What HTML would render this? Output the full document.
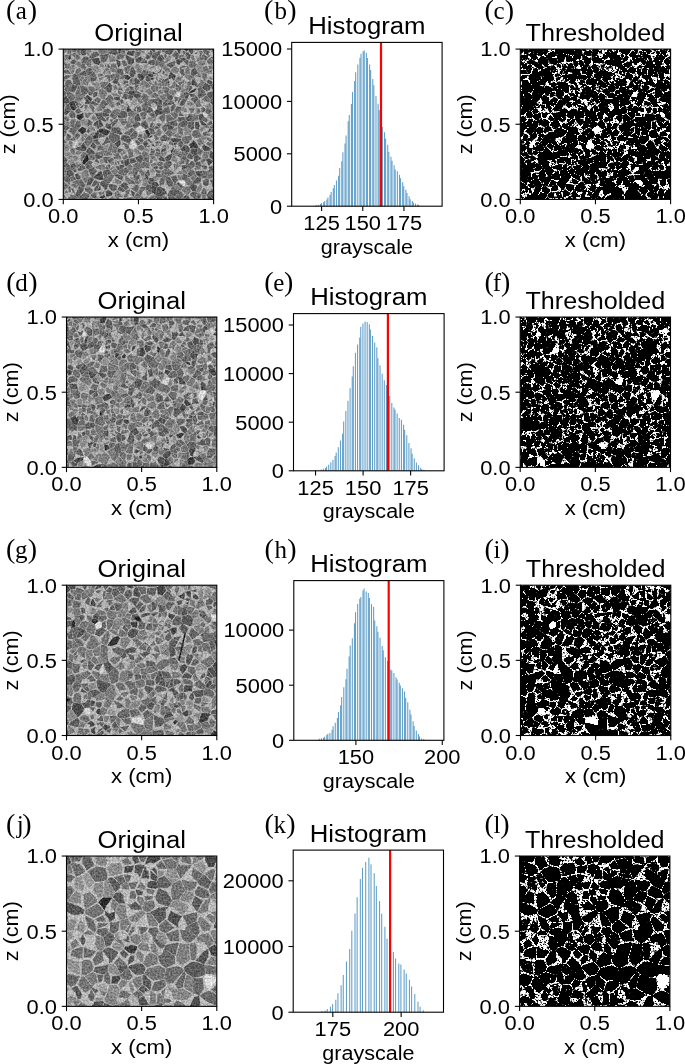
<!DOCTYPE html>
<html><head><meta charset="utf-8"><style>
html,body{margin:0;padding:0;background:#fff;}
svg{display:block;opacity:0.999;}
text{font-family:"Liberation Sans",sans-serif;fill:#000;}
text.pl{font-family:"Liberation Serif",serif;}
</style></head><body>
<svg width="685" height="1064" viewBox="0 0 685 1064">
<defs>
<filter id="nz1" x="0" y="0" width="1" height="1" color-interpolation-filters="sRGB">
<feTurbulence type="fractalNoise" baseFrequency="0.55" numOctaves="2" seed="7" result="n"/>
<feColorMatrix in="n" type="matrix" values="1 0 0 0 0  1 0 0 0 0  1 0 0 0 0  0 0 0 0 1" result="g"/>
<feComposite in="SourceGraphic" in2="g" operator="arithmetic" k1="0" k2="1" k3="0.45" k4="-0.2449"/>
<feGaussianBlur stdDeviation="0.3"/>
</filter>
<filter id="th1" x="0" y="0" width="1" height="1" color-interpolation-filters="sRGB">
<feGaussianBlur stdDeviation="0.5"/>
<feColorMatrix type="matrix" values="4.667 4.667 4.667 0 -8.3972  4.667 4.667 4.667 0 -8.3972  4.667 4.667 4.667 0 -8.3972  0 0 0 1 0"/>
<feGaussianBlur stdDeviation="0.3"/>
</filter>
<filter id="nz2" x="0" y="0" width="1" height="1" color-interpolation-filters="sRGB">
<feTurbulence type="fractalNoise" baseFrequency="0.55" numOctaves="2" seed="14" result="n"/>
<feColorMatrix in="n" type="matrix" values="1 0 0 0 0  1 0 0 0 0  1 0 0 0 0  0 0 0 0 1" result="g"/>
<feComposite in="SourceGraphic" in2="g" operator="arithmetic" k1="0" k2="1" k3="0.45" k4="-0.2373"/>
<feGaussianBlur stdDeviation="0.3"/>
</filter>
<filter id="th2" x="0" y="0" width="1" height="1" color-interpolation-filters="sRGB">
<feGaussianBlur stdDeviation="0.5"/>
<feColorMatrix type="matrix" values="4.667 4.667 4.667 0 -8.6240  4.667 4.667 4.667 0 -8.6240  4.667 4.667 4.667 0 -8.6240  0 0 0 1 0"/>
<feGaussianBlur stdDeviation="0.3"/>
</filter>
<filter id="nz3" x="0" y="0" width="1" height="1" color-interpolation-filters="sRGB">
<feTurbulence type="fractalNoise" baseFrequency="0.55" numOctaves="2" seed="21" result="n"/>
<feColorMatrix in="n" type="matrix" values="1 0 0 0 0  1 0 0 0 0  1 0 0 0 0  0 0 0 0 1" result="g"/>
<feComposite in="SourceGraphic" in2="g" operator="arithmetic" k1="0" k2="1" k3="0.45" k4="-0.2345"/>
<feGaussianBlur stdDeviation="0.3"/>
</filter>
<filter id="th3" x="0" y="0" width="1" height="1" color-interpolation-filters="sRGB">
<feGaussianBlur stdDeviation="0.5"/>
<feColorMatrix type="matrix" values="4.667 4.667 4.667 0 -8.6408  4.667 4.667 4.667 0 -8.6408  4.667 4.667 4.667 0 -8.6408  0 0 0 1 0"/>
<feGaussianBlur stdDeviation="0.3"/>
</filter>
<filter id="nz4" x="0" y="0" width="1" height="1" color-interpolation-filters="sRGB">
<feTurbulence type="fractalNoise" baseFrequency="0.55" numOctaves="2" seed="28" result="n"/>
<feColorMatrix in="n" type="matrix" values="1 0 0 0 0  1 0 0 0 0  1 0 0 0 0  0 0 0 0 1" result="g"/>
<feComposite in="SourceGraphic" in2="g" operator="arithmetic" k1="0" k2="1" k3="0.45" k4="-0.2162"/>
<feGaussianBlur stdDeviation="0.3"/>
</filter>
<filter id="th4" x="0" y="0" width="1" height="1" color-interpolation-filters="sRGB">
<feGaussianBlur stdDeviation="0.5"/>
<feColorMatrix type="matrix" values="4.667 4.667 4.667 0 -9.0748  4.667 4.667 4.667 0 -9.0748  4.667 4.667 4.667 0 -9.0748  0 0 0 1 0"/>
<feGaussianBlur stdDeviation="0.3"/>
</filter>
</defs>
<rect width="685" height="1064" fill="#fff"/>
<clipPath id="cp1"><rect x="63.30" y="49.10" width="150.30" height="150.30"/></clipPath>
<g id="og1" clip-path="url(#cp1)"><g filter="url(#nz1)">
<rect x="61.30" y="47.10" width="154.30" height="154.30" fill="rgb(178,178,178)"/>
<path fill="rgb(48,48,48)" d="M147.5 129.4l3.1 5.2l-2.4 2.7l-2.8 -5.2l0.2 -1.8zM87.4 154.1l-0.5 -0.4l-4.5 8.3l0.0 1.3l2.1 1.3l4.4 -4.5z"/>
<path fill="rgb(54,54,54)" d="M81.6 133.6l-3.0 -2.5l-0.8 -0.9l4.3 -3.3l3.5 1.3l0.1 3.8l-3.7 2.6zM76.7 117.8l1.0 0.6l2.5 2.0l3.3 -3.1l-0.3 -4.2l-0.7 0.5l-5.8 1.3z"/>
<path fill="rgb(60,60,60)" d="M219.7 184.0l-3.4 0.1l0.4 -4.0l1.8 -0.2l1.8 1.2zM99.5 197.5l0.7 -0.8l3.9 -1.8l1.4 2.1l-2.8 1.4l-0.9 0.1zM197.0 88.4l-2.4 3.2l-5.0 2.2l-0.7 -1.3l5.0 -3.4zM187.5 50.9l1.9 -5.6l-3.3 -1.5l-4.5 1.7l-0.8 1.2l3.0 1.8l2.6 3.0z"/>
<path fill="rgb(66,66,66)" d="M197.2 148.2l-6.4 0.2l-1.4 -3.6l4.1 -4.4l1.3 1.0l3.5 5.0zM99.6 132.6l-1.5 -2.7l1.5 -1.2l4.4 -0.2l5.5 2.5l0.6 0.6l-2.9 3.7l-0.9 0.3z"/>
<path fill="rgb(72,72,72)" d="M121.1 48.1l-0.6 5.1l-1.9 0.6l-0.6 -4.8zM120.6 141.9l-0.3 3.0l-2.8 2.7l-2.7 -4.2l5.1 -3.8zM95.5 132.4l1.4 0.0l0.8 -2.4l1.6 2.6l-1.4 5.6l-4.6 1.0l-0.8 -1.8zM129.0 105.4l-1.6 1.4l-1.0 3.6l1.1 2.2l4.3 -2.2l-2.2 -2.0zM90.7 101.7l1.4 -1.9l-0.6 -1.3l-0.8 -0.8l-3.2 -2.8l-2.1 1.5zM153.0 74.7l0.2 1.9l-2.4 0.8l-2.9 -2.0l0.7 -1.6l3.8 0.1zM69.1 58.8l-2.3 1.1l3.2 -4.8l0.9 0.4l0.2 2.6l-2.0 2.4zM73.7 100.8l-3.6 1.0l-1.1 1.8l2.5 6.2l2.8 0.6l2.4 -2.6zM125.0 78.9l3.4 1.2l2.5 -2.5l-3.3 -2.5l-2.1 -0.1l-1.5 -0.5zM61.0 48.5l-3.5 -6.6l-7.9 11.3l7.3 -1.1l1.9 2.4zM208.9 130.4l0.6 -2.2l1.3 0.6l-0.4 3.1l-2.5 0.3l0.5 -1.8z"/>
<path fill="rgb(78,78,78)" d="M133.5 196.9l1.4 -3.9l-3.9 -2.8l0.7 4.1zM183.1 61.0l-4.5 -2.1l-0.0 -0.0l-2.7 1.7l1.2 3.4l2.0 0.8l1.6 -2.1zM207.4 200.6l5.1 0.9l0.0 2.5l-2.8 1.2l-3.2 -1.4l-0.7 -2.6zM209.3 150.7l1.1 -1.3l0.5 -0.7l-0.7 -0.9l-4.8 -2.1l-1.3 -1.7l-2.1 3.0l2.3 3.9zM133.7 198.4l2.0 1.7l-0.4 3.2l-5.1 1.0l0.1 -2.3zM212.5 82.8l-1.7 2.2l-4.2 -2.9l1.9 -2.6l3.4 2.0zM112.3 195.3l-4.4 0.9l-1.7 0.5l-0.3 -2.7l-0.2 -2.5l2.6 -1.6l4.1 2.9zM144.0 79.0l-3.4 2.1l-2.9 -4.7l0.0 -2.3l2.9 -0.6l4.3 3.1zM206.9 195.3l1.0 3.7l4.7 2.2l0.5 -1.9l-3.2 -3.6zM83.5 151.2l1.9 -0.1l1.4 -3.7l-3.2 -4.6l-0.8 0.1l-2.1 3.4zM100.6 62.5l-2.1 -4.6l-7.2 1.1l3.0 4.4l3.3 1.0l0.9 0.6zM77.9 198.7l-9.0 2.9l-0.3 1.5l2.2 2.2l3.1 0.0l4.5 -5.6zM156.6 187.6l-1.1 7.1l-2.7 -2.1l-0.9 0.7l-0.5 -8.7l-0.0 -0.0zM168.9 150.7l1.8 -0.1l0.9 3.2l2.7 -5.5l-1.4 -0.1l-1.6 1.8l-1.4 0.5zM176.2 144.3l1.5 -1.8l-3.9 0.6l0.5 2.0zM153.6 74.3l3.8 -1.2l-2.4 -0.1l-1.4 -1.2l-0.8 1.8zM208.8 158.4l4.7 2.6l-1.5 1.8l-3.5 2.9l-0.9 -2.7l-1.6 -3.7zM153.9 181.6l-2.4 2.7l5.3 2.7l2.4 -1.2l-2.1 -3.2zM156.8 116.5l0.6 -1.5l6.3 -1.6l-1.2 -2.5l-5.6 -1.5l-2.2 1.6l-0.4 0.6z"/>
<path fill="rgb(84,84,84)" d="M122.2 46.6l0.9 -4.1l-4.0 -0.4l-2.7 1.8l-0.0 2.4l1.6 0.8l3.1 0.5zM151.0 77.9l0.1 2.4l2.2 -0.9l0.2 -0.5l1.6 -0.5l-1.2 0.1l-0.6 -1.3zM175.6 75.6l-4.9 -3.9l-1.6 2.9l-0.7 2.9l0.5 1.7l2.7 -1.2l2.8 3.0zM199.6 121.2l2.2 3.8l2.6 1.0l2.1 -1.6l-0.9 -0.6l-3.7 -3.6l-2.4 0.6zM183.3 60.8l-4.3 -2.3l5.1 -1.0l2.4 1.8zM134.7 97.2l-1.4 -1.6l1.4 -2.1l6.2 1.3l-0.8 2.6l-3.4 0.8zM94.9 148.9l-4.6 -2.3l2.4 -4.2l3.8 3.5zM151.0 135.6l1.8 -0.3l-1.8 2.2l-2.3 0.4l-0.3 -0.6zM194.9 122.5l0.4 6.1l3.3 0.8l1.1 -3.3l-1.3 -4.4zM76.6 54.3l-0.7 2.1l2.9 -1.0zM120.6 65.4l-2.4 1.9l-1.4 -4.6l-0.4 -3.3l3.8 1.9zM67.3 114.5l-1.9 0.4l-2.3 -3.1l7.8 -1.5zM97.7 191.2l2.0 -5.9l1.5 4.0zM196.1 174.0l1.6 2.1l2.6 1.3l2.5 -6.9l-2.2 0.7l-5.3 0.2zM148.6 177.0l-3.3 -4.0l-0.4 1.6l0.4 2.2l1.9 2.7l0.6 0.4zM179.4 54.0l0.9 -1.4l0.6 -2.6l-0.3 -3.2l-4.8 2.4l1.0 0.5zM100.0 119.5l-1.5 0.4l1.0 8.0l3.6 -1.9l-0.4 -2.6zM196.3 54.0l-2.2 0.0l1.7 -1.2l2.6 -1.4l-2.0 2.5zM133.2 55.9l-6.9 -1.6l1.4 -2.0l0.7 -1.8l2.3 0.6l2.5 -0.3l1.6 0.8zM173.6 142.5l-3.1 -2.5l0.1 -1.6l3.0 -0.4l7.1 0.9l0.5 1.2l-3.4 2.2zM162.2 55.1l-2.1 0.1l3.7 4.5l1.0 -0.9l-2.2 -2.8zM177.8 103.5l0.1 -1.5l1.9 -4.4l0.2 -0.1l1.6 1.5l-3.4 4.1zM103.1 177.3l-0.3 2.7l-3.3 0.1l-4.2 -1.4l-2.2 -1.5l5.7 -5.0l2.5 -1.3l0.4 0.5zM134.8 90.4l-5.3 -0.0l-1.5 3.4l0.7 0.4l4.4 1.4l1.4 -2.1zM74.6 167.0l0.3 -4.3l-4.5 2.8l-0.0 3.6l0.4 -0.2zM135.4 177.8l0.6 -1.5l1.4 -1.2l2.1 2.8l-1.6 2.2zM157.1 79.1l0.5 -0.0l-0.2 2.2l-0.8 -2.0l-1.2 -0.9zM181.4 165.7l3.1 -0.5l2.2 0.0l1.1 2.0l-5.4 2.9l-0.2 -2.5zM196.0 191.7l0.8 -6.3l-4.3 -1.5l-2.8 2.6l2.2 4.2zM169.0 155.0l2.6 -1.0l0.8 1.7l-2.1 4.4l-2.4 1.2l-1.6 -0.6l-1.2 -3.3zM109.1 114.1l-6.2 -1.3l-0.0 3.8l2.8 -0.1l3.1 -0.6zM111.4 41.8l-4.2 6.7l-2.3 -2.4l1.4 -1.8l1.0 -1.3l3.3 -2.7zM197.5 85.3l-4.6 -7.1l-1.5 3.3l0.2 3.6l3.1 0.1l2.5 2.3l0.7 0.1z"/>
<path fill="rgb(90,90,90)" d="M176.5 146.0l-2.2 -0.5l1.1 1.3l-0.4 0.8l1.4 -0.4zM106.2 124.2l-1.1 2.4l5.0 3.7l1.8 -2.9l-1.4 -3.7l-2.1 0.2l-1.3 -1.7zM205.3 82.4l0.4 1.0l5.0 1.8l-0.5 4.3l-3.5 1.8l-4.8 -3.6zM73.8 41.6l0.0 5.0l-2.5 1.8l-1.1 -0.1l0.6 -3.7zM215.8 43.1l-1.6 2.8l-1.9 1.0l-0.9 -1.1l2.7 -3.1zM58.9 98.0l7.6 -2.0l3.5 5.6l-1.3 1.7l-2.7 0.5l-1.9 -0.8zM181.4 150.0l-1.0 -0.3l3.9 -5.0l3.4 1.2l2.0 3.2l-0.3 2.7l-0.6 0.4l-6.8 -0.6zM120.6 98.3l-1.1 -0.9l0.6 -1.2l-6.1 1.1l0.6 3.0l1.6 -0.2l3.3 0.4zM95.8 153.1l-0.6 1.1l0.5 4.5l3.3 0.0l3.5 -1.1l-1.2 -1.2l1.4 -0.2zM216.3 97.0l0.9 -2.8l3.1 1.6l0.7 1.2l0.2 2.8l-3.3 1.6zM80.4 53.1l0.0 -5.2l2.7 -1.5l2.5 2.3l0.3 6.4l-3.4 -0.1l-0.5 -0.4zM140.7 119.9l-1.8 -5.8l-1.4 -0.6l-3.4 4.0l1.3 3.1l4.7 0.5zM182.5 87.2l0.4 0.4l0.6 -2.2l0.5 -2.4l-2.2 2.6zM198.0 73.1l-2.9 -5.3l-3.5 2.3l-1.0 3.9l2.6 2.8l0.7 -0.8zM213.9 121.9l-0.4 1.6l1.1 1.1l2.2 -0.9l-1.8 -1.6zM86.6 184.5l0.0 0.7l3.9 -0.1l3.3 -5.5l-1.1 -2.1l-2.9 0.1l-0.8 -0.6zM94.1 151.7l-0.3 -0.7l-4.3 -3.3l-1.4 0.5l-1.9 3.5l0.9 1.7l0.5 0.3l6.7 -0.0l1.2 -0.8zM209.2 157.3l4.5 3.3l1.6 -3.5l-0.8 -2.8l-3.1 -3.5l-1.4 0.9zM147.4 206.7l1.0 1.0l-7.3 -2.9l1.4 -3.2l3.2 0.3zM189.5 203.0l-3.6 -1.7l0.7 -5.9l2.2 0.5l0.7 3.4zM197.4 154.7l-0.2 -6.3l-6.3 1.1l-0.8 2.5l3.7 4.2zM57.9 129.1l2.3 -0.5l0.9 -2.5l-4.1 -3.8l-1.9 1.4l1.8 6.8zM134.2 77.6l2.1 0.4l3.8 3.5l-0.6 2.1l-0.1 0.5l-4.2 -0.1zM213.2 83.7l5.2 2.7l-3.5 3.7l-2.8 -0.9l-1.2 -4.1zM216.0 157.9l4.9 1.2l1.8 4.6l-4.9 1.6l-1.0 -3.1l-2.7 -1.3zM167.1 150.8l-6.1 1.6l-0.5 -0.1l0.9 -2.4l4.9 -2.5l-0.2 3.3zM192.6 53.1l-1.2 1.1l-2.9 -2.9l1.4 -5.7l1.8 -0.4l2.0 5.9zM94.4 199.5l3.4 -1.3l-2.1 4.0l-0.6 1.9zM108.6 164.4l1.3 -0.3l0.0 2.0l-0.3 3.5l-0.9 -0.5l-0.6 -4.0zM90.6 101.8l-5.7 -5.1l-0.9 -0.1l2.0 5.2l-1.0 0.7l-0.2 0.9l3.3 0.9l1.8 -0.7zM149.9 145.0l-0.3 1.2l-0.3 1.0l-3.4 -0.2l3.5 -1.7zM132.7 58.4l-6.6 -3.7l-0.5 0.3l0.7 3.7l2.0 5.8l3.1 0.2l1.2 -0.8l1.2 -1.4l0.6 -4.0zM117.8 81.1l1.1 1.1l-2.3 1.9l-2.7 -0.6l-1.6 -1.4l2.9 -3.7l3.9 0.9zM135.1 58.5l1.0 3.9l3.0 0.3l4.7 -4.5l-2.7 -0.7l0.3 -1.3zM83.9 104.5l-1.9 3.4l-2.9 -0.0l1.0 -0.6l2.6 -2.3zM124.3 164.9l-0.1 -4.7l4.5 -1.7l0.3 0.5l1.0 4.6l-3.9 3.0l-0.5 -0.9zM158.0 101.3l0.3 3.3l3.6 0.4l0.7 -3.7l-3.5 -2.5zM162.6 69.9l2.6 3.0l-2.9 1.1l0.5 -1.2zM77.9 86.0l-4.8 -1.2l-0.7 0.0l-2.7 6.7l4.4 0.8zM159.7 186.4l4.3 2.2l1.0 1.7l2.4 3.7l-1.7 -0.3l-2.8 2.0l-5.7 0.7l-1.6 -1.6l1.5 -7.2zM148.5 138.7l2.5 2.8l2.6 0.6l-0.9 0.2l-2.0 0.6l-0.3 -0.3l-3.3 -2.6zM198.4 114.9l0.8 4.9l2.6 0.1l2.6 -2.7l-2.2 -3.6l-0.8 0.6zM154.2 149.7l-3.5 1.1l0.4 -1.9l0.3 -1.2l0.8 1.3zM213.7 119.4l-1.8 0.1l1.9 -6.5l1.0 3.2l1.4 -0.8l1.5 2.4l-2.6 1.1zM172.0 130.3l-3.9 -0.8l-1.5 -6.2l7.5 3.9zM168.4 168.2l-0.4 -6.7l2.5 -0.5l1.2 2.7l-1.0 2.1zM88.5 133.0l-1.4 -1.4l0.5 -2.8l-0.3 -1.8l3.2 4.0zM63.4 199.0l-1.4 0.1l-0.1 2.5l2.6 0.5l2.1 0.4l1.2 -1.1l-1.2 -2.5zM69.6 177.0l-3.7 -1.8l1.3 -4.5l3.1 -1.4l0.3 0.3l3.3 3.7l-0.4 1.6zM202.0 49.5l0.6 -0.6l0.4 -3.8l-6.3 -4.3l-1.7 2.0l4.8 7.1zM123.5 182.3l-3.6 3.2l5.9 4.6l3.1 -2.5l-1.9 -1.8l1.4 -1.7l-4.1 -1.4zM98.0 119.9l-3.7 3.2l-1.1 2.3l4.0 1.7l0.6 2.4l1.1 -1.5l-0.6 -8.1zM162.2 80.5l1.2 -1.7l1.3 1.0l2.5 -1.8l1.4 1.4l-1.8 2.1l-2.1 0.3l-2.9 -0.6zM163.3 60.2l0.5 2.2l-6.9 -2.2l1.7 -4.5l1.4 -0.4zM161.0 155.9l-2.4 3.0l0.5 1.4l4.5 1.1l2.2 -0.5l-1.9 -3.0zM78.5 74.2l4.5 -2.9l2.1 -0.8l1.8 4.9l-1.8 0.7zM107.5 64.2l0.7 -0.1l0.7 0.8l1.5 2.0l-1.3 1.0l-1.7 -0.2z"/>
<path fill="rgb(96,96,96)" d="M120.3 74.7l-3.9 -3.3l0.6 -2.0l1.5 -1.0l2.8 1.2l1.0 -1.2l1.2 4.6l0.4 1.5zM65.0 47.4l1.4 -4.3l1.0 2.1l1.2 -0.5l1.6 3.7l-3.1 1.0zM123.3 80.7l0.5 3.5l4.0 -1.5l0.3 -1.7l-3.1 -0.5zM107.2 159.9l4.5 -2.8l-1.7 0.2l-5.7 -0.4l-1.5 0.8l1.4 2.0zM189.5 93.9l5.2 -0.1l2.0 2.6l-6.0 0.4zM157.5 101.5l-3.4 1.3l2.0 1.1l0.5 2.1l1.5 -1.4zM78.9 108.1l1.0 2.6l2.1 1.1l-5.5 2.3l-1.2 -3.0l2.6 -2.1zM153.1 146.0l-1.3 0.3l-0.4 -1.6l2.1 -0.6l1.6 2.7zM139.2 134.1l2.2 0.3l1.3 3.9l-4.6 -1.2zM203.3 201.2l2.0 0.1l0.7 2.6l-1.6 0.5l-1.9 0.2l-0.1 -0.7zM158.9 166.5l-2.0 -2.2l0.9 -1.7l0.0 -0.3l3.9 3.4zM210.3 99.1l-3.7 -4.3l1.2 -2.0l3.6 -1.3l3.1 0.3l2.2 2.0l-1.4 2.7zM120.2 130.9l2.5 2.9l-2.2 1.2l-9.7 -3.3l0.4 -0.7l1.0 -3.4l6.0 -0.4l2.7 1.7zM117.7 116.4l3.6 -5.8l4.1 0.8l1.7 1.7l0.2 3.2l-1.5 1.1l-7.3 1.2l0.2 -1.1zM201.1 157.8l-1.7 2.3l-4.0 2.5l-1.5 -3.2l0.0 -3.0l3.6 -1.6l2.1 2.0zM179.3 104.1l2.3 2.4l2.7 -2.1l2.2 -3.7l-1.9 -1.6l-2.5 0.1zM131.3 99.9l-3.4 -1.2l0.7 -3.9l4.5 0.8l0.1 2.0l-1.8 2.2zM157.3 101.0l-3.3 1.7l-4.5 -2.7l2.1 -0.8l7.2 -0.7l0.2 0.3zM153.9 176.5l-0.3 5.0l-2.3 2.8l-0.0 -0.0l-2.5 -0.3l-0.7 -3.8l1.7 -2.4l1.8 0.5l1.5 -0.8zM131.6 139.6l-2.6 4.2l-6.8 -3.3l-1.8 -1.4l1.2 -2.9l1.7 -1.7l5.4 1.8zM161.3 203.5l1.5 -7.3l-5.6 0.4l-0.7 4.5l2.3 -0.8zM97.5 191.1l1.6 -6.0l0.2 -3.1l-4.6 6.3l-0.4 2.8l2.3 -0.4zM110.6 83.0l-0.1 0.9l1.7 1.3l-0.6 5.3l-0.9 2.3l-2.0 -0.0l-4.8 -4.4l5.3 -5.5zM202.7 165.3l2.4 0.3l2.5 0.9l-1.2 2.4l-3.3 1.2l0.5 -2.2l-2.3 -1.8zM191.9 120.6l-3.7 0.8l-2.8 -2.0l0.1 -2.9l2.4 0.7l0.6 -2.9l3.3 -0.0zM79.0 185.8l-1.6 4.5l-2.0 3.9l2.7 3.8l5.1 -6.7l0.6 -3.3zM217.2 54.5l2.1 3.3l-2.2 3.8l-2.1 -1.5l-4.5 -2.7l3.5 -1.0l0.9 -2.8zM122.3 192.1l3.2 -1.7l-6.0 -4.4l-0.5 1.0l-1.5 2.7zM186.5 195.3l-1.0 5.9l-1.8 0.5l-2.8 -1.8l3.8 -4.1zM160.2 149.7l-2.5 -0.4l0.2 -1.3l-2.2 -0.8l1.7 2.1l-2.6 0.4l1.5 1.3l3.9 1.3zM70.4 61.8l2.5 -2.4l1.1 -0.1l2.3 1.6l-1.5 3.4l-3.7 -0.4zM119.5 152.7l-2.2 -0.2l0.4 -4.5l3.1 1.2l3.3 0.5zM147.2 128.4l1.4 -1.2l-1.2 -3.4l-1.8 -3.5l-3.0 1.4l-1.1 0.6l-0.7 2.6l4.3 4.0zM159.6 167.3l2.1 -1.5l0.6 0.2l1.4 2.3l-2.6 1.8l-2.0 -1.6zM218.9 49.9l-1.4 1.5l-2.5 1.8l2.4 0.8l1.5 -2.5zM120.8 165.1l3.3 0.0l0.1 1.6l-1.6 2.1l-2.5 0.3l-1.2 -3.7zM123.3 101.1l-1.8 -2.3l-1.4 2.1l0.9 3.2l2.6 -1.1zM76.6 179.1l2.5 0.6l1.3 -1.8l0.5 -0.3l-2.0 -3.1l-1.1 -1.0l-2.1 0.6l-1.2 1.2zM125.8 100.0l-0.8 -1.3l-3.1 -0.6l0.9 -1.4l1.2 -3.4l3.4 0.9l0.3 0.6l-0.5 3.8zM115.3 47.4l-6.6 5.4l0.5 -0.1l0.1 0.9l5.4 1.4l3.7 -1.1l-2.0 -5.0zM150.4 124.2l1.8 -2.3l1.4 1.8l-2.6 4.0l-1.6 -0.6zM136.4 105.9l1.5 1.1l2.2 -0.7l1.8 4.9l-3.0 1.1l-1.4 0.5l-0.3 -1.4l-0.9 -5.1zM61.4 155.1l1.5 -1.1l1.6 -1.7l-2.6 -7.6l-0.9 0.7l-14.2 4.9l7.3 1.9zM102.5 116.6l-2.7 2.6l-1.5 0.3l-0.3 -0.1l-2.8 -5.5l-1.6 -0.7l2.4 -0.0l5.6 -0.7l0.9 0.3zM188.0 93.0l0.3 -0.1l1.0 1.0l-0.9 2.7l-0.4 0.9l-1.0 2.4l-2.0 -1.5l-1.3 -5.2l2.4 -1.3zM66.8 135.3l2.9 3.9l1.7 -3.2l-2.9 -1.7l-1.7 0.1zM144.4 51.4l-0.4 1.0l2.0 0.6l-2.2 -0.5l-0.5 0.6l-2.1 -1.5l0.4 -1.2zM133.0 171.8l5.2 0.3l-1.3 1.2l0.4 1.5l-1.4 1.2l-2.5 -2.1zM133.8 76.7l0.6 -2.1l1.7 -1.2l-2.7 -6.6l-1.6 -0.4l-2.8 7.7l2.1 3.5zM107.6 163.2l-0.4 -3.1l-3.0 -0.2l0.3 2.9l1.6 -0.0l0.6 0.4zM166.2 64.3l6.7 -2.6l2.3 -1.0l-0.1 3.8l-4.1 3.8zM147.7 63.2l1.3 -2.4l2.3 -1.0l4.1 0.9l-0.7 4.6l-4.7 -0.9zM165.0 86.3l1.6 -0.4l0.4 -4.4l-1.9 1.4l0.1 2.9zM216.9 121.2l1.3 -2.9l5.5 2.5l-1.2 4.6l-0.0 0.2l-3.2 -2.2zM172.7 101.2l-2.5 -0.7l-2.3 2.7l0.7 2.0l1.4 -0.2l4.9 -1.8zM109.0 116.6l-2.8 1.5l0.8 3.4l1.2 -1.5l0.5 -1.5zM122.1 180.5l-6.5 -3.5l-1.1 -1.6l3.2 -1.5l5.8 2.7l-1.2 3.2zM186.8 59.3l-0.4 -3.1l-1.4 -1.7l1.6 -2.0l1.3 -0.3l3.1 2.7l-1.3 4.3l-0.7 0.2zM214.4 192.8l0.6 1.5l-0.7 2.8l-1.1 2.1l-3.2 -3.7zM173.5 96.5l-5.1 -3.3l-1.5 0.9l-0.1 3.4l3.2 2.7l2.5 -0.9zM91.3 81.9l5.0 -1.8l0.7 -2.1l-0.4 -1.3l-6.5 1.9zM159.4 71.6l0.0 -0.2l2.4 -3.6l-0.2 1.8l-1.0 3.2l-1.6 -0.1l-1.2 0.8l-0.3 -0.6zM104.7 118.5l2.0 3.1l-2.5 -0.1l-4.2 -2.1l2.7 -2.6zM175.5 175.5l0.8 0.4l1.8 4.5l-1.1 0.2l-0.9 1.9l-1.8 1.1l-3.6 -6.8zM190.6 158.9l1.6 0.1l1.2 -2.6l-3.8 -4.0l-0.6 0.3l-1.9 3.5l0.4 1.9zM65.3 62.3l-5.9 -0.8l0.8 3.8l3.9 0.9zM150.1 174.5l-1.5 -5.2l-1.8 2.4l-1.3 1.1l3.7 3.5zM183.8 186.7l-2.3 2.3l-5.1 -5.8l1.7 -1.0zM158.4 104.8l-1.5 1.6l-0.0 2.9l5.6 1.5l-0.4 -3.1l-0.2 -1.9zM146.4 140.3l-2.0 0.9l-1.9 2.4l0.8 0.2l1.4 3.1l1.1 0.0l2.4 -3.1zM134.2 157.7l-4.5 1.2l0.5 4.7l2.1 0.0l4.6 -1.8zM143.3 157.6l-1.0 3.5l-1.8 2.0l-3.1 -1.6l-2.3 -4.2l1.4 -0.1l4.3 -2.7zM210.4 99.5l5.1 -2.1l2.0 4.1l-1.6 2.5l-3.7 0.8l-1.7 -2.3zM199.7 161.4l1.9 3.2l-0.6 1.5l-5.5 -0.9l-0.1 -2.5zM61.9 126.2l-1.2 2.5l6.6 1.4l2.6 -2.2l-5.3 -2.8l-2.2 0.3zM109.6 169.8l0.6 1.2l1.3 2.7l-7.5 3.3l-1.5 -6.1l2.7 -1.0l3.3 -0.2zM147.6 75.6l-1.9 1.4l-0.0 2.4l1.4 2.5l0.7 -0.1l3.1 -1.6l-0.6 -2.4zM103.7 187.4l-3.4 -2.7l-0.7 -2.7l0.8 0.4l2.5 -2.1l5.3 3.9l-0.9 4.0l-2.4 2.2zM146.9 53.9l4.2 2.6l-0.9 1.6l-2.2 1.2l-3.3 -1.3l1.6 -1.5zM213.8 42.4l-1.3 -1.1l-4.6 0.9l-0.1 0.7l1.6 3.1l0.4 -1.6zM182.3 179.6l2.6 1.1l2.7 -3.6l-1.0 -2.3l-3.0 -1.0l-1.0 1.1zM197.7 183.6l2.7 -1.2l0.7 -2.4l-0.8 -2.4l-2.6 -0.8l-4.9 4.7l-0.1 2.2zM183.4 61.0l3.3 -1.3l1.8 1.0l-0.5 5.1l-3.0 -3.3zM75.8 51.9l1.1 -3.1l-1.9 0.1l-3.3 0.5l1.1 2.7l2.8 -0.0zM189.5 86.0l1.6 -0.5l1.5 2.3l-4.0 4.4l-0.1 -0.4zM93.8 97.4l3.5 -1.6l0.1 -4.1l-3.8 0.7l-0.4 3.7zM82.6 151.5l-5.8 -1.7l-1.8 -1.7l3.3 -0.9l2.1 -0.9l2.6 5.0zM167.9 54.6l2.3 0.3l-2.4 -4.5l-2.0 0.2l-1.0 2.6zM154.8 50.3l-0.0 -1.2l-0.2 -2.8l-2.1 1.5l-1.9 0.9l0.5 0.8l2.1 2.6l2.1 -0.1zM168.0 50.3l2.4 4.6l0.8 -0.4l3.0 -5.0l1.1 -0.4l-3.7 -3.3l-1.1 0.8z"/>
<path fill="rgb(102,102,102)" d="M139.1 186.1l-1.8 6.4l-1.5 -0.8l-4.2 -2.8l-0.6 -0.7l2.4 -0.8l2.8 -2.3l2.6 -0.4l-1.4 2.0zM64.0 115.3l-0.1 1.5l-5.3 0.4l-1.1 -1.5l0.6 -4.2l2.1 1.6l1.4 0.2l1.2 -1.3zM63.8 119.2l-2.3 1.6l-2.8 -0.4l-0.1 -3.1l5.3 -0.3zM107.0 165.4l-0.8 0.2l-1.2 3.7l3.4 -0.2zM117.2 119.1l1.2 -0.2l-1.7 4.1l-4.5 4.2l-1.1 -3.9l3.3 -3.4zM185.2 119.6l-6.1 3.5l-1.0 2.7l4.9 1.7l3.5 -1.1l1.4 -4.4zM186.8 164.9l2.8 -4.3l-2.6 -1.8l-2.6 1.8l1.3 2.5zM91.3 95.5l2.2 -3.2l-4.9 -1.1l-0.8 2.9zM58.3 82.7l1.5 -4.0l3.0 -0.3l2.1 1.7l-1.7 2.6zM104.4 62.5l-3.2 -0.2l-0.8 -5.2l-0.5 -1.6l8.3 -2.1l1.0 0.4l-2.7 7.1l-0.9 0.4zM191.9 120.9l-3.5 1.3l-1.4 4.4l5.1 3.7l1.9 -1.6l-0.0 -6.2zM204.2 132.3l-1.2 0.9l-0.8 1.9l3.1 0.8l2.2 -3.3l-1.1 -1.3zM135.3 84.3l4.1 0.1l-1.1 1.3l-2.8 4.2l-0.2 -0.4l-0.8 -3.4zM160.3 53.0l0.5 -2.2l-0.5 -0.8l-2.8 1.8l-1.8 0.4l2.9 3.2l1.3 -0.4zM97.7 56.3l-6.4 2.5l-1.8 -0.8l-0.1 -1.4l4.2 -4.5l3.3 -0.5l2.7 3.7zM203.2 50.6l0.4 -0.8l2.9 0.4l3.7 1.9l-1.7 1.3l1.3 3.4l-1.2 0.0l-4.5 -3.8zM176.2 105.3l-3.2 5.7l-2.0 0.7l-0.3 -5.5l4.4 -2.8l-0.3 2.0zM204.9 127.8l-0.2 -1.7l1.9 -1.7l1.8 2.1l0.9 1.1l-2.3 -0.2zM160.4 139.6l0.0 -1.9l3.3 -2.7l0.6 -0.7l5.6 4.0l-0.6 1.6l-4.0 1.2l-1.3 -0.2l-2.2 0.4zM78.7 185.5l-6.4 -1.6l-2.0 1.4l2.6 0.3l2.0 2.1l4.0 -2.0zM137.7 145.5l-2.7 -5.0l1.7 -0.8l5.3 3.8l-0.8 -0.1zM59.1 61.5l-0.5 0.4l-4.0 4.1l0.6 2.2l3.4 -1.0l1.3 -1.9zM139.8 122.5l-4.4 -1.7l-3.0 4.6l0.8 1.4l1.8 2.0l5.4 -3.6zM168.8 79.4l0.7 3.5l-0.7 4.4l-1.3 -1.5l-0.4 -4.3zM212.7 187.7l3.4 -3.6l-0.5 -3.9l-2.4 -1.0l-3.3 0.7l2.2 4.8zM85.4 63.6l3.9 -5.5l-1.5 -0.8l-1.7 -1.2l-2.8 1.4l-2.1 2.6l0.7 3.1zM148.3 113.5l5.0 -2.0l0.1 -0.6l-2.0 -3.0l-2.9 -1.5l-2.4 5.8zM100.7 205.7l2.2 -0.2l0.6 0.8l0.4 -2.4l-1.0 -3.1l-1.2 0.1zM158.4 55.5l-2.4 4.2l-0.5 0.7l-3.1 -2.5l-1.0 -1.5l1.9 -3.5l2.1 -0.6zM202.0 111.9l0.4 0.7l1.9 -1.2l1.5 -2.2l-2.5 -2.3l-2.5 1.6zM208.2 170.8l5.3 1.3l3.4 -2.1l0.5 -4.1l-3.9 0.1l-4.4 0.8l0.1 2.8zM213.8 132.8l-1.5 -1.4l-0.8 0.5l-0.4 -3.1l2.6 0.0l0.4 0.9zM215.2 192.4l1.0 1.2l3.8 1.9l0.9 -0.4l-1.7 -4.6l-3.7 0.8zM179.7 85.2l-1.7 -2.3l5.9 -2.5l-0.3 2.2l-2.7 2.0zM156.8 124.9l-0.6 -1.4l2.4 0.1l2.8 0.5l-1.6 2.8l0.2 1.0zM77.3 74.7l-3.3 -0.4l-1.7 0.8l0.3 3.9l0.8 4.7l4.5 2.1l1.3 -0.3l0.9 -0.6l0.4 -2.7zM215.4 197.5l0.5 -3.1l4.0 1.1l-1.0 3.0zM69.8 139.3l-0.0 0.6l3.5 0.8l2.1 -0.9l-1.5 -3.5l-1.1 1.5zM167.7 194.1l6.9 2.6l2.4 3.7l-1.2 5.1l-1.9 1.2l-5.3 -1.9l-0.4 -9.1zM174.5 126.5l-7.9 -3.3l-0.0 -0.4l8.9 -2.6l0.6 0.4l0.7 2.5l0.9 2.8l-0.7 -0.4zM206.6 194.8l3.2 -4.4l0.8 0.4l1.9 -2.4l1.3 2.5l0.3 1.3l-4.2 3.2l-3.0 -0.3zM160.2 49.8l-0.7 -2.2l-2.4 1.4l0.0 1.0zM135.6 56.2l-0.3 -4.4l5.4 -0.1l-0.2 2.9l-5.5 3.6zM205.4 111.7l0.6 -2.5l4.9 0.1l1.1 2.5l-3.9 2.5zM160.0 75.1l0.8 1.0l1.8 1.8l-1.2 -1.8l0.6 -1.4l-0.6 1.0zM108.9 162.9l-1.5 -2.8l4.8 -2.4l1.4 1.7l-3.5 3.8zM180.4 73.5l-0.5 -5.4l3.9 1.5l1.1 5.1l-1.3 1.2zM69.1 115.3l2.2 2.8l3.7 -0.7l0.4 -2.8l-1.5 -2.6l-2.6 -1.8l-0.1 0.4zM159.9 78.1l2.4 0.3l-0.7 1.9l-2.3 -1.6l0.2 -0.2zM145.6 189.2l6.1 4.1l-0.5 -8.7l-2.4 -0.4l-3.5 2.8zM66.5 135.7l-0.1 3.0l0.4 3.6l0.4 -1.4l2.1 -1.0l0.3 -0.6zM198.6 98.9l-1.8 -2.1l-5.9 1.4l-0.3 1.2l4.4 3.5zM115.0 198.8l-4.4 5.0l-1.7 -0.9l-0.0 -4.4l4.0 -1.5zM175.9 101.4l-0.5 1.2l-0.3 -2.9l-0.6 -2.7l-0.1 -0.2l5.2 0.7zM178.6 145.0l-0.5 -2.5l3.2 -2.3l2.4 4.0l-3.4 5.3l-0.6 -3.4zM187.3 174.3l3.0 -4.9l2.3 1.2l1.6 0.7l0.9 2.7l-5.4 2.9l-1.9 0.1zM207.5 186.2l-3.4 -0.6l-1.3 -2.5l0.5 -2.6l3.3 -2.0l2.6 1.4l-0.9 5.4zM192.7 197.5l-2.9 -2.6l2.0 -3.0l4.1 0.1l1.0 0.8l-1.9 6.9zM93.5 113.0l-2.4 -4.1l-2.1 -3.4l0.9 -1.7l4.6 3.7l-0.8 3.2zM65.2 83.5l0.4 -3.3l4.5 -0.3l2.3 4.1l-0.2 0.6l-6.9 1.4zM102.3 144.4l2.6 -3.4l1.6 -4.3l1.0 -0.0l2.9 5.5l-2.0 0.4l-5.7 3.0zM184.6 54.1l1.4 -2.0l-2.9 -1.0l-0.9 2.1zM123.2 66.2l4.5 -1.3l-3.0 -5.1l-3.0 1.5l1.7 3.6zM69.6 192.0l1.8 0.2l-1.7 -6.2l-1.0 0.6l-0.4 3.0zM170.4 190.3l-2.6 3.6l6.9 2.4l5.5 -5.1l-8.3 -4.5zM85.4 70.3l2.1 4.9l0.8 0.3l5.1 -3.8l-1.0 -0.6l-1.4 -3.6l-3.5 1.3zM178.3 58.3l0.8 -3.8l-3.5 -3.9l-3.7 4.8l3.1 1.9l0.6 2.6zM59.3 130.9l1.3 -1.9l6.3 2.1l-0.9 1.0l0.4 2.0l-3.8 -1.2zM95.6 158.9l2.9 1.0l0.3 3.4l-2.6 -1.4l-1.7 -0.5zM113.3 191.4l-4.1 -3.0l-0.9 -4.3l4.5 -0.2l4.2 2.3l-0.5 3.2zM78.6 106.6l-0.5 -4.1l-3.2 -2.4l-0.9 0.6l3.4 6.5l1.4 0.4zM163.4 101.6l0.3 -0.4l3.7 2.0l0.5 2.1l-4.3 1.6l-0.8 -1.7zM178.2 90.9l1.4 -5.4l0.9 1.1l1.3 1.3l-2.0 2.8zM99.2 181.9l-0.9 0.1l-3.6 -1.9l-3.1 5.5l2.1 1.1zM59.4 91.4l-0.1 5.0l-0.6 1.2l7.3 -2.2l0.5 -2.5l-2.9 -2.8zM109.3 113.1l-6.4 -0.5l0.4 -1.0l0.1 -2.2l4.4 -0.9l2.3 1.5l1.6 1.9zM137.6 133.9l-0.9 3.2l-1.1 0.8l-1.5 0.4l-2.3 1.2l-2.1 -3.5l5.2 -6.1zM133.5 178.2l1.7 -0.5l0.6 -1.6l-2.5 -2.0l0.1 2.0zM81.2 179.3l-1.9 0.9l-0.2 5.2l-0.0 0.2l4.7 1.9l1.3 -1.9l0.1 -0.6zM90.8 101.9l2.1 -1.0l5.1 3.1l0.3 0.6l-3.0 0.9l-5.3 -1.7zM119.6 101.1l-3.3 1.6l0.7 3.2l1.6 -0.2l1.7 -1.3zM98.4 138.4l1.2 -5.7l6.5 3.5l-4.6 0.9zM58.0 99.6l-1.1 -1.3l-2.1 3.9l0.7 1.2l4.1 1.0l3.1 -1.0l-4.4 -5.0zM211.5 147.2l0.3 1.1l6.9 -3.3l-0.0 -0.7l-4.6 -4.5l-1.1 0.4l-1.6 2.1zM206.7 124.3l0.9 -0.7l2.0 -2.0l1.8 -1.4l0.4 1.4l0.6 2.1l-3.2 2.0zM181.2 158.3l3.1 2.2l2.3 -2.2l-0.3 -1.9l-3.8 -0.3zM116.0 166.4l2.2 -0.3l0.6 -0.6l1.2 3.7l-1.7 1.3l-2.4 -3.0zM167.2 176.4l-2.2 1.5l2.0 6.6l1.2 1.7l3.5 0.4l2.2 -2.8l-4.2 -6.5zM201.7 87.7l3.6 4.9l0.6 2.2l-5.2 3.3l-1.6 0.5l-1.6 -2.4l0.8 -3.4l-0.4 -4.2l0.2 -0.7zM70.9 110.0l0.4 -0.1l-2.5 -6.2l-2.6 0.9l-1.6 5.9l-1.5 1.1zM219.2 48.7l-1.1 -2.5l-1.8 0.1l-0.3 -3.2l3.3 -1.0l2.9 3.0zM158.2 169.9l-3.1 0.2l1.0 2.2l4.5 1.1l-0.2 -2.5zM63.1 78.1l2.2 -2.5l5.8 -0.9l0.0 0.2l-1.8 2.6l-3.8 2.1zM184.3 116.7l-5.3 0.4l-1.9 2.8l1.6 2.0l6.5 -2.3zM183.4 65.7l-2.3 1.0l-1.2 1.2l4.0 -0.4l4.1 -0.9l-0.2 -0.5zM148.0 129.1l1.4 -1.2l1.7 0.1l1.7 0.7l1.5 1.9l0.6 3.2l-1.8 0.5l-1.8 -0.2zM62.6 109.7l3.1 -5.2l-2.4 -0.1l-2.0 2.0l-1.1 3.0zM213.6 50.5l1.1 -2.8l-2.3 1.6l-1.4 2.5l1.9 -0.3l1.9 1.5zM135.5 90.1l2.2 1.1l3.7 2.2l-0.6 0.8l-6.2 -1.0l0.6 -2.9l0.3 0.1zM92.3 122.3l-0.6 2.4l-4.2 1.9l0.3 -7.4l1.9 0.7zM90.5 175.1l2.3 2.0l4.1 -6.1l-3.4 -4.0l-5.3 2.6z"/>
<path fill="rgb(108,108,108)" d="M94.6 99.3l3.3 -2.0l3.4 2.7l-2.8 3.4l-5.2 -3.2zM119.6 75.4l-3.2 -3.9l-1.1 1.7l0.1 4.9l4.0 0.7zM92.8 197.9l-1.6 -1.8l-0.7 -1.7l3.7 -2.3l1.9 1.1l0.6 2.8l0.8 1.1l0.3 0.6l-3.5 0.3zM152.9 128.6l3.1 -3.0l3.7 2.5l-4.2 1.5zM71.5 188.0l-1.3 -2.0l2.3 5.9l2.5 2.2l-1.3 -4.6zM172.4 44.8l0.7 -9.9l8.0 10.3l-0.7 1.3l-4.9 2.3zM214.7 79.8l-0.1 -1.7l2.7 -2.9l1.5 1.8l-1.6 3.1zM162.7 52.4l-1.1 -1.7l2.5 -1.6l1.2 1.4l-0.9 2.6l-1.2 -1.4zM64.9 196.2l1.7 2.1l-3.1 -0.7l-0.6 -3.1l1.4 -0.3zM89.2 160.3l-4.3 4.7l1.4 3.2l1.7 1.2l5.2 -2.8l-2.5 -1.6l2.1 -3.1zM84.4 202.5l-1.0 0.4l-4.6 -3.4l-0.6 -0.9l0.1 -0.3l5.8 -5.8l6.0 2.0l-0.7 2.0zM147.5 63.2l-4.3 -0.1l-3.5 0.2l4.5 -4.6l3.1 2.0zM59.8 78.5l-1.7 -3.6l0.0 -0.1l3.0 -1.4l0.9 1.7l0.7 2.8zM200.6 154.4l3.2 -3.2l-3.7 -2.6l-0.9 -1.3l-1.8 1.1l0.2 6.3zM119.7 139.2l0.4 -3.1l-9.5 -4.1l-2.2 4.3l2.2 5.8l2.8 1.0l0.9 -0.2zM117.1 116.4l-5.3 -4.3l-1.1 2.2l-0.9 1.7l1.3 1.0l2.9 1.9l2.8 -1.3zM159.7 47.1l2.5 -3.2l-0.3 -0.7l-5.4 0.3l2.2 1.1zM162.7 177.2l2.2 0.6l-0.9 6.5l-4.2 1.3l-0.3 -4.3l0.5 -2.5zM142.9 179.4l0.3 -0.5l1.6 -1.6l2.2 2.5zM164.3 54.9l0.3 -1.3l2.6 1.9l-2.2 3.2zM181.8 114.6l-1.1 -3.2l-2.2 2.0l0.6 2.5l5.1 0.0zM69.2 130.9l0.6 0.9l3.0 2.8l1.1 1.5l2.8 -5.0l0.5 -1.0l-3.8 -2.2l-2.9 0.0l-0.3 0.1zM167.2 169.4l0.1 6.7l2.8 -0.3l3.8 -2.7l-1.5 -1.4l2.4 -1.1l-3.5 0.5l-2.9 -2.6zM177.6 105.9l-4.3 5.3l5.0 1.9l2.0 -2.5l0.9 -3.6l-3.4 -0.5zM101.2 144.5l-2.8 -3.2l-0.3 -2.6l-4.5 1.0l-0.8 1.5l0.0 1.0l4.3 2.8zM96.9 50.3l1.1 -2.6l-1.9 -4.1l-2.3 1.9l-1.8 2.1l2.0 1.3zM163.8 92.6l0.6 0.2l2.5 1.1l1.5 -0.8l0.4 -3.3l-0.0 -2.1l-1.7 0.0l-2.0 -1.1zM138.1 137.9l4.5 0.9l0.8 1.5l-1.2 3.1l-4.9 -4.3zM77.0 120.4l3.1 0.5l1.2 4.9l-3.8 4.0l-3.9 -2.1zM149.9 115.2l3.0 3.0l3.4 -1.4l-2.9 -4.8l-4.8 2.5zM164.3 168.1l2.7 1.2l1.2 -1.0l-0.4 -6.7l-1.7 -0.3l-1.3 2.0l-1.8 2.5zM104.5 46.2l-6.0 1.3l-1.9 -4.1l2.5 -3.0l3.4 4.4zM187.4 85.3l1.8 0.3l1.6 -0.6l-0.2 -3.6l-4.1 1.2l-2.3 -2.2l0.7 2.2l2.2 0.7zM64.0 165.0l3.1 -2.1l2.7 2.6l0.3 3.7l-3.1 1.4l-3.3 -4.4zM163.9 113.4l-1.2 -2.5l1.3 -2.4l4.1 -2.7l0.7 1.3l1.4 4.9l-0.8 0.8l-3.5 1.3zM76.7 171.5l-0.2 -2.0l-1.7 -2.4l-3.9 2.2l4.0 3.0zM62.9 137.1l1.5 -1.2l1.7 -0.5l0.4 -1.1l-3.6 0.5zM160.6 173.8l-4.6 -0.5l-0.3 2.6l-1.2 0.3l4.6 1.4l3.5 -0.6zM161.7 165.6l-3.5 -3.7l0.7 -0.5l4.4 1.0l-0.9 3.0zM82.0 164.0l-4.2 5.1l0.7 2.3l1.7 -0.2l5.6 -2.7l-1.7 -3.1zM57.9 111.2l-2.7 -2.3l0.3 -4.7l3.9 2.1l-1.9 2.6zM85.8 48.4l4.8 -1.3l0.6 -3.1l-7.9 -8.1l0.4 9.6zM94.8 72.6l-1.2 -0.8l-4.9 4.1l1.3 2.5l6.3 -2.5l-0.9 -1.6zM196.9 200.6l3.0 -2.4l1.7 -3.8l-1.8 -0.5l-2.4 -0.8l-2.1 6.8zM67.9 70.0l3.1 4.1l-6.5 -0.8l-1.5 -1.4l0.3 -0.7l2.1 -1.8zM62.4 160.1l1.5 4.6l3.1 -2.4l0.5 -2.8l-3.9 -4.5l-1.9 0.2zM122.3 79.8l-0.7 -1.3l-1.9 0.6l0.9 -3.0l3.3 -1.4l-0.4 4.6zM125.2 148.8l0.0 -2.1l-3.2 -4.8l6.8 3.1l0.3 3.1l-2.2 1.5zM166.4 123.3l1.0 6.2l-2.9 3.1l-0.6 -0.8l-2.2 -4.0l2.2 -2.6l1.5 -1.3l0.7 -0.8zM84.7 95.3l2.0 -1.6l1.8 -2.6l-1.2 -4.2l-6.5 -1.3l-0.9 0.6l2.2 9.2l2.0 0.5zM129.7 85.3l-0.3 1.2l0.2 3.5l5.2 -0.0l-0.2 -0.2l-2.1 -2.8zM142.3 111.0l0.1 -5.4l1.6 -3.2l3.0 -0.1l1.4 3.9l-2.4 5.8zM162.7 86.1l-1.4 -3.8l0.6 -1.0l2.5 1.5l0.2 3.1zM204.6 117.4l2.2 0.7l0.9 1.8l-1.2 3.0l-4.5 -2.9zM203.6 48.9l-0.2 -3.7l3.2 -1.5l2.6 2.6l-2.9 2.5zM180.3 191.3l-5.2 5.2l2.3 3.8l3.1 -0.6l3.4 -4.7l-2.7 -3.6zM154.3 150.0l-3.6 1.0l-0.4 2.2l-0.8 2.4l4.4 -0.7l1.3 -3.1zM77.9 137.9l2.5 -2.5l-2.8 -3.3l-3.5 4.3l2.4 3.1l1.3 -0.8zM88.9 135.3l-3.4 3.4l-0.2 1.2l7.1 1.4l0.4 -1.7l-0.5 -1.9zM96.6 205.3l1.4 -2.1l-0.0 -5.0l0.3 0.5l2.3 1.9l-1.7 4.6l-0.9 2.1zM177.8 90.8l-0.5 0.4l-1.7 -2.8l0.3 -5.6l0.6 1.6l2.9 1.1zM123.8 175.7l0.9 -0.4l-2.1 -6.2l-2.5 0.3l-1.5 1.5l-0.7 2.4zM122.8 169.0l2.4 6.1l1.6 -1.0l2.3 -3.0l-3.1 -4.1l-0.7 0.7zM203.6 53.7l4.4 3.9l-1.7 2.6l-2.5 -0.4l-2.4 -3.7zM158.4 167.3l-1.7 -2.8l-3.7 3.5l2.2 2.0l2.3 -1.5zM147.5 53.1l3.7 3.2l1.5 -3.8l-2.3 -2.5l-0.8 2.7zM178.8 58.3l-0.0 0.0l0.9 -3.6l1.4 0.6l3.5 -0.8l-1.2 1.7zM97.4 150.4l0.1 -0.8l0.1 -3.4l3.8 -0.7l1.2 0.2l1.2 4.2zM160.4 119.7l-1.6 -2.1l4.9 -4.0l1.6 1.5l-0.7 6.2l-1.8 0.5zM206.5 143.7l4.1 3.5l0.3 -4.8l-3.9 -0.4zM97.7 191.4l3.6 1.1l3.1 -1.2l-0.6 2.4l-4.2 1.0l-1.6 -2.5zM123.0 200.4l4.3 6.8l2.4 -2.9l-0.8 -2.3l-2.9 -3.8l-2.3 -0.6zM119.2 82.5l-1.9 2.4l1.4 1.4l2.8 -0.1l-1.5 -0.9zM85.4 64.1l0.3 3.5l-0.6 2.5l-2.1 -1.4l-2.8 -1.4l1.7 -3.7zM163.5 206.5l0.8 0.5l3.7 -2.1l-1.3 -8.9l-3.6 0.3l0.6 7.4zM58.2 83.0l4.6 1.6l2.2 1.5l-1.6 3.3l-4.3 -0.1l-4.7 -3.4zM70.7 182.2l-0.3 0.1l-0.9 2.4l-6.3 -4.8l-1.2 -1.5l3.7 -2.8l3.8 1.7zM188.1 167.2l2.2 2.0l2.4 -1.3l2.5 -2.6l-0.1 -2.5l-2.5 -2.1l-1.5 0.9l-4.1 3.6zM216.6 136.0l-1.7 2.9l4.8 4.2l0.0 -3.2l0.9 -3.3l-2.1 1.0zM155.6 138.2l-2.0 -2.8l1.5 -1.1l3.4 3.2l-0.0 1.8l-3.9 2.3zM137.2 148.1l4.1 3.0l2.3 -1.5l0.7 -2.4l-2.4 -2.4l-3.8 1.4zM75.7 52.5l-2.9 1.0l-1.0 1.5l1.7 1.3l0.8 1.0l1.4 -0.8l-0.2 -2.4zM123.5 57.8l1.5 -2.8l-4.3 -0.8l-2.0 0.0l-2.2 2.1l-0.0 3.0l4.3 -0.0zM61.3 202.0l-7.0 0.1l1.6 4.8l4.4 0.6l1.5 -1.2l-0.1 -1.5zM132.8 179.6l3.0 4.9l-4.5 -0.6l-2.6 0.0l2.3 -4.0zM122.6 90.7l-4.2 -1.1l0.4 -2.3l3.1 0.5l-0.1 0.9zM120.8 163.3l-0.1 -2.5l1.1 -0.8l1.6 0.3l0.6 4.6zM212.4 65.3l2.9 -2.5l1.9 -0.6l2.0 4.6l-2.9 -0.3l-2.9 2.0zM147.5 75.2l-2.1 1.0l-4.6 -3.0l3.2 -3.8l2.9 1.5l1.0 -0.7l0.3 3.4zM125.8 193.6l0.1 -2.9l3.4 -1.4l0.4 0.8l-1.1 4.3l-2.7 3.6l-2.2 -1.3zM71.8 181.8l4.5 -2.5l-2.5 -3.5l-4.1 1.5zM104.5 100.1l3.3 4.0l-1.5 1.6l-3.1 3.7l-4.0 -4.7l0.5 -0.5l2.6 -3.4z"/>
<path fill="rgb(114,114,114)" d="M108.8 82.6l-5.1 5.7l-2.4 -0.7l-1.3 -4.7l4.2 -1.2zM120.5 156.8l0.5 1.9l-1.8 0.7l-3.0 -0.4l-1.0 -0.4l-1.5 0.4l-0.3 -2.2l1.7 0.0l-1.8 -2.4l3.6 -1.5l2.1 0.5zM77.7 198.2l-2.8 -3.7l-2.7 0.6l-1.7 -0.5l-0.1 1.7l-3.2 2.1l1.6 2.5l9.1 -2.4zM124.0 67.9l1.4 4.7l2.5 0.9l3.1 -7.3l-2.9 -0.7zM133.0 171.6l5.2 0.1l2.8 -3.4l-0.1 -0.1l-7.5 -0.8l-1.0 3.2zM144.2 173.9l1.0 -1.0l-2.0 -1.3l-2.0 -3.1l-2.4 3.6l1.2 0.7l1.8 3.2zM132.3 127.0l-6.8 2.1l-0.9 -1.6l2.7 -4.6l4.7 2.5zM92.5 141.4l0.0 1.0l-3.6 3.2l-1.2 1.2l-3.6 -4.4l1.2 -2.4zM157.2 83.0l-0.8 1.8l-1.4 0.4l-0.9 -0.3l0.6 -2.4l0.5 -1.5l2.0 0.7zM110.3 119.0l0.0 1.9l0.5 2.2l2.9 -3.5zM80.3 47.6l2.4 -2.2l0.3 -9.5l-1.5 -5.2l-7.6 10.8l2.5 4.4l1.3 1.7zM198.9 202.4l1.4 0.5l2.7 -1.9l-2.7 -0.6l-3.1 0.8zM137.3 162.2l-3.9 2.6l0.1 2.4l7.6 0.9l-0.6 -4.6zM133.5 116.9l-5.1 -0.8l-0.7 -3.2l4.4 -2.1l3.6 1.8l1.3 0.5zM65.3 86.2l6.9 -1.3l-2.7 6.8l-2.7 1.0l-2.5 -3.0zM123.8 84.5l4.0 -0.5l1.3 1.0l-0.8 1.1l-3.4 0.8l-1.1 -0.5l1.8 -0.7zM66.5 192.8l-2.0 1.1l0.4 -3.0l1.9 -0.1l1.3 2.3zM178.3 126.9l-0.4 -0.8l4.5 2.5l0.6 5.8l-1.2 2.0l-3.5 -4.6zM201.8 99.4l4.4 -4.1l3.8 4.1l-0.0 3.0l-4.6 -1.0zM80.5 56.5l0.4 0.3l-1.8 2.2l-2.2 1.4l-1.5 -2.3l0.5 -1.6l2.9 -1.0zM175.2 119.6l-5.5 -5.5l-3.6 1.1l0.5 6.0l-0.2 1.1zM65.7 121.4l-1.2 3.0l-2.2 0.7l-0.5 -3.8l2.0 -2.0zM103.9 75.4l-0.5 0.3l-4.6 1.0l-1.0 -0.9l0.3 -1.5l2.8 -1.4zM66.3 55.0l3.5 -0.1l-3.3 4.8l-2.3 -4.5zM71.6 119.8l3.6 -0.9l0.5 1.0l-2.2 7.7l-3.0 -0.3l-0.1 -5.9zM173.7 145.2l-0.7 -2.1l-3.0 -2.6l-1.0 3.5l-2.0 0.6l4.1 -0.1l1.7 1.5zM135.5 105.1l-3.5 -2.9l-0.2 0.1l0.0 1.8l-2.7 1.0l3.2 -0.9l2.9 1.1zM133.4 197.1l-2.9 0.2l-4.4 0.8l3.7 3.3l3.7 -3.3zM141.1 196.0l-3.7 -3.2l-1.1 1.0l-2.6 3.3l0.3 1.0l2.7 0.7l4.3 -1.5zM122.2 156.9l0.4 1.7l1.4 0.8l4.6 -1.1l-2.2 -3.8zM182.5 155.7l3.8 0.1l2.3 -3.3l-6.8 -0.6zM65.5 62.3l-0.5 3.9l0.7 2.1l2.6 0.8l1.7 -4.5l-1.8 -1.3l-1.0 1.5zM153.6 71.3l1.7 -1.4l0.2 -2.9l0.1 2.8l-0.0 0.2zM72.4 182.5l0.3 0.2l6.1 2.6l0.1 -5.2l-2.5 -0.7zM149.0 99.8l-2.0 2.2l-3.0 0.1l-2.9 -4.6l0.7 -2.7l0.6 -0.8l2.4 -0.6l4.0 2.8l-1.2 1.8zM152.9 128.5l-1.8 -0.7l3.4 -3.2l0.4 -0.8l0.3 1.3zM197.6 58.9l-2.1 2.6l1.9 0.0l2.1 -0.5l-0.2 -4.5l-1.6 2.4zM115.0 78.2l-3.8 2.5l-0.3 0.9l-0.2 -6.9l1.8 -0.3l2.0 -1.1zM160.2 152.6l-3.9 -0.5l-1.6 3.0l2.3 2.0l0.9 0.9l2.9 -2.3l-0.7 -2.6zM140.9 197.4l-3.8 2.8l0.7 3.1l1.1 2.5l1.8 -1.2l1.4 -3.1zM142.4 119.4l-2.4 -5.9l2.4 -2.0l3.6 0.7l1.0 2.2l-1.1 0.7l-0.2 3.8zM67.1 49.7l3.1 -1.1l0.7 1.1l0.6 2.7l-0.5 1.9l-0.9 0.5l-2.7 -1.7zM123.8 93.1l-3.1 1.5l-0.4 1.4l-2.3 -3.9l0.3 -2.0l3.9 2.3zM191.9 139.0l-0.8 -3.6l-6.7 1.1l-1.6 0.9l-1.0 1.4l-0.1 1.2l2.7 3.7l3.5 0.1zM152.3 73.5l-3.8 0.1l-0.0 -3.4l2.6 1.5l1.8 -0.1zM78.1 73.9l3.1 -3.5l-1.1 -3.0l-3.0 1.5l-2.7 4.6l3.0 1.0zM198.3 114.6l-2.2 -2.4l0.4 -3.7l3.0 0.1l0.9 3.7zM206.3 136.9l1.2 3.2l3.5 1.8l0.8 -2.6l-2.3 -1.2zM145.7 46.9l-4.3 1.4l0.4 1.7l2.3 -1.4l2.1 -1.0zM64.5 189.7l-2.3 -1.2l-1.3 -2.1l7.7 0.2l-2.5 2.5zM139.8 176.0l-0.2 1.8l-2.1 -2.7l1.5 -0.7l2.2 2.0zM151.4 68.1l-2.9 1.8l1.0 -1.1l1.0 -1.5l4.2 -1.6l0.6 1.2zM191.0 208.2l3.0 -4.3l1.4 -0.4l0.8 -2.1l-1.1 -1.3l-2.3 2.1l-3.2 0.9l1.6 2.0zM66.7 185.0l2.4 0.3l-0.6 1.1l-7.7 -0.4l1.8 -0.6l-0.2 -3.9l6.8 3.7zM149.1 167.1l0.7 -2.5l-0.7 -1.3l-6.4 -1.8l-1.8 2.0l0.3 4.6l0.0 0.1l4.1 -0.6l3.0 0.9zM148.9 206.1l-2.7 -4.4l1.8 -2.3l2.3 3.6zM174.7 155.5l5.5 -4.2l1.3 0.6l0.5 3.8l-1.0 2.4l-1.7 -1.4zM178.0 162.7l2.4 -1.9l0.7 -2.3l3.1 2.2l-0.2 2.8l-3.1 1.3zM74.4 99.5l1.1 -1.5l-2.1 -3.4l-3.8 -2.7l-2.7 1.2l-0.0 2.6l3.1 5.9l3.5 -1.5zM212.2 149.8l-0.1 -0.9l7.0 -2.7l1.9 2.6l-0.5 4.0l-4.5 -0.1zM69.7 140.3l-1.0 2.9l3.3 4.1l0.0 -0.8l0.8 -3.6zM211.7 64.9l1.9 -3.4l-3.6 -3.7l-1.0 0.7l-2.3 2.0l0.9 2.8l0.6 0.7zM158.8 65.3l3.0 2.4l2.9 -3.4l-1.1 -1.8l-7.1 -1.7l-0.9 -0.1l-0.6 4.6l0.7 1.1zM118.3 200.4l-0.6 6.5l-1.8 2.3l-3.2 -4.0l-1.9 -1.2l4.8 -4.8zM175.5 119.2l-5.0 -5.6l0.6 -0.9l1.9 -1.0l5.0 1.8l-0.5 2.7l-1.4 3.2zM145.3 189.3l-2.9 2.4l-1.0 4.0l-3.9 -3.1l3.5 -5.7l3.8 0.2zM111.7 174.3l2.5 1.1l-0.8 1.9l-1.9 3.3l-3.2 3.3l-5.3 -3.9l1.2 -2.5zM182.0 98.3l2.5 0.3l-1.1 -5.2l-2.1 0.0l-1.1 3.7zM152.6 200.9l2.6 -0.1l1.9 -4.3l-1.6 -1.6l-2.9 0.9l-3.2 1.5l-1.3 1.9zM106.1 74.9l4.3 -0.1l-0.2 7.0l-1.2 0.5l-2.0 -4.5l-1.8 -1.2l-0.3 -0.7zM149.0 156.2l-5.4 1.4l-0.8 3.5l6.4 1.6l-0.3 -3.8zM173.4 155.0l-1.6 -1.1l3.1 -5.3l2.0 2.5l3.3 -1.2l-0.9 0.8l-4.6 4.8zM188.3 66.0l-0.0 0.6l3.0 1.4l3.7 -0.7l1.9 -2.7l-1.5 -0.9l-0.1 -1.9l-4.8 -1.2l-0.6 0.5zM172.0 130.5l-4.1 -0.4l-2.6 3.4l5.0 4.4l0.9 -2.6l1.0 0.4zM202.8 78.1l-0.9 -4.7l1.4 -0.8l3.2 1.1l0.4 2.3l0.1 2.1l-1.8 2.7l-0.1 1.1zM134.8 129.9l-0.5 -0.4l-1.8 -2.0l-6.0 3.9l-2.9 2.6l5.7 1.6zM149.3 100.2l-2.1 2.0l1.4 3.8l2.9 0.9l-0.5 -3.0l2.8 -1.0zM119.2 200.5l-0.6 6.6l8.0 1.2l-0.4 -0.4l-4.9 -5.9zM198.8 76.5l-4.0 0.2l3.6 -3.2l3.3 -0.1l-1.2 4.4zM194.2 137.8l-2.5 -2.6l1.3 -3.6l2.1 -1.4l3.4 -0.1l1.8 3.6l1.7 1.6l-2.1 2.1l-4.1 0.4zM104.9 99.7l3.2 4.2l5.2 -3.5l-0.3 -3.0l-2.3 -2.4l-1.8 0.1zM128.6 153.6l0.3 4.6l0.5 -0.1l4.5 -1.6l-0.7 -1.3l-0.6 -5.2l-3.0 -1.3l-2.4 1.5zM106.4 71.6l2.4 -1.9l-0.2 -1.0l-1.4 -0.6l-1.5 0.7l-1.2 0.1zM86.6 186.6l3.5 0.6l1.0 1.6l2.4 2.5l-3.3 2.9l-4.9 -3.3l-0.8 -3.0zM215.5 135.6l-1.8 2.5l-1.0 0.3l-1.9 -1.6l1.3 -2.4l1.7 -0.6zM76.3 51.9l1.6 -2.9l2.4 -1.2l-0.2 5.2zM152.4 159.5l0.3 2.2l-2.4 2.4l-0.6 -1.3l0.9 -3.0zM211.1 128.4l-1.0 -0.9l-0.3 -1.1l3.0 -2.0l0.7 1.8l0.1 1.7zM119.3 163.5l0.3 -2.5l-2.7 0.1l1.7 3.3l0.2 0.8zM206.4 194.8l-4.6 -0.6l-0.6 -1.6l2.3 -5.2l3.0 2.4zM64.0 193.9l-1.2 0.6l-2.9 -0.9l0.8 -0.8l0.5 -3.0l2.8 1.1zM81.6 161.5l-1.0 -2.1l0.3 -3.6l2.0 -3.5l0.4 -0.2l1.9 0.1l1.5 1.4zM175.0 170.2l0.7 -6.2l-2.1 0.6l-0.0 2.1zM208.0 171.0l-1.5 7.3l-3.7 0.1l-2.4 -1.1l2.5 -6.9l3.7 0.9zM145.7 201.2l-3.2 -0.1l-1.5 -3.8l0.5 -1.2l2.7 1.9l2.5 -0.6l1.2 1.8zM81.7 163.6l-4.4 4.8l-2.4 -1.5l0.8 -4.4l0.1 -0.3l2.3 1.6l2.1 -0.6zM62.8 194.6l-0.4 3.1l-0.8 0.8l-2.8 -1.8l0.8 -1.8z"/>
<path fill="rgb(120,120,120)" d="M156.2 130.9l-1.0 3.0l4.1 2.3l2.7 -3.3l-2.2 -3.5l0.1 -1.0zM153.9 43.7l2.4 -0.2l-2.2 -5.0l-3.5 4.9l2.0 1.8l2.0 0.7zM157.8 73.8l-1.7 3.3l-0.7 1.1l2.3 -1.1l-0.2 -0.7l0.4 -0.8zM209.4 69.3l-0.7 -3.3l3.2 -0.4l1.0 3.0l-0.4 0.6zM108.3 202.9l-2.3 -0.7l-1.7 -2.3l1.6 -2.3l1.0 1.4zM174.4 88.1l-4.2 0.4l-1.3 -1.2l3.8 -2.7l1.8 -3.4l1.4 1.5zM75.4 150.3l-0.7 3.9l-1.4 1.3l-3.5 -4.6l2.2 -3.4l0.5 0.7l1.9 0.3zM100.9 165.1l-1.8 -0.2l-2.0 1.5l-3.4 0.4l4.5 2.2l2.9 1.2zM91.8 113.8l-2.7 2.7l-1.4 1.8l-1.8 -1.4l-1.2 -4.0l4.2 -0.2l4.6 0.6zM125.2 54.4l-4.1 -1.0l0.4 -5.3l1.0 -1.1l3.2 5.1l-0.0 2.0zM135.6 90.0l2.8 -0.5l0.1 -1.1l0.6 -2.0zM63.9 47.2l2.3 -4.3l-8.3 -1.1l-0.2 -0.0l3.5 6.4zM88.1 105.6l-1.6 3.8l-2.3 2.2l0.2 -0.8l0.6 -1.7l-0.5 -4.5zM62.2 139.7l1.8 -0.7l2.5 3.5l-4.5 1.9l-0.1 -1.2l-1.3 -2.3l0.9 -2.4zM216.3 157.2l4.7 -0.0l1.4 -1.2l-1.8 -2.9l-3.8 1.4zM67.3 117.0l2.8 1.9l-1.0 1.9l-3.3 0.4l-1.9 -2.0l0.2 -2.2l1.1 -0.6zM110.7 66.9l0.5 -2.5l3.9 -1.1l2.3 4.2l-0.7 1.6zM213.8 83.0l4.7 3.3l0.9 -0.7l-2.2 -5.2l-2.4 1.6l-0.2 0.1zM200.3 53.5l-0.9 2.8l1.8 -0.3l1.6 -2.9l-0.8 -2.2l-2.2 0.2l-1.2 0.3zM202.0 158.3l3.8 1.0l-1.3 3.2l-2.1 1.6l-1.7 -3.3zM81.3 104.0l-2.5 -1.7l0.9 4.2l2.3 -2.7zM114.8 165.1l0.0 -3.9l1.1 0.3l1.9 3.3l-2.5 0.0zM167.3 77.1l0.2 -2.8l-1.6 -0.5l-3.3 0.6l2.9 1.1zM91.4 202.8l-6.4 0.4l-0.9 0.7l0.5 5.5l10.4 -3.5l-2.6 -0.7l2.0 -0.6zM133.6 179.3l2.7 4.9l2.6 0.0l-1.0 -4.0l-2.5 -2.3l-1.6 0.9zM196.7 106.6l-0.6 -1.2l-0.9 -2.4l3.7 -3.7l1.4 1.0l-0.1 3.9l1.8 0.8l-2.3 2.0zM61.3 138.4l-1.0 2.4l-8.7 -4.8l3.8 -3.2zM142.0 93.0l1.4 -1.4l0.9 -0.5l-3.0 -1.2l-2.0 0.7zM173.0 136.1l1.1 0.4l6.6 2.0l0.6 -1.6l-3.9 -3.9zM80.5 146.2l1.4 -3.7l-2.4 0.5l-0.4 -0.6l-0.6 2.2zM144.4 133.0l-0.5 1.6l-0.6 3.7l1.1 1.3l2.0 -0.2l1.0 -1.5l0.7 -0.6zM161.6 171.3l-0.4 2.3l1.6 3.3l2.1 0.7l2.2 -1.5l-0.1 -6.6l-2.8 -0.6zM155.0 85.4l-0.9 -0.4l-2.9 1.5l-0.6 1.2l2.5 4.8l1.9 -0.7zM147.0 82.4l-2.3 4.1l1.4 1.7l3.3 -1.1l0.7 -1.2l-2.3 -3.2zM104.8 64.2l0.2 3.0l2.1 0.4l-1.2 -3.1zM91.1 86.3l7.3 3.6l-1.3 0.7l-3.5 1.5l-4.9 -1.1l-0.5 -4.4zM169.9 100.3l-2.4 2.6l-3.8 -1.8l3.0 -3.4zM206.6 72.9l-3.2 -0.8l-0.4 -4.6l3.3 -1.4l0.8 0.4l2.1 2.9zM117.4 87.3l0.1 2.1l-1.6 0.2l-2.2 1.0l-0.1 -5.4l2.8 0.1zM83.6 96.5l-1.8 -0.8l-6.0 2.4l-0.7 1.7l3.5 1.9l2.8 -0.6zM198.1 114.9l0.3 5.0l-0.6 -0.1l-3.1 1.7l-2.6 -0.8l0.1 -6.4l2.8 0.2zM81.8 95.4l-2.4 -9.1l-1.4 -0.1l-2.7 7.0l0.5 4.7zM117.3 116.2l3.4 -5.9l-3.0 -1.2l-1.6 -0.2l-2.8 1.2l-1.5 2.0zM189.9 73.8l-0.1 -4.1l-1.7 -2.9l-3.0 2.4l0.6 5.3zM160.4 49.8l-0.4 -2.3l-0.2 -0.2l2.7 -3.0l0.9 2.2l0.4 2.1l-2.6 1.3zM133.6 77.7l1.4 6.3l-2.4 0.5l-2.9 0.2l0.1 -1.9l-0.4 -1.7l1.6 -3.3zM213.9 112.4l0.9 -2.9l1.6 -0.1l2.6 -1.8l-2.9 -3.0l-3.8 0.5l-0.6 4.0l1.2 2.4zM111.1 151.9l2.1 -8.3l-2.7 -1.3l-0.8 1.8l-2.1 6.8zM208.2 171.0l5.3 1.3l-0.8 5.6l-3.0 1.0l-2.9 -0.7zM188.1 205.0l-3.7 -0.2l-0.5 -2.7l1.9 -0.3l3.7 1.3zM199.4 56.6l0.2 4.5l4.0 -1.1l-2.3 -3.7zM135.6 106.3l0.6 5.2l-3.9 -1.0l2.0 -1.6zM64.8 68.7l-2.8 0.9l-2.0 -1.7l0.2 -2.6l3.8 1.4zM213.1 201.4l0.2 -2.0l1.7 -0.8l3.9 0.1l2.6 8.7l-7.0 -4.0zM158.2 86.6l-1.7 -1.5l-1.4 0.3l0.3 6.4l1.4 0.2l2.1 -2.4zM58.9 68.8l-3.6 -0.0l0.6 3.6l0.9 1.7l0.7 -0.2l2.5 -2.0l0.4 -0.7zM199.1 145.9l0.9 -1.2l3.8 -1.0l-3.7 -6.2l-3.1 3.2zM92.6 198.8l-0.7 3.6l2.9 1.8l-1.0 -4.6zM166.1 146.7l0.3 -1.9l-1.7 0.6l-0.7 -0.5l-1.3 2.0l-1.5 2.3zM153.8 155.5l-4.3 0.4l-0.4 0.3l1.9 1.8l1.4 1.2l3.1 -1.3zM162.8 86.6l-0.1 -0.1l1.6 0.4l0.4 -0.4l-1.2 6.0l-1.3 -4.0zM181.7 205.8l-5.7 -0.3l1.4 -5.0l3.1 -0.1l2.9 1.6l-0.7 2.7zM104.8 151.0l2.8 0.1l3.3 1.2l1.8 2.1l-2.2 1.1l-6.1 0.2l-1.3 0.5zM200.0 82.6l-2.2 2.6l0.3 2.4l3.6 -0.1l3.3 -5.3l-3.7 -2.1zM216.2 134.8l-1.6 -1.7l0.8 -3.1l1.9 -0.0l-0.8 2.8zM187.0 184.6l2.5 1.7l2.8 -2.6l0.0 -2.2l-3.1 -3.0l-1.6 -1.2l-2.7 3.7zM156.3 93.3l2.4 1.9l0.1 3.0l-7.5 -0.8l-1.1 -1.5l3.0 -3.0l1.9 -0.2zM125.0 179.8l3.6 4.0l2.4 -4.1l-3.8 -2.5l-0.2 -1.5l-1.6 0.4l-0.3 0.9zM118.7 199.3l-2.7 -1.1l-1.2 -2.4l-0.5 -2.6l2.7 -2.9l4.0 4.7l1.7 2.0l-4.0 0.0zM164.5 48.7l1.3 1.2l2.0 0.3l1.5 -3.9l-3.8 0.6zM115.3 44.1l-3.5 -2.0l-4.5 6.5l1.4 4.1l6.1 -6.0zM124.1 93.0l3.5 0.4l1.7 -3.3l-0.6 -3.5l-3.2 3.2l-0.5 1.3zM87.6 154.0l1.8 5.8l3.8 0.6l2.3 -1.7l-1.0 -4.4zM155.6 146.6l-0.2 -3.6l-0.5 -0.5l3.9 -1.8l1.9 1.3l-2.9 3.5zM195.1 170.6l4.8 -1.7l1.2 -2.7l-5.5 -0.8l-0.7 3.5zM58.4 132.0l2.1 2.0l0.4 2.8l0.5 1.6l-5.7 -5.8l1.5 -1.6zM160.8 145.8l1.3 -1.6l-0.9 -1.8l-1.9 3.6zM114.7 106.4l-1.0 -3.4l-0.1 -1.4l-5.5 2.5l2.0 1.7l1.7 2.1zM149.0 155.6l-0.0 0.4l-5.4 1.4l-2.3 -3.3l1.1 -1.6l1.7 -2.3l3.8 3.3zM148.2 82.4l2.6 3.0l3.2 -0.6l-2.3 -2.1l-0.6 -2.2zM76.3 52.3l3.7 0.9l0.6 1.9l-1.7 0.2l-1.7 -1.8l-1.1 -1.2zM122.3 81.1l1.3 3.2l-1.9 -1.6l-2.3 -0.4l2.0 -0.1zM161.5 80.7l-2.6 -1.2l-1.1 1.9l0.9 0.9l2.4 -0.3l0.7 -0.9zM185.7 89.4l0.3 2.4l1.9 -0.1l1.3 -5.7l-1.8 0.0zM127.2 122.8l-1.2 -3.8l-7.4 -0.1l2.4 4.5l1.8 2.5zM85.7 63.8l3.7 -5.6l1.7 0.8l0.1 4.7l-0.2 3.5l-3.6 -0.4zM202.3 157.4l3.6 1.7l2.2 -1.8l1.2 -5.7l-5.0 0.0l-1.7 4.2zM131.2 174.4l1.7 -0.5l-0.2 -2.2l-1.2 -0.3l-2.1 -0.2l-1.5 3.3l1.6 -0.3z"/>
<path fill="rgb(126,126,126)" d="M94.7 131.3l0.4 -2.0l-3.0 -2.8l-4.6 0.3l-0.2 0.2l4.5 3.2zM103.7 88.5l3.4 5.3l-2.7 5.7l-2.4 -0.4l-2.8 -3.7l-0.5 -4.1l-0.2 -1.4l2.6 -1.2zM184.4 187.2l-2.2 2.3l-0.3 1.3l3.3 3.0l1.5 1.3l1.9 -0.9l2.3 -3.0l-1.2 -4.7l-3.2 0.2zM120.2 96.1l-6.4 0.5l-1.8 -2.7l2.0 -0.5l1.3 -0.3zM82.5 152.0l-3.5 2.7l-3.6 -0.2l1.1 -3.7zM159.3 98.6l-0.1 -0.4l0.5 -2.8l4.0 -1.5l3.1 0.0l-0.2 3.4l-3.0 3.5l-0.4 -0.2zM122.6 46.7l3.7 4.7l1.8 -1.0l-2.5 -7.3l-1.2 -0.3l-0.8 0.1zM132.6 178.6l-1.3 1.1l-1.6 -3.2l2.0 0.6l1.4 1.3zM59.3 159.9l-2.1 2.2l-1.8 -0.5l-2.0 -6.2l8.0 -0.1zM204.6 128.0l-0.2 -1.7l-2.6 1.5l-2.9 1.9l2.9 2.3l1.1 -1.9zM195.4 79.3l-1.0 -1.8l-1.1 -0.4l-0.3 1.1l4.7 7.1zM219.8 132.9l1.8 1.3l0.9 0.2l2.3 -5.6l-2.0 -2.4l-0.1 -0.2l-4.3 3.2zM89.1 135.0l3.4 2.4l2.1 -5.3l-3.0 0.5l-1.2 1.7zM121.7 181.6l-2.6 3.5l-1.1 -0.4l-3.4 -2.5l0.4 -4.3zM177.4 81.4l6.4 -1.3l-3.1 -0.7l2.5 -2.7l-4.3 -0.5l-1.4 0.0l-2.9 4.9l1.4 1.5zM194.0 57.2l1.3 4.3l-4.6 -2.2l1.0 -4.3l1.4 0.1zM138.9 102.8l1.6 0.7l3.3 -1.3l-3.4 -4.2l-3.6 0.8zM81.2 139.5l0.5 -3.7l0.2 -0.9l2.9 3.8l0.3 1.1l-1.8 1.8l-0.8 -0.0zM93.6 115.0l-2.5 3.2l2.3 3.0l4.4 -1.6zM195.4 174.6l1.9 1.9l-4.7 4.9l-2.3 -3.7zM203.3 200.7l2.1 0.0l0.1 -2.1l1.1 -3.4l-0.2 -0.3l-4.6 -0.7l0.2 4.3zM192.7 78.0l0.3 -1.1l-3.0 -2.5l-3.9 1.2l-1.8 0.9l2.6 1.9l3.8 2.3zM177.2 91.4l-3.1 4.5l-0.1 -0.2l-5.5 -2.7l1.8 -3.0l4.2 -0.1zM102.0 79.0l-2.3 2.9l-0.4 -1.7l-0.3 -2.1l4.7 -1.4zM78.4 74.6l6.5 2.0l-4.0 5.5l-3.5 -7.4zM75.2 64.6l2.0 1.2l2.8 1.4l1.6 -3.7l-2.4 -1.6l-2.3 -0.5zM116.2 71.4l0.6 -2.0l-6.2 -2.3l-0.7 1.8l-0.4 1.0l3.1 2.0l1.8 0.4zM193.6 111.7l-1.7 2.1l-2.0 -2.2l-1.2 -3.4l5.2 -1.1l0.8 1.0zM81.9 178.7l4.0 5.6l3.0 -7.4l-7.0 1.2zM60.3 168.4l-2.6 2.3l0.9 4.7l2.1 0.8l4.7 -1.0l1.5 -4.5l-3.5 -4.4zM146.8 82.2l-2.2 4.2l-4.2 -2.5l0.5 -2.1l3.5 -1.4zM213.7 178.0l2.4 0.9l1.6 -1.2l0.3 -3.3l-1.0 -4.2l-3.4 2.1zM60.9 162.3l2.8 2.6l-0.4 1.1l-3.0 0.6l-2.6 -3.7zM104.6 46.4l-6.0 1.5l-0.3 3.0l1.6 4.3l8.1 -2.7l0.5 0.2l-1.4 -4.0zM132.6 46.4l-1.4 -3.0l-0.3 0.1l0.5 4.9l2.3 0.6zM180.5 91.4l1.0 1.0l2.0 0.7l2.4 -1.1l-0.8 -2.3l-2.1 -1.8l-0.5 0.5zM98.0 152.1l5.8 -2.0l0.7 0.9l-1.7 5.2l-7.0 -3.2zM152.9 92.7l-3.3 -4.5l-3.2 1.8l-1.2 1.2l0.7 0.7l3.3 3.4zM162.0 67.8l2.9 -3.4l0.5 1.0l4.4 3.7l0.8 2.2l-2.6 1.4l-1.9 -0.6l-2.8 -3.2zM111.2 171.0l3.9 -2.7l3.1 2.6l-1.2 2.3l-2.5 2.1l-2.1 -1.7zM131.5 170.1l1.6 -2.8l-1.4 -1.7l-1.4 -1.9l-3.9 3.1l3.1 4.2zM175.1 170.3l1.2 -6.2l1.6 -1.2l2.2 2.9l-2.1 1.6l-1.1 0.9zM145.6 189.4l1.0 4.8l1.6 1.4l2.7 -1.6l0.9 -0.7zM210.2 48.3l0.3 3.3l-3.4 -2.4l2.3 -2.7l0.1 1.7zM168.4 149.0l1.3 -1.6l-2.7 -2.4l0.4 2.1zM158.6 86.2l-1.9 -1.3l2.0 -1.3l2.4 -1.3l1.4 3.9l-0.1 -0.1zM65.3 62.1l-5.9 -1.1l0.3 -0.6l0.3 -3.0l-1.1 -2.8l4.2 1.1l3.1 4.2l-2.5 -0.2zM117.2 147.9l-0.4 4.5l-3.6 1.6l-1.8 -2.1l2.2 -8.3l0.9 0.0zM209.7 118.4l1.8 1.0l2.1 -6.5l-1.2 -0.7l-4.1 2.2l-0.3 2.5zM98.6 68.2l-3.5 3.7l-1.5 -0.3l0.5 -1.1l3.3 -4.0l0.9 -0.6zM152.6 167.6l-1.2 -1.1l-0.9 -2.0l3.2 -1.3l2.9 -0.9l-0.2 2.0z"/>
<path fill="rgb(132,132,132)" d="M181.8 179.7l0.1 -4.8l-4.5 0.6l0.9 4.8zM92.0 198.5l-1.8 -1.5l-5.2 5.7l6.4 -0.5zM210.7 77.0l1.9 1.1l0.0 1.7l-0.1 0.2l-3.5 -1.5l0.7 -1.9zM159.1 89.7l-1.5 2.9l1.8 2.2l3.7 -1.8l0.4 -0.4l-2.2 -2.7zM171.9 186.6l8.3 4.5l0.6 -0.7l0.6 -1.2l-5.2 -5.8l-2.0 0.3zM177.7 72.7l1.9 -4.7l-2.0 0.2l-1.5 -2.1l-4.6 3.2l-0.7 2.1l5.8 2.4zM146.4 47.5l4.0 1.2l-0.4 0.8l-2.1 0.1l-0.7 -0.1zM105.4 73.7l0.7 -1.9l-1.8 -2.8l-0.6 2.9l-1.7 0.2l2.4 2.9zM144.9 186.5l-3.1 -1.8l1.1 -1.0l-0.1 -4.2l4.3 0.7l0.6 0.1l1.0 3.7zM110.5 163.5l3.2 -4.1l0.0 1.7l0.8 4.0l-2.9 -0.1zM199.6 61.3l-0.9 1.9l-1.2 1.3l5.3 2.8l2.1 -3.3l1.3 -3.4l-2.6 -0.4zM64.2 48.5l-2.9 0.1l-2.3 5.9l4.5 -0.3l1.6 -1.3l1.7 -3.2zM178.8 172.2l0.8 -1.0l2.6 -0.8l1.1 3.2l-1.6 0.6l-4.4 -0.2l-0.3 -0.8zM116.2 59.3l-1.6 -2.4l-5.2 -3.1l0.0 7.5l1.3 1.1l4.0 -1.0zM104.2 68.7l-0.6 -1.0l0.2 -3.5l-2.7 -1.3l-1.8 2.6l1.1 1.9l1.5 -0.7zM96.3 111.0l1.3 -3.1l1.3 -2.9l4.2 4.4l-1.4 1.9zM209.8 73.2l1.7 0.3l0.8 -4.1l-3.1 0.1l-2.1 3.8l2.1 0.5zM61.4 199.0l-2.7 -2.1l-4.3 4.9l-0.2 0.1l6.9 -0.3zM70.9 65.2l3.9 -0.3l0.0 3.3l-1.2 5.0l-1.7 0.5l-0.2 -0.0l-2.7 -4.0zM148.5 152.3l-4.2 -2.4l0.5 -2.4l0.9 -0.3l2.1 2.1l2.5 1.6zM147.6 63.3l-3.7 2.5l0.2 3.0l2.8 -0.8l0.2 -1.6zM143.0 176.8l-0.7 -0.2l2.0 -1.9l0.1 2.1l-1.7 1.6zM69.4 122.0l0.8 5.5l-0.2 0.2l-5.1 -3.0l1.0 -3.2zM215.7 128.3l-1.1 -0.3l0.8 -1.7l2.2 -0.7l4.7 0.4l-4.9 2.5zM126.9 103.4l-1.0 -2.9l-0.1 1.4l-0.3 1.7l1.5 2.5l1.7 -1.1zM109.8 169.6l1.2 0.7l3.4 -2.8l-0.2 -1.0l0.2 -0.8l-2.5 1.1zM140.9 154.2l-0.5 -2.0l-3.7 -3.3l-3.0 0.9l2.4 4.6zM157.0 161.1l-0.3 -0.7l0.6 -1.1l-0.9 -0.2l-3.7 0.3l2.4 1.8l1.7 -0.1zM158.8 178.5l-1.7 1.8l-3.2 1.2l0.5 -5.0zM104.8 165.3l-0.3 4.0l-2.5 1.0l-0.5 -0.1l-0.3 -5.1l2.4 -1.5zM158.6 86.6l3.8 -0.1l-1.5 1.9l-1.8 1.1zM98.8 71.1l0.5 -2.3l-3.9 3.3l2.1 0.8l2.5 -1.3zM78.4 156.7l-0.8 3.1l-2.1 1.6l-2.8 -2.5l0.9 -2.7l1.5 -0.8zM175.8 162.8l-1.9 -1.2l-3.0 -1.1l2.3 -4.5l1.3 -0.4l1.9 4.0l1.3 3.1zM145.6 46.7l0.0 -1.4l-2.6 -1.6l-2.1 2.6l0.3 1.9zM140.4 181.8l-1.3 2.4l-0.9 -3.9l1.5 -2.3l0.9 2.3l1.6 -1.0l0.5 0.2zM184.9 112.2l-3.7 -1.4l0.6 -3.8l3.3 0.8l0.8 0.9l1.5 3.0zM93.5 70.0l3.4 -4.2l-3.5 -0.2l-2.2 1.7zM143.3 69.0l-2.9 4.0l-3.2 -0.3l-2.4 -6.8l1.2 -1.4l2.8 -0.2l0.8 2.3zM167.4 151.5l-0.7 1.7l-2.2 3.5l-3.4 -1.0l0.0 -2.8zM193.4 105.4l1.6 -2.4l-5.8 -1.6l-1.9 -0.6l-0.1 4.3l1.2 0.7zM141.1 48.3l-1.2 -1.4l-2.0 -0.1l0.3 1.8l-2.6 1.1l-0.2 1.6l5.4 -0.2l0.4 -1.2zM187.9 167.4l2.2 1.9l-3.4 4.7l-3.2 -0.5l-1.1 -3.2zM196.4 191.7l1.7 -6.0l2.9 -1.5l1.4 2.6l-2.5 5.1l-2.5 0.5zM85.6 77.1l1.7 -1.0l0.8 0.3l1.6 2.2l0.5 3.5l-1.7 0.7l-1.1 2.8l-6.6 -0.6l0.4 -2.7zM81.8 177.5l-0.3 -4.4l4.7 -4.4l1.8 0.9l0.7 5.8l0.2 1.3zM204.8 128.1l1.0 1.9l0.3 0.1l-1.4 0.4zM61.4 125.7l-4.1 -3.6l1.3 -1.5l2.6 0.9l0.9 3.7z"/>
<path fill="rgb(138,138,138)" d="M198.4 51.2l0.8 -1.0l-4.3 -7.3l-2.9 2.1l3.6 5.0zM146.5 119.7l2.1 -2.6l4.3 1.2l-0.8 3.2l-2.8 0.2zM104.0 159.9l-1.3 -2.0l-3.1 2.0l0.8 3.2l0.8 1.6l2.1 -2.1zM215.2 190.0l3.7 -0.9l2.5 -1.3l-2.6 -0.8l-2.6 -2.6l-3.2 3.7zM106.5 73.9l4.0 0.7l0.7 -1.6l-2.1 -2.8l-2.6 1.7zM85.8 48.6l5.0 -0.2l0.9 2.5l-3.0 5.0l-1.8 -1.0zM139.7 84.5l0.5 -0.0l4.3 2.1l0.1 2.1l-0.1 2.2l-2.6 -3.8l-1.4 -1.1zM204.8 105.6l1.2 3.4l5.0 -0.1l1.0 -3.9l-2.0 -2.1l-3.2 2.7zM136.0 104.7l0.2 -1.9l0.3 -3.8l-2.2 -0.7l-1.3 2.9zM210.5 132.9l-2.5 -0.1l-2.5 3.1l0.8 0.5l3.1 -0.3l0.6 -2.4zM165.3 59.1l2.7 -2.5l2.2 -1.3l0.4 0.6l0.5 3.7l-5.6 3.9l-0.6 0.8l-0.9 -1.9l1.1 -2.1zM172.2 130.4l2.5 -2.7l2.6 -0.8l-0.5 4.8l-4.1 4.0zM121.8 156.0l4.0 -3.0l0.9 -2.8l-2.0 0.2l-4.8 2.8zM146.1 46.7l-0.3 -1.3l3.1 -2.0l0.7 0.5l0.3 2.3l0.5 2.4l-4.0 -1.2zM132.1 125.1l3.1 -4.5l-1.9 -2.9l-5.0 -0.8l-0.5 1.7l-0.3 4.1zM153.6 74.6l0.1 1.8l1.5 -0.0l2.5 -2.7l-0.3 -0.6zM91.4 82.5l5.7 0.1l1.5 0.4l1.8 4.7l-2.0 2.0l-6.2 -5.3zM191.6 131.0l-0.6 3.9l-6.5 -0.5l-1.2 -5.9l3.4 -1.4zM130.3 43.5l-4.3 -0.6l2.2 7.4l1.7 -1.9zM205.3 136.2l-3.1 -0.9l-2.0 2.1l3.9 6.1l0.0 -2.1l0.9 -1.5l0.8 -2.9zM66.9 144.4l4.9 2.9l-3.4 2.8l-3.7 2.0l-2.6 -7.6l4.7 -1.6z"/>
<path fill="rgb(144,144,144)" d="M201.7 73.1l1.2 -1.0l-0.2 -4.7l-5.4 -2.6l-1.9 2.7l3.1 5.2zM70.2 165.1l-2.8 -2.5l1.5 -2.5l3.6 -0.9l2.4 2.8l-0.2 0.3zM154.9 170.1l-0.2 2.2l-1.2 2.3l-1.3 -0.9l-3.1 -4.6l2.0 -0.4l1.4 -0.4zM155.5 120.1l0.6 -1.5l0.4 -1.5l-3.5 1.2l-0.5 3.2l2.8 -0.4l0.0 0.9zM103.9 149.9l-1.2 -4.1l6.0 -1.8l-1.3 6.9l-2.8 -0.2zM87.2 126.8l0.2 -0.2l-0.1 -7.4l-2.4 -0.3l-4.4 1.9l2.2 4.8l3.5 -0.2zM88.7 135.1l-3.4 3.2l-3.2 -3.5l4.3 -1.6l0.7 1.8zM64.0 154.5l0.7 -2.1l4.0 -0.5l4.1 3.9l-0.4 3.0l-4.2 -0.1z"/>
<path fill="rgb(150,150,150)" d="M126.8 106.6l-1.4 3.6l-4.0 -0.3l-0.2 -2.5l-0.2 -2.7l2.9 0.4zM185.4 89.1l1.8 -3.3l-1.8 0.8l-2.3 1.0z"/>
<path fill="rgb(204,204,204)" d="M212.6 73.3l4.1 0.6l-1.6 -3.3l-1.7 -1.5l-0.8 0.2z"/>
<path fill="rgb(210,210,210)" d="M135.9 147.6l-2.9 1.1l-3.0 -0.9l0.5 -3.2l1.3 -4.9l1.8 1.4l3.5 4.7zM178.0 91.9l-0.6 -0.3l-2.8 4.6l5.1 1.0l0.2 -0.0l0.6 -4.0l-1.3 -0.6zM204.6 117.1l-1.7 -3.7l2.1 -1.0l3.1 2.1l-1.4 2.1zM154.7 107.5l-2.6 -0.2l2.1 2.9l2.5 -0.9l-0.2 -2.8zM159.4 47.4l-2.8 0.4l-1.7 -1.6l2.2 0.6l2.5 0.5zM144.6 129.7l-4.0 -4.4l-5.2 4.0l-0.4 0.5l4.0 2.3l2.2 -1.0l1.7 0.1z"/>
<path fill="rgb(216,216,216)" d="M128.7 101.5l-2.5 -1.1l1.6 -1.3l2.6 2.0zM76.3 144.8l0.6 -2.6l-0.9 -1.3l-1.3 2.4l-1.9 3.4l1.8 1.0zM211.9 75.2l1.9 1.8l3.5 -1.9l-0.6 -1.0l-4.0 0.1z"/>
<path fill="rgb(222,222,222)" d="M182.1 180.3l2.7 0.6l0.6 3.9l-1.3 1.7l-5.3 -4.9l-0.3 -1.1z"/>
</g></g>
<rect x="63.30" y="49.10" width="150.30" height="150.30" fill="none" stroke="#000" stroke-width="1.09"/>
<g stroke="#000" stroke-width="1.09">
<line x1="63.30" y1="199.40" x2="63.30" y2="204.17"/>
<line x1="58.53" y1="199.40" x2="63.30" y2="199.40"/>
<line x1="138.45" y1="199.40" x2="138.45" y2="204.17"/>
<line x1="58.53" y1="124.25" x2="63.30" y2="124.25"/>
<line x1="213.60" y1="199.40" x2="213.60" y2="204.17"/>
<line x1="58.53" y1="49.10" x2="63.30" y2="49.10"/>
</g>
<text x="48.11" y="223.40" font-size="20.0" textLength="30.38" lengthAdjust="spacingAndGlyphs">0.0</text>
<text x="23.32" y="206.70" font-size="20.0" textLength="30.38" lengthAdjust="spacingAndGlyphs">0.0</text>
<text x="123.26" y="223.40" font-size="20.0" textLength="30.38" lengthAdjust="spacingAndGlyphs">0.5</text>
<text x="23.32" y="131.55" font-size="20.0" textLength="30.38" lengthAdjust="spacingAndGlyphs">0.5</text>
<text x="198.41" y="223.40" font-size="20.0" textLength="30.38" lengthAdjust="spacingAndGlyphs">1.0</text>
<text x="23.32" y="56.40" font-size="20.0" textLength="30.38" lengthAdjust="spacingAndGlyphs">1.0</text>
<text x="107.76" y="246.80" font-size="20.0" textLength="61.39" lengthAdjust="spacingAndGlyphs">x (cm)</text>
<text transform="translate(14.90,124.25) rotate(-90)" x="-30.05" y="0" font-size="20.0" textLength="60.11" lengthAdjust="spacingAndGlyphs">z (cm)</text>
<g fill="#1f77b4" fill-opacity="0.70">
<path d="M315.63 206.20h1.07v-1.16h-1.07z"/>
<path d="M317.76 206.20h1.07v-1.44h-1.07z"/>
<path d="M319.90 206.20h1.07v-2.26h-1.07z"/>
<path d="M320.97 206.20h1.07v-3.09h-1.07z"/>
<path d="M323.10 206.20h1.07v-4.04h-1.07z"/>
<path d="M324.17 206.20h1.07v-5.31h-1.07z"/>
<path d="M326.31 206.20h1.07v-6.65h-1.07z"/>
<path d="M327.38 206.20h1.07v-8.67h-1.07z"/>
<path d="M329.51 206.20h1.07v-11.17h-1.07z"/>
<path d="M330.58 206.20h1.07v-14.15h-1.07z"/>
<path d="M332.72 206.20h1.07v-17.89h-1.07z"/>
<path d="M333.79 206.20h1.07v-21.23h-1.07z"/>
<path d="M335.92 206.20h1.07v-25.77h-1.07z"/>
<path d="M338.06 206.20h1.07v-30.46h-1.07z"/>
<path d="M339.13 206.20h1.07v-38.19h-1.07z"/>
<path d="M341.26 206.20h1.07v-44.92h-1.07z"/>
<path d="M342.33 206.20h1.07v-54.05h-1.07z"/>
<path d="M344.47 206.20h1.07v-62.58h-1.07z"/>
<path d="M345.54 206.20h1.07v-70.82h-1.07z"/>
<path d="M347.67 206.20h1.07v-84.86h-1.07z"/>
<path d="M348.74 206.20h1.07v-91.20h-1.07z"/>
<path d="M350.88 206.20h1.07v-102.23h-1.07z"/>
<path d="M351.95 206.20h1.07v-114.17h-1.07z"/>
<path d="M354.08 206.20h1.07v-125.31h-1.07z"/>
<path d="M355.15 206.20h1.07v-134.06h-1.07z"/>
<path d="M357.29 206.20h1.07v-141.71h-1.07z"/>
<path d="M359.42 206.20h1.07v-148.40h-1.07z"/>
<path d="M360.49 206.20h1.07v-152.33h-1.07z"/>
<path d="M362.63 206.20h1.07v-154.99h-1.07z"/>
<path d="M363.70 206.20h1.07v-155.77h-1.07z"/>
<path d="M365.83 206.20h1.07v-153.34h-1.07z"/>
<path d="M366.90 206.20h1.07v-148.15h-1.07z"/>
<path d="M369.04 206.20h1.07v-141.71h-1.07z"/>
<path d="M370.10 206.20h1.07v-136.25h-1.07z"/>
<path d="M372.24 206.20h1.07v-127.30h-1.07z"/>
<path d="M373.31 206.20h1.07v-120.91h-1.07z"/>
<path d="M375.45 206.20h1.07v-110.26h-1.07z"/>
<path d="M377.58 206.20h1.07v-102.56h-1.07z"/>
<path d="M378.65 206.20h1.07v-96.21h-1.07z"/>
<path d="M380.79 206.20h1.07v-87.32h-1.07z"/>
<path d="M381.85 206.20h1.07v-79.25h-1.07z"/>
<path d="M383.99 206.20h1.07v-73.98h-1.07z"/>
<path d="M385.06 206.20h1.07v-67.37h-1.07z"/>
<path d="M387.20 206.20h1.07v-61.47h-1.07z"/>
<path d="M388.26 206.20h1.07v-54.17h-1.07z"/>
<path d="M390.40 206.20h1.07v-49.56h-1.07z"/>
<path d="M391.47 206.20h1.07v-45.54h-1.07z"/>
<path d="M393.60 206.20h1.07v-40.88h-1.07z"/>
<path d="M394.67 206.20h1.07v-36.67h-1.07z"/>
<path d="M396.81 206.20h1.07v-35.02h-1.07z"/>
<path d="M398.95 206.20h1.07v-31.38h-1.07z"/>
<path d="M400.01 206.20h1.07v-27.97h-1.07z"/>
<path d="M402.15 206.20h1.07v-23.92h-1.07z"/>
<path d="M403.22 206.20h1.07v-19.84h-1.07z"/>
<path d="M405.35 206.20h1.07v-16.55h-1.07z"/>
<path d="M406.42 206.20h1.07v-13.25h-1.07z"/>
<path d="M408.56 206.20h1.07v-9.96h-1.07z"/>
<path d="M409.63 206.20h1.07v-7.03h-1.07z"/>
<path d="M411.76 206.20h1.07v-5.16h-1.07z"/>
<path d="M412.83 206.20h1.07v-3.58h-1.07z"/>
<path d="M414.97 206.20h1.07v-2.62h-1.07z"/>
<path d="M417.10 206.20h1.07v-1.74h-1.07z"/>
<path d="M418.17 206.20h1.07v-1.11h-1.07z"/>
</g>
<line x1="381.00" y1="42.40" x2="381.00" y2="206.20" stroke="#ff0000" stroke-width="2.2"/>
<rect x="291.70" y="42.40" width="150.40" height="163.80" fill="none" stroke="#000" stroke-width="1.09"/>
<g stroke="#000" stroke-width="1.09">
<line x1="321.60" y1="206.20" x2="321.60" y2="210.97"/>
<line x1="362.78" y1="206.20" x2="362.78" y2="210.97"/>
<line x1="403.96" y1="206.20" x2="403.96" y2="210.97"/>
<line x1="286.93" y1="206.20" x2="291.70" y2="206.20"/>
<line x1="286.93" y1="153.80" x2="291.70" y2="153.80"/>
<line x1="286.93" y1="101.40" x2="291.70" y2="101.40"/>
<line x1="286.93" y1="49.00" x2="291.70" y2="49.00"/>
</g>
<text x="303.37" y="230.20" font-size="20.0" textLength="36.46" lengthAdjust="spacingAndGlyphs">125</text>
<text x="344.55" y="230.20" font-size="20.0" textLength="36.46" lengthAdjust="spacingAndGlyphs">150</text>
<text x="385.74" y="230.20" font-size="20.0" textLength="36.46" lengthAdjust="spacingAndGlyphs">175</text>
<text x="269.95" y="213.50" font-size="20.0" textLength="12.15" lengthAdjust="spacingAndGlyphs">0</text>
<text x="233.49" y="161.10" font-size="20.0" textLength="48.61" lengthAdjust="spacingAndGlyphs">5000</text>
<text x="221.34" y="108.70" font-size="20.0" textLength="60.76" lengthAdjust="spacingAndGlyphs">10000</text>
<text x="221.34" y="56.30" font-size="20.0" textLength="60.76" lengthAdjust="spacingAndGlyphs">15000</text>
<text x="320.80" y="253.60" font-size="20.0" textLength="92.20" lengthAdjust="spacingAndGlyphs">grayscale</text>
<use href="#og1" x="457.00" y="0.00" filter="url(#th1)"/>
<rect x="520.30" y="49.10" width="150.30" height="150.30" fill="none" stroke="#000" stroke-width="1.09"/>
<g stroke="#000" stroke-width="1.09">
<line x1="520.30" y1="199.40" x2="520.30" y2="204.17"/>
<line x1="515.53" y1="199.40" x2="520.30" y2="199.40"/>
<line x1="595.45" y1="199.40" x2="595.45" y2="204.17"/>
<line x1="515.53" y1="124.25" x2="520.30" y2="124.25"/>
<line x1="670.60" y1="199.40" x2="670.60" y2="204.17"/>
<line x1="515.53" y1="49.10" x2="520.30" y2="49.10"/>
</g>
<text x="505.11" y="223.40" font-size="20.0" textLength="30.38" lengthAdjust="spacingAndGlyphs">0.0</text>
<text x="480.32" y="206.70" font-size="20.0" textLength="30.38" lengthAdjust="spacingAndGlyphs">0.0</text>
<text x="580.26" y="223.40" font-size="20.0" textLength="30.38" lengthAdjust="spacingAndGlyphs">0.5</text>
<text x="480.32" y="131.55" font-size="20.0" textLength="30.38" lengthAdjust="spacingAndGlyphs">0.5</text>
<text x="655.41" y="223.40" font-size="20.0" textLength="30.38" lengthAdjust="spacingAndGlyphs">1.0</text>
<text x="480.32" y="56.40" font-size="20.0" textLength="30.38" lengthAdjust="spacingAndGlyphs">1.0</text>
<text x="564.76" y="246.80" font-size="20.0" textLength="61.39" lengthAdjust="spacingAndGlyphs">x (cm)</text>
<text transform="translate(471.90,124.25) rotate(-90)" x="-30.05" y="0" font-size="20.0" textLength="60.11" lengthAdjust="spacingAndGlyphs">z (cm)</text>
<text x="94.23" y="40.80" font-size="23.5" textLength="88.44" lengthAdjust="spacingAndGlyphs">Original</text>
<text x="308.28" y="34.10" font-size="23.5" textLength="117.24" lengthAdjust="spacingAndGlyphs">Histogram</text>
<text x="525.64" y="40.80" font-size="23.5" textLength="139.63" lengthAdjust="spacingAndGlyphs">Thresholded</text>
<text class="pl" y="18.70"><tspan x="6.07" font-size="28.0">(</tspan><tspan x="15.75" font-size="25.0">a</tspan><tspan x="27.74" font-size="28.0">)</tspan></text>
<text class="pl" y="18.70"><tspan x="264.07" font-size="28.0">(</tspan><tspan x="274.54" font-size="25.0">b</tspan><tspan x="287.24" font-size="28.0">)</tspan></text>
<text class="pl" y="18.70"><tspan x="484.57" font-size="28.0">(</tspan><tspan x="493.62" font-size="25.0">c</tspan><tspan x="504.64" font-size="28.0">)</tspan></text>
<clipPath id="cp2"><rect x="66.50" y="317.05" width="150.30" height="150.30"/></clipPath>
<g id="og2" clip-path="url(#cp2)"><g filter="url(#nz2)">
<rect x="64.50" y="315.05" width="154.30" height="154.30" fill="rgb(180,180,180)"/>
<path fill="rgb(48,48,48)" d="M102.3 415.5l-2.6 -0.1l-0.0 -2.7l1.2 -2.4zM157.4 346.0l-0.2 4.3l0.4 2.2l1.0 0.3l1.8 -4.1z"/>
<path fill="rgb(54,54,54)" d="M215.2 331.1l3.8 1.1l0.5 -4.6l-2.6 -1.6l-1.3 2.8z"/>
<path fill="rgb(60,60,60)" d="M186.8 460.1l1.5 4.7l4.7 -0.2l2.3 -3.4l-2.4 -4.1l-2.2 -0.1zM106.4 335.0l1.5 1.5l-0.9 0.8l-2.9 -1.2zM124.2 354.0l-2.2 1.9l0.3 2.7l3.2 -0.6l0.5 -2.9z"/>
<path fill="rgb(66,66,66)" d="M178.0 438.5l-1.7 -3.3l0.2 -0.8l3.7 -1.3l4.3 0.1l-3.0 4.4zM122.3 320.9l-1.1 -1.5l1.7 -0.5l-3.9 -1.9l0.6 2.3l-0.7 1.1zM107.9 445.0l2.0 3.4l-3.6 2.1l-1.2 -0.0l-1.2 -5.5zM104.2 323.3l-4.2 0.0l0.0 -2.8l0.7 -2.5l4.3 -1.4l1.6 1.5zM106.6 334.8l0.9 -1.9l0.9 0.6l0.2 2.7l-0.4 0.1zM58.7 446.3l3.8 2.1l0.3 4.8l-7.8 -1.5l3.8 -5.1zM190.7 365.0l-2.5 -0.3l-3.3 -2.2l2.1 -1.1l2.8 1.2z"/>
<path fill="rgb(72,72,72)" d="M124.5 405.5l5.8 -0.9l0.5 2.5l-6.7 0.9l0.5 -0.6zM111.2 398.0l-3.5 1.9l-3.4 1.0l-2.1 -3.7l4.3 -3.0l3.4 -0.3l2.6 3.9zM167.0 375.7l-0.6 -2.1l-1.6 0.0l-0.2 -1.6l1.0 -2.5l4.7 1.8zM118.3 352.2l0.5 2.8l-2.2 2.9l-1.0 -0.2l-1.0 -2.9l-0.1 -0.8zM216.3 319.0l0.1 -0.4l2.4 -6.3l-6.2 -1.0l-2.1 2.3zM142.5 455.1l-0.6 3.5l-0.8 -0.4l-1.5 0.9l-0.6 -2.9zM85.5 408.7l-3.3 -1.9l0.0 1.0l0.1 1.9l3.9 -0.3l0.3 -0.3zM131.8 349.8l0.4 1.2l1.4 -1.1l1.7 -2.1l0.5 -2.6l-3.4 1.6zM170.2 437.8l3.1 -2.1l-4.0 -1.5l-0.3 1.8zM83.2 459.8l0.5 -2.8l-6.1 0.9l-4.2 2.9l4.0 2.5zM70.3 418.5l5.2 -3.7l0.7 2.9l2.4 -1.7l0.1 4.1l-1.4 4.9l-0.3 0.0l-3.7 -1.2zM191.5 404.2l-2.6 -2.1l-2.7 -2.5l-1.6 0.0l-0.4 3.3l2.4 3.5l1.8 -0.5z"/>
<path fill="rgb(78,78,78)" d="M165.1 459.0l2.0 -0.2l3.8 4.9l-0.4 0.3l-3.5 2.3l-3.8 0.3zM206.5 394.3l-3.7 6.1l5.4 -0.1l-1.6 -2.4zM62.8 315.8l-3.0 -1.6l-5.0 1.8l2.3 2.3l2.3 1.0l3.1 -2.3l3.4 -1.4zM76.9 473.0l-0.9 0.5l-4.9 3.5l-2.3 -3.6l4.1 -1.6l0.5 0.5zM127.7 424.6l-3.8 -2.1l-0.5 -3.3l4.6 0.8l1.5 1.8zM143.6 347.4l2.0 6.0l-2.3 3.2l-4.1 -0.7l0.7 -8.3zM116.8 329.9l-3.2 1.3l-0.1 0.0l-2.2 0.8l0.2 -1.2l2.4 -0.3zM95.1 467.7l1.1 0.1l2.3 2.1l3.8 -5.6l-3.9 0.0l-5.0 2.3zM215.8 375.3l-2.6 0.4l-3.6 -2.9l-1.2 -2.9l5.5 -2.1l0.9 0.9l1.2 4.2l0.9 0.3zM182.0 403.9l1.2 -0.0l2.9 3.1l-1.9 4.2l-2.4 1.4l-2.2 -4.2zM188.9 451.6l1.8 4.2l2.0 1.0l0.9 -4.2l1.9 -2.2l-0.2 -2.8l-6.3 2.2z"/>
<path fill="rgb(84,84,84)" d="M179.2 335.9l3.2 0.0l3.4 0.7l-2.8 -2.8l-0.7 -2.1l-2.4 1.5zM177.4 306.1l-1.5 0.1l-2.2 8.3l0.8 2.3l4.5 0.3l1.3 -5.6zM87.0 336.6l-1.6 1.5l-1.4 4.4l2.2 0.7l2.5 -6.6zM133.4 316.5l1.4 9.0l0.9 -0.3l0.1 -0.1l2.6 -1.0l-0.1 -0.2l0.6 -4.3l-1.2 -4.5l-0.6 -0.6l-2.3 0.6zM96.5 374.3l-8.1 -4.9l-0.4 0.7l2.2 7.7l1.9 0.8l2.7 -2.4zM61.8 362.9l4.5 0.5l0.2 -0.9l1.0 -4.6l-1.2 -1.1l-5.0 2.1l-1.1 -0.0zM107.4 339.7l3.3 0.3l0.9 2.2l-2.1 1.2l-0.1 0.5l-2.6 -3.5zM208.3 329.5l-2.8 -4.4l-1.5 1.6l-1.8 2.1l0.9 3.3l1.5 1.1l0.7 -3.5zM145.3 344.7l5.9 1.7l-0.9 4.2l-2.3 1.2l-1.3 0.9l-2.6 -5.6zM196.3 437.0l2.1 1.6l3.0 -0.6l-1.8 -1.7l-1.8 -1.0zM193.2 339.1l1.0 -1.9l5.2 2.0l-0.5 4.8l-4.8 1.3l-2.0 -5.0zM136.6 469.5l0.1 1.5l5.5 2.4l0.2 -1.6l-2.6 -4.3l-0.7 -0.4zM181.0 384.3l4.7 0.3l0.0 -1.5l-4.1 -5.7l-3.8 -0.6l1.6 6.9zM170.4 451.0l0.5 2.0l-0.5 2.6l-3.3 3.0l-2.0 0.2l-2.7 -3.1l2.9 -4.1l4.1 -0.8zM145.5 312.8l0.5 -0.6l2.5 -2.5l0.5 -2.0l2.3 2.5l-0.7 3.0l-3.2 0.6zM215.1 332.5l-2.1 1.9l3.1 1.0l0.2 1.9l1.2 -0.7l3.9 -0.4l-2.4 -3.4zM213.5 401.8l3.0 0.7l-2.9 3.2l-1.0 -0.5l0.4 -2.5zM139.7 432.0l-4.7 3.5l-4.6 -3.7l5.5 -5.2l1.6 3.9zM217.4 376.9l3.5 2.4l5.9 -2.2l0.6 -1.8l-8.9 -1.2l-1.2 2.1zM189.1 413.9l3.7 2.3l-0.7 2.3l-3.3 -1.1zM103.7 354.6l0.1 -0.4l2.2 -3.6l2.0 0.8l0.7 0.8zM66.1 321.3l2.2 0.8l2.6 -1.9l-1.0 -1.3l-0.7 0.2l-2.0 1.2zM179.5 425.9l4.4 0.3l3.3 3.0l-0.8 3.6l-1.8 0.2l-2.8 -2.1zM71.5 374.5l0.9 -3.6l-5.1 -1.6l-2.0 2.2l3.6 4.1zM79.5 340.5l-5.2 -0.7l1.4 -1.0l2.9 -1.0z"/>
<path fill="rgb(90,90,90)" d="M142.9 435.2l1.3 1.2l3.1 -0.7l1.1 -2.3l-1.9 0.4zM196.4 360.6l-0.7 3.0l-0.9 2.8l-0.9 0.5l-2.5 -1.9l0.2 -2.5l1.1 -2.2zM189.2 355.4l3.5 4.0l3.8 0.3l0.6 -3.9l1.1 -1.8l-5.2 -3.3zM214.9 412.5l1.6 -1.6l4.7 -1.8l3.8 5.6l-5.2 2.9l-1.5 0.1l-1.5 -0.4zM66.4 319.3l0.2 -1.2l-0.4 -2.1l2.3 2.1zM96.1 391.0l-6.4 -1.3l-0.8 2.0l0.3 3.0l1.8 -0.0zM139.2 412.1l2.6 -5.1l0.3 -0.6l3.2 0.1l1.3 0.6l-4.6 3.3zM168.3 439.0l-1.0 -1.6l-1.1 -1.5l-0.3 1.8l1.2 3.9l2.7 0.2zM62.8 341.4l2.9 1.7l3.4 4.8l1.1 -0.4l-1.6 -5.8l-2.5 -2.2zM134.7 382.0l2.3 -3.6l2.9 0.9l3.1 1.5l-3.8 9.7l-1.5 -2.6l-2.7 -0.3zM168.9 472.4l2.0 -1.8l-0.5 5.1l-3.2 1.6l-0.2 -1.0zM168.1 444.0l1.6 -1.9l-2.6 -0.1l-1.0 1.1l1.7 1.2l1.4 4.1zM72.3 365.9l1.4 2.0l-1.2 2.8l-4.9 -2.4l0.8 -3.0l1.2 0.0l0.5 -1.3l1.0 2.1zM177.4 335.9l-3.0 4.1l-1.7 -0.8l-0.6 0.3l-0.1 -8.3l1.5 1.4l2.8 -0.3l1.9 0.9zM214.0 426.2l2.7 -0.6l4.7 1.6l2.7 4.4l-1.4 -0.4l-8.3 -0.2zM166.1 337.0l5.7 2.5l-0.6 0.5l-3.2 1.9l-2.9 0.4l-2.5 -1.8zM75.9 389.6l-4.7 -0.8l-1.6 -2.4l-0.1 -2.7l7.1 0.2l1.3 5.4zM95.0 409.0l0.7 -3.8l-2.8 -0.5l-1.9 -1.1l-0.2 -0.2l1.1 6.1l1.3 1.9zM68.6 309.9l-2.1 -1.4l-3.0 -1.0l-3.5 5.9l5.2 -1.9zM168.5 449.0l-2.1 -0.4l-3.3 -0.8l2.2 3.5l3.8 -1.4zM85.6 434.9l-3.1 1.4l-0.8 -3.4l3.6 -2.2zM204.1 413.1l-3.1 -1.9l-3.8 2.1l-1.0 1.3l1.5 -0.0l4.8 1.1l2.1 -2.3zM142.2 465.3l-2.1 2.0l4.3 3.6l3.2 2.1l1.5 -3.6zM140.3 450.4l-4.9 -1.3l-1.1 4.0l3.0 0.1zM88.1 348.3l-1.7 1.0l-3.2 1.9l-2.8 -3.2l-0.1 -3.7l1.5 -0.5l2.1 -0.9l2.2 0.6l0.6 0.7zM204.3 439.2l1.8 5.8l-4.8 0.2l-3.7 -0.8l-0.6 -2.0l2.7 -0.5l2.3 -2.3zM69.7 399.0l-0.9 -1.9l-3.7 -1.2l-3.1 3.4l3.1 2.0l4.1 -0.9zM68.1 326.1l-4.4 0.4l-0.6 0.7l1.5 1.8l-1.1 1.9l1.9 2.0l4.1 -2.9l-1.1 -2.1zM198.0 456.8l1.6 -2.5l4.1 7.0l-0.9 1.6l-5.6 -2.5l-4.4 -3.3zM157.8 375.8l1.6 -4.9l2.7 1.3l2.0 1.6zM161.7 456.4l3.2 2.6l-1.9 7.7l-2.0 0.1l-3.8 -7.1l2.1 -3.1zM166.6 420.0l-2.5 4.1l-3.8 -0.8l-2.3 -3.3l2.2 -2.7zM155.5 420.8l-2.2 2.5l3.1 3.5l3.6 -3.4l-2.6 -3.1zM121.3 441.4l0.2 -7.1l4.1 2.0l-0.8 3.7zM213.9 347.4l2.5 1.3l5.1 4.6l1.6 -5.3l-3.0 -1.6l-5.3 -0.2zM173.3 477.3l3.4 -8.4l-2.4 -0.2l-3.2 1.9l1.8 4.4zM65.8 321.7l-2.2 1.5l0.2 3.0l4.4 -0.2l-0.4 -3.1zM106.3 334.8l1.0 -1.9l-2.2 -1.2l-1.2 4.1l0.1 0.2zM166.4 351.2l-1.8 5.8l3.5 -0.6l2.0 -4.6l-1.2 -3.3zM89.8 443.0l-2.0 -1.3l0.3 4.0l2.1 2.7l1.0 -2.3l2.7 -3.8l-1.2 -1.0zM92.9 446.5l2.5 1.1l1.1 -4.4l-2.5 -0.8zM147.3 328.6l0.8 -1.7l-1.5 -1.0l-0.4 -1.8l-7.0 0.6l-0.3 -0.1l5.3 3.9zM109.3 345.0l-4.0 1.2l1.2 2.8l2.5 -0.6l1.2 -0.4l-0.9 -2.6zM197.0 369.1l4.9 3.0l2.2 -2.1l-1.6 -2.6zM111.0 332.4l-2.1 1.0l-0.1 2.8l2.5 0.9l0.7 -0.7l-1.3 -1.8zM216.5 319.4l0.4 0.2l4.0 0.0l0.7 5.5l-1.6 1.0l-2.9 -0.9l-1.2 -3.4zM106.8 376.2l-4.5 2.1l-4.3 -4.7l0.9 -1.0l6.6 0.9zM205.9 390.4l-5.0 -0.6l-0.3 -6.2l1.2 -2.5l3.4 2.9l1.8 4.1l-0.8 2.1zM82.8 331.1l-0.7 -0.2l-1.7 1.3l-3.0 -0.7l0.4 0.6l2.0 3.4l1.6 0.3zM108.4 430.9l-3.9 0.1l-2.1 3.4l1.5 2.2l4.6 0.1l-0.4 -1.7l0.5 -2.4z"/>
<path fill="rgb(96,96,96)" d="M184.9 330.9l4.2 -0.1l-0.4 -5.2l-3.8 1.7l-2.5 4.2zM85.8 365.1l2.0 2.8l0.0 1.2l-0.2 0.8l-6.2 4.9l-2.3 -5.0l5.1 -5.9zM125.7 332.5l3.8 1.8l5.1 -7.8l-0.2 -0.7l-3.8 1.3l-3.8 -0.1zM187.4 342.9l0.4 2.7l1.1 2.5l3.8 1.4l1.2 -3.9l-2.5 -4.6zM83.9 415.4l-3.2 -0.0l1.9 -3.0l2.3 1.5l0.5 0.4zM105.8 325.8l-0.4 -2.0l2.3 -5.1l3.1 1.5l0.0 1.2l1.0 0.1zM112.4 324.8l-2.9 3.1l-2.9 -0.3l-0.7 -1.7l6.0 -4.3l0.0 2.0zM116.4 435.4l-0.8 1.2l2.1 4.6l1.2 1.2l1.9 -1.0l0.4 -7.1l-1.4 -1.3l-1.7 -0.1zM110.7 418.5l1.1 -1.6l3.8 0.9l0.3 1.6l-1.3 3.0l-3.2 -0.0l-2.2 -3.0zM214.1 357.3l-3.7 -3.3l4.3 -2.0l6.7 1.5l-0.5 2.1l-5.1 2.5zM199.0 344.1l3.1 1.7l0.5 -1.3l1.0 -5.8l-1.1 1.4l-2.1 -0.5zM119.7 325.9l2.9 -1.4l-0.5 -2.2l-3.3 -1.6l-1.5 2.9zM121.5 451.5l-2.5 -8.7l-1.4 0.9l-1.3 0.5l-2.6 3.8l1.8 4.4l4.0 0.9zM144.6 416.3l-0.8 -3.5l3.1 -5.6l3.8 4.1l-0.3 3.5l-2.3 1.1zM167.6 467.3l3.4 -2.4l2.9 3.3l-3.0 2.2l-0.6 -2.5zM188.3 419.1l-2.5 0.3l0.9 2.1l5.4 3.4l0.5 -0.9l-0.6 -5.2zM166.6 433.3l2.3 0.4l-0.5 -4.9l-3.3 -1.5l-2.5 3.3l3.4 4.6zM130.4 403.8l0.1 0.8l0.9 2.2l1.3 1.9l2.4 -4.4l-1.4 -2.1l-1.9 -4.4l-1.3 2.7zM158.8 338.7l0.2 1.7l-2.4 2.3l-1.6 -0.8l-1.7 -2.4l-1.3 -3.6l0.5 0.3l1.9 -1.4zM148.7 433.3l3.1 -2.6l1.8 2.1l4.0 -0.2l-0.9 1.7l-6.9 3.1l0.6 -2.0zM67.8 386.0l1.0 -2.4l-2.6 -2.7l-5.7 -0.1l-4.2 5.2l7.3 3.5zM172.8 320.2l2.0 3.4l-3.4 3.0l-0.4 1.6l-1.3 0.3l-0.6 -4.9l-0.5 -2.0zM155.7 326.9l0.7 -3.0l-3.3 -1.1l-2.4 2.8l-1.3 1.1l0.4 0.4l4.5 0.2zM90.3 428.6l-3.9 0.5l-2.0 -3.8l2.9 -2.3l1.3 -0.8l5.5 0.9l1.1 1.6l-1.6 3.4zM110.8 344.6l1.6 2.9l0.8 1.3l2.7 -1.3l1.7 -4.0l-2.0 0.5l0.5 -0.9l-3.9 -0.7zM179.2 408.6l2.4 4.1l-2.9 1.8l-2.9 2.7l-2.4 -1.7l0.7 -7.3l2.1 -0.6zM152.5 424.0l0.5 -0.5l3.2 3.4l-2.3 1.1l-2.0 1.5l-0.4 -1.5zM216.0 358.6l5.4 -2.1l4.0 4.0l-4.8 4.1l-2.9 0.7zM144.5 451.2l1.4 1.3l1.8 -3.4l-2.8 -3.9l-0.6 -0.7l-2.1 5.6zM193.5 333.7l-3.2 -3.0l-1.5 -5.1l2.2 -0.0l4.7 0.5l-0.3 1.6l-1.4 5.6zM132.4 468.1l3.5 0.6l3.0 -1.8l-2.7 -5.1l-3.0 -0.1zM149.8 453.3l2.8 -2.8l-0.8 -1.6l-3.7 0.5l-2.0 3.2l1.3 1.0zM75.0 435.0l1.5 3.7l-3.7 1.2l0.5 -5.0zM148.7 369.5l2.8 -0.2l2.2 7.0l-4.3 0.6l-1.8 -7.1zM170.4 370.8l-4.3 -2.2l-1.0 -2.5l5.5 -1.4l1.6 5.1zM62.2 440.0l2.2 -0.1l2.5 -0.3l-0.5 -3.2l-2.5 -2.1l-4.2 1.6l-0.1 1.8zM77.1 463.6l-4.0 -2.3l-3.5 0.5l3.6 4.7l0.8 -0.2l2.9 -0.3zM138.4 403.5l0.8 -0.3l0.9 0.5l0.6 -3.8l-3.1 2.0zM196.9 369.2l4.4 3.5l-0.0 1.5l-2.4 0.8l-3.4 -3.3l1.2 -1.9zM213.6 367.4l-5.2 2.4l0.5 -1.2l-1.3 -3.0l3.7 -1.0zM74.1 430.0l2.8 1.0l0.0 -5.5l-3.6 -1.4l-4.8 4.7l3.3 2.9l0.9 -0.3zM158.3 447.7l-3.2 -3.8l-0.4 2.5l-2.1 2.1l0.3 1.8l5.0 2.7zM88.0 334.9l-1.9 -3.1l5.1 -3.1l1.2 0.7l-0.5 6.4l-2.9 0.1zM120.5 386.4l1.4 -2.9l2.5 -0.3l1.6 2.4l1.9 1.2l0.3 0.8l-2.3 0.8zM174.7 448.2l-4.0 2.5l-0.6 -0.9l0.2 -1.2l1.3 -3.2l3.1 -1.6l1.3 3.0zM104.1 336.2l-0.2 0.2l-0.8 0.3l1.7 1.4l0.9 2.0l0.4 -0.4l0.5 -0.7l0.3 -1.6zM71.0 435.2l-0.5 -0.7l-3.2 1.8l-0.4 3.2l4.6 0.6l1.1 -0.3zM81.5 406.5l0.4 -1.9l-4.4 0.4l1.5 2.6l1.8 -0.7zM88.7 348.2l4.5 -0.6l1.3 -4.1l-1.9 -2.0l-5.1 2.6zM93.5 436.9l-0.8 4.2l-2.5 -2.2l-1.4 -2.5l1.5 -1.1zM214.3 436.0l2.6 2.2l5.0 -4.5l0.4 -1.0l-8.1 -1.6l-0.9 1.3zM94.1 398.6l-2.0 -3.2l4.1 -4.3l0.6 0.1l1.5 4.2zM94.7 343.3l2.1 -0.0l1.4 -3.2l-2.1 -1.8l-2.8 -1.0l0.0 3.7z"/>
<path fill="rgb(102,102,102)" d="M181.0 345.1l0.8 3.2l3.5 -2.6l-3.8 -1.5zM195.0 378.6l3.7 -3.4l-3.4 -3.4l-2.4 4.2l-1.2 0.6zM188.7 355.6l-2.1 5.4l-1.8 1.4l-1.5 -0.5l-1.6 -2.3l3.0 -4.0zM148.3 354.7l-1.4 -0.1l-2.4 3.1l-0.1 2.3l2.8 3.2l7.6 -2.8l-0.7 -2.8zM142.5 316.9l-2.2 1.2l-1.7 -3.8l4.1 -2.0l1.2 1.2l0.8 -0.2zM119.1 355.3l-2.3 2.9l2.1 2.3l2.9 -1.6l-1.1 -2.4zM115.5 402.0l0.1 -1.2l-2.9 -1.1l-3.3 2.1l1.0 1.8l4.4 0.8zM174.9 448.6l2.4 3.8l-0.3 0.8l-5.2 -0.6l-1.0 -1.8zM134.2 436.5l0.1 3.9l-1.1 3.4l-3.5 0.3l-2.6 -3.5l1.8 -4.4l1.0 -3.8l0.4 -0.6zM185.8 444.4l-4.0 -4.2l-3.3 -0.0l-1.0 0.3l4.9 4.5zM86.1 409.7l-1.0 2.7l-2.4 -0.9l-0.7 -0.8l0.1 -1.0zM94.8 343.6l2.1 -0.0l4.0 2.7l-3.0 5.5l-4.2 -4.1zM191.7 404.2l0.9 -2.6l0.5 -2.7l4.1 -0.7l1.0 4.0l1.2 0.6l-1.0 1.1l-2.6 -0.5zM76.5 398.8l3.3 -1.4l0.2 -4.4l-2.0 -3.2l-1.8 1.0l-3.5 3.3l1.7 3.5zM72.8 460.4l1.7 -3.8l0.7 -2.7l-1.5 -0.4l-4.9 0.5l-1.0 2.3l-0.3 4.5l2.0 0.7zM207.1 315.0l2.7 -0.8l6.3 5.0l-0.9 2.2l-5.1 1.4l-2.1 -1.2l-1.3 -5.3zM197.9 429.9l-2.4 1.5l2.1 2.9l1.7 -2.0l0.8 -0.6l-0.3 -1.2zM144.7 426.3l-1.3 0.8l-0.3 -3.4l1.8 1.5l2.4 1.6zM157.4 402.9l5.7 -2.1l-0.5 -4.7l-5.4 -3.6l-1.4 3.2l-0.5 4.5zM191.6 404.4l1.4 2.9l1.2 2.9l-2.9 -0.6l-2.2 -2.9zM74.5 352.7l-6.3 1.1l-1.8 -3.1l3.0 -2.4l1.1 -0.3l0.7 1.5l2.9 0.8zM102.8 355.3l-0.4 0.1l-3.5 -1.0l-1.0 0.5l-0.3 5.0l2.4 2.7l4.1 -5.7zM206.9 437.9l0.8 -0.2l2.8 1.2l-0.8 6.6l-0.4 0.8l-2.8 -1.4l-1.6 -5.7zM85.9 407.9l1.1 -1.8l-4.3 -1.8l-0.5 0.3l0.0 1.8zM113.2 349.0l1.3 4.9l3.7 -2.2l0.5 -0.2l-2.5 -2.8zM143.5 392.3l9.3 1.8l0.5 -1.2l1.6 -2.0l1.0 -1.0l-5.7 -4.2zM147.8 334.4l1.1 0.3l-1.4 -5.0l-0.1 3.4zM105.3 313.9l-7.0 -2.9l-0.7 1.0l1.4 4.5l1.7 1.3l3.9 -2.3zM177.8 383.4l-0.1 -6.6l-0.4 -0.0l-3.4 2.7l-0.0 3.8zM118.8 329.5l3.7 4.3l2.8 -1.4l1.4 -5.4l-3.5 -1.5l-3.3 0.6zM167.7 344.4l0.9 3.5l-2.9 0.8l-2.8 -0.2l2.2 -5.4zM165.6 435.5l-3.1 -4.9l-4.6 2.1l0.6 1.9l2.0 1.5l3.4 0.4zM169.9 417.2l-8.9 -3.2l-0.4 2.8l6.2 2.7zM122.4 422.6l-2.3 2.6l-3.6 -0.7l-0.8 -1.6l1.3 -3.1l5.5 -0.7l0.6 0.2zM206.8 436.6l0.8 -0.1l0.9 -4.1l-1.0 -2.1l-1.4 2.6zM78.3 324.5l-2.6 3.4l1.4 2.9l1.7 -3.1l-0.1 -1.0zM127.2 392.4l1.6 -1.2l-0.2 -3.2l6.2 -0.3l-0.7 3.6l-2.6 4.7l-2.5 -0.9zM147.7 329.0l1.2 -1.3l0.5 0.2l0.7 2.1l1.5 2.5l-0.4 1.9l0.1 0.6l-2.0 -0.4l-1.6 -5.0zM112.7 328.2l-1.5 2.1l-1.5 -2.2l2.9 -3.2zM69.4 401.0l-4.3 0.7l2.0 3.9l0.3 0.7l1.1 0.2l2.5 -1.1zM167.0 395.6l4.3 5.0l-2.2 1.0l-4.5 0.1l-1.3 -0.9l2.8 -3.3zM83.0 351.6l-4.1 -1.5l-3.3 0.9l-0.8 1.9l1.1 2.6l2.2 1.7l3.0 1.1zM166.6 312.1l1.2 -5.4l-3.9 -3.4l-2.8 11.4l3.2 1.2zM111.8 377.9l4.2 -6.8l-7.8 -0.5l-0.8 2.7l0.7 2.5l1.5 1.6zM209.9 425.4l0.9 -0.1l2.6 1.1l0.8 4.7l-1.0 1.2l-3.2 -1.8l-2.1 -0.4l0.1 -0.4zM193.5 310.9l-1.4 2.1l-1.4 1.3l-2.0 -1.2l-0.2 -1.0l0.3 -0.3l1.1 -0.5l0.0 -0.5zM141.5 432.7l1.2 2.2l2.8 -2.3l0.0 -1.4zM85.8 331.1l-1.5 -0.9l-0.0 -0.6l2.4 -3.2l1.3 0.3l3.0 1.7zM78.1 379.1l-5.6 -3.0l-3.0 0.9l-2.3 3.4l2.3 2.9l6.8 -1.8l0.6 -0.4zM60.4 425.9l4.1 2.5l-0.9 4.9l-4.1 2.3l-0.7 -2.3l1.6 -6.6zM136.6 365.5l2.1 0.7l-0.6 1.9l0.5 1.4l-1.8 0.9l-0.3 -1.4zM131.3 467.9l1.7 -6.1l-1.4 1.2l-3.5 -0.5l-2.5 7.2l4.4 -2.4zM92.7 366.0l-4.5 1.6l-2.0 -2.9l4.9 -2.4l3.9 -0.5zM206.9 345.1l6.5 2.0l0.5 -1.5l-1.1 -3.1l-2.3 -0.1l-1.4 1.1zM80.1 344.2l-4.9 -1.9l-1.3 -1.7l0.4 -0.6l5.2 1.0l0.8 1.8zM143.5 380.2l4.2 0.0l-0.9 -2.5l0.3 -7.7l-0.8 0.5l-1.9 4.7l-3.4 2.9zM106.3 340.6l-0.5 -0.2l-0.1 3.0l-0.9 1.6l4.0 -0.8zM153.7 343.2l-2.4 2.7l-5.6 -2.0l0.1 -1.6l5.4 -1.1zM78.8 448.0l-3.4 5.8l2.4 1.0l6.1 1.8l-0.6 -1.0l-1.8 -5.7l-2.1 -1.2zM76.2 365.6l-0.4 2.3l3.1 1.7l5.1 -5.7l-0.6 -0.9zM156.1 379.0l-1.6 -1.0l-2.6 3.1l-2.7 0.2l1.1 4.2l6.1 3.5l4.5 -5.5l-0.1 -1.8zM132.2 362.6l4.1 2.7l-1.0 3.5l-6.0 1.6l1.2 -7.5zM86.9 409.4l4.0 1.4l2.0 1.0l-0.6 2.3l-3.5 -1.0l-1.7 0.5l0.2 -0.7l-0.4 -3.0zM102.9 415.7l1.2 -3.1l1.6 -2.7l-2.3 -2.3l-2.3 2.6l1.6 5.2zM215.7 467.0l4.9 1.3l2.7 -7.2l-1.0 0.1l-6.9 2.6zM193.7 367.1l-3.3 2.9l-2.9 -2.1l1.7 -1.2l1.7 -1.0zM188.5 323.4l1.6 -2.1l-1.8 -1.3l-4.8 0.4l-1.6 3.1l3.3 1.1l3.5 0.8zM195.4 425.1l-1.6 -1.6l-1.5 -4.9l1.4 -2.0l2.2 -1.9l0.1 1.4l1.2 4.6zM207.7 348.3l-0.2 5.2l1.9 -0.6l1.3 -3.5l2.7 -1.9l-6.5 -2.2zM189.1 449.5l6.3 -2.0l1.1 -2.7l-0.3 -2.1l-6.2 -1.4l-3.4 3.3zM73.4 321.0l3.1 -1.8l3.3 4.0l-2.5 -0.8l0.9 1.9l-4.6 -2.4zM205.4 316.8l1.5 5.3l-1.5 2.6l-1.8 -0.2l-1.8 -2.4l-0.8 -2.1l0.8 -1.4zM186.6 394.0l-3.4 1.6l1.4 3.8l1.6 -0.2l2.5 -3.5l-0.0 -3.2zM114.8 404.5l-4.5 0.7l0.7 2.8l-0.2 0.3l2.4 0.1l-0.1 -1.4z"/>
<path fill="rgb(108,108,108)" d="M76.7 439.2l3.6 1.5l-2.2 5.2l0.1 0.8l-5.3 -0.8l-0.3 -4.6l0.3 -1.2zM77.7 467.5l-0.7 1.6l0.1 3.8l1.8 -4.3zM91.6 469.3l0.3 4.3l-0.5 0.5l-3.1 -1.7l-0.2 -2.4l1.3 -2.8l1.7 -0.3l0.0 1.0zM133.2 316.4l-3.2 0.6l-4.0 -3.8l-0.4 -1.7l2.4 -0.9l6.5 4.4zM103.6 335.7l-0.7 0.5l-3.6 -1.8l0.5 -4.2l4.5 -0.0l0.3 1.3zM209.4 404.5l0.0 -1.8l1.8 0.1l0.8 2.5l-2.3 0.6zM210.5 448.6l5.5 0.1l-0.7 5.1l-4.4 4.3l-3.8 0.7l0.2 -6.2l2.3 -4.8zM150.0 469.7l-1.9 3.4l0.8 -0.0l6.9 1.9l4.0 -6.2l-9.8 0.5zM123.7 348.5l3.6 -0.2l-0.6 -3.7l-4.0 1.0zM218.2 447.5l2.0 2.0l2.4 1.9l2.8 5.7l-1.0 3.5l-1.1 0.2l-0.9 -0.4l-6.1 -6.4l0.5 -5.2zM165.8 409.0l-1.2 -0.8l-0.5 -5.8l-0.9 -1.4l-5.0 3.6l-1.3 3.7l2.7 1.1zM210.0 406.7l2.4 -0.7l1.1 0.3l2.0 3.8l-1.2 1.9l-3.5 -0.1zM204.6 412.2l0.6 -6.2l-4.5 -2.2l-0.9 1.2l1.7 4.4zM176.4 446.6l3.5 0.3l2.4 -1.6l-4.8 -4.6l-2.1 2.9zM110.4 440.2l-0.4 -2.1l1.3 -0.1l3.9 -1.2l1.2 5.1l-1.2 0.7l-4.6 -1.4zM83.0 319.0l-5.3 -2.3l-0.1 -1.6l5.2 -0.4l1.4 1.8zM126.3 393.0l-5.9 1.4l0.2 2.4l2.4 1.3l5.8 -2.7zM105.9 409.3l3.1 -1.3l-0.8 -3.4l-1.4 -1.3l-2.7 -1.2l-1.6 1.3l0.9 3.9zM105.7 372.3l-6.8 0.1l1.5 -2.4l0.7 -4.6l5.7 0.6l0.9 4.4zM210.2 379.2l-1.7 -0.2l-0.6 -2.2l1.5 -3.6l3.1 3.3zM69.7 390.7l1.4 -1.7l-2.7 -1.7l-4.0 3.0l1.2 0.4zM175.2 448.4l2.9 3.4l1.7 -0.7l0.0 -3.3l-3.5 -0.8zM127.3 383.5l1.9 -1.6l-1.9 -1.6l-2.8 2.6zM191.2 434.7l4.9 2.2l0.8 -2.2l-1.9 -2.9zM200.4 320.0l-1.4 2.0l-1.8 1.9l0.5 -2.8zM94.7 457.5l-1.6 -2.3l-2.2 -2.2l-3.8 3.4l3.8 3.5l0.8 -1.2zM73.9 333.6l2.6 -0.4l2.2 3.1l-0.3 0.4l-3.4 0.7l-2.0 -2.1zM149.2 426.0l1.4 1.5l1.5 -3.7l-1.9 1.5zM100.8 409.9l-1.6 -1.8l-2.3 1.3l-0.2 -4.0l5.8 -1.8l0.9 4.0zM194.9 311.1l1.1 1.2l-0.2 2.5l0.0 0.3l2.3 -2.4l-1.5 -3.0l-0.5 -0.5zM141.0 460.9l2.0 1.3l-0.9 2.8l-2.2 1.7l-0.8 0.1l-2.7 -5.1l3.2 -2.2zM149.9 455.7l1.3 2.6l-1.0 3.5l-3.9 -4.3l1.3 -2.9zM192.2 393.4l-1.7 1.2l-1.3 0.9l-0.4 -3.0zM221.5 426.8l-4.7 -2.2l1.6 -5.4l1.6 0.0l2.0 4.0zM84.9 422.2l-0.6 3.1l-6.8 -0.2l2.4 -4.5l4.5 -0.7zM102.8 415.9l1.1 3.2l-5.7 5.6l-2.4 -0.3l-0.8 -1.8l0.8 -3.9l3.7 -2.5l2.8 -0.1zM200.2 453.3l2.6 -1.5l-1.4 -0.6l-0.2 -0.0zM162.5 430.4l-4.6 2.1l0.8 -3.5l-2.2 -2.0l3.7 -3.2l3.7 1.4l0.9 1.9zM96.8 390.8l0.7 -3.6l1.0 -1.8l-5.5 -1.8l-2.2 3.9l-0.1 0.6l5.6 2.7zM170.9 391.4l-3.0 3.4l4.6 5.2l2.9 -0.1l1.1 -4.8l0.7 -2.3zM76.4 331.1l-0.7 0.2l-1.9 2.1l-3.9 -3.4l2.0 -1.6l0.4 -1.6l2.8 1.4zM110.5 442.1l4.6 1.5l-1.7 4.2l-3.2 0.5l-1.5 -3.7zM173.2 315.0l-4.7 -0.6l-4.0 1.7l4.1 4.9l3.9 -2.1l0.4 -1.3zM171.1 390.4l6.3 1.6l0.8 -5.2l-0.6 -1.5l-3.7 -0.2l-3.6 2.5zM128.4 386.6l3.1 -3.9l-1.4 0.6l-1.7 1.1zM212.5 391.8l1.7 -0.4l3.0 2.4l-1.3 2.5l-2.4 0.5zM61.9 399.5l2.9 2.2l0.7 4.0l-2.1 2.6l-5.1 -7.1zM179.4 425.7l3.6 -2.0l2.4 -2.3l-0.5 -2.1l-4.3 -0.9l-3.7 1.0l-0.2 3.2zM108.3 430.4l-3.8 0.2l-1.7 -3.1l3.2 -2.1l3.0 -0.4l-1.9 3.7zM92.6 464.9l-0.9 0.8l-0.4 -5.1l1.4 0.5l5.0 0.7l-0.0 1.2zM145.9 337.8l-2.3 1.7l1.8 1.5l5.4 -1.7l0.3 -3.5l-2.0 -0.5l-1.2 1.1zM61.5 424.2l2.4 -6.3l2.8 1.7l3.2 -1.0l3.4 5.2l-4.8 4.7l-3.7 -0.4zM82.2 469.4l-0.2 5.6l3.4 -0.6l1.3 -1.4l0.5 -2.6zM195.3 378.8l3.7 -3.4l2.5 -0.5l0.9 1.1l-0.8 4.7l-2.4 -0.4l-1.9 -0.2zM69.3 461.8l-1.9 -0.8l-3.6 2.9l-0.3 5.4l1.0 2.3l0.9 0.9l2.7 0.6l0.8 -4.5zM197.3 450.8l2.1 0.6l0.5 2.0l-0.4 0.6l-1.0 -1.5zM69.7 391.1l-4.0 0.8l-0.5 1.5l4.6 -0.4zM114.8 413.6l1.0 1.3l-0.2 2.4l-3.7 -0.7l0.3 -2.6zM186.1 339.5l-2.3 1.6l3.1 0.6l3.9 -1.5l-1.0 -1.6l-3.7 -1.7zM136.6 471.3l-1.0 4.0l2.4 1.2l4.2 -2.9zM132.0 397.4l0.4 -0.8l5.2 -2.3l1.4 -2.5l2.6 1.2l0.3 3.4l-1.2 3.0l-4.0 -1.4zM194.1 319.7l-2.0 1.1l-1.8 0.4l1.4 1.8l4.0 2.6l0.3 -1.5l-1.7 -2.8zM93.4 382.3l-1.2 -3.5l3.0 -2.0l4.1 6.1l-0.8 1.5zM139.8 347.6l-0.9 8.3l-2.6 -0.1l0.4 -3.7l0.6 -3.0zM82.4 325.5l-0.1 1.0l0.7 2.4l2.0 -3.9l-2.2 -2.2l-1.9 1.1zM198.1 425.4l-2.6 -0.2l3.7 -3.0l2.9 -2.1l0.4 1.8l1.8 2.2l0.1 0.1zM147.9 429.7l-2.1 1.3l1.7 0.0l1.0 2.1l2.5 -3.1l-1.1 -1.2l-2.1 -0.3l-0.4 -1.5zM80.1 344.4l-5.3 -1.3l-1.1 4.5l1.5 1.9l2.7 -1.6zM181.8 343.8l1.9 -2.1l2.7 1.1l-1.0 1.7l0.3 0.7zM167.6 376.1l3.3 -4.4l1.8 -1.0l3.6 0.9l0.9 4.9l-4.5 1.4l-2.8 0.6zM151.3 329.7l2.4 0.7l-1.8 1.9zM61.9 373.0l2.4 -1.1l3.7 4.4l-1.9 3.6l-5.8 0.4l-0.8 -4.8l0.1 -1.8l0.1 -0.1zM99.9 470.8l-0.0 4.8l2.0 -1.3l3.3 9.2l4.3 -9.3l-3.0 -9.8l-3.2 -0.4l-0.6 0.5zM89.0 420.9l5.4 1.6l0.2 -4.0l-2.2 -4.2l-2.5 2.2zM164.7 402.3l1.9 5.4l3.2 -2.6l-1.4 -0.2zM118.3 432.7l1.6 -0.7l0.8 -3.0l-0.8 -2.2l-3.5 -1.3l0.6 3.2zM93.5 470.3l-1.5 3.3l1.9 -1.4l-0.3 -1.1zM115.0 432.0l-0.9 -3.3l1.0 1.9l3.0 2.2l-2.3 1.6zM180.1 366.6l0.2 1.3l-3.8 3.2l-3.4 -1.6l-1.5 -5.2l0.7 -2.8l1.0 -0.7zM130.2 403.7l-5.1 -0.3l-0.9 -1.5l6.2 -1.6zM123.9 349.5l0.2 1.2l1.1 1.5l1.7 1.3l3.1 -1.6l-0.5 -1.3l-2.0 -1.7zM89.6 434.2l-1.0 2.0l-2.9 -1.3l0.3 -4.3l0.4 -1.3l3.1 1.5zM84.3 419.7l-4.6 0.0l-0.8 -3.7l1.5 0.3l2.9 0.3zM130.9 372.4l-1.6 -1.8l5.9 -0.4l1.5 0.4l-0.3 6.9zM113.9 334.9l-1.8 1.6l1.9 -1.4l0.4 0.3l0.9 -0.7l-1.1 -0.1zM72.8 335.3l0.0 3.3l0.9 1.1l-0.2 0.6l-3.8 0.2l-3.2 -1.5l0.5 -2.4zM122.7 345.3l-2.5 -1.8l3.8 -4.1l3.9 2.1l0.2 1.4l-1.7 0.4zM205.5 405.2l-4.3 -2.3l1.3 -0.5l0.2 -1.3l5.5 -0.5l-0.4 1.5l-1.4 2.1zM113.2 434.3l-3.2 -1.8l2.1 2.5l3.2 1.3l0.0 -1.5zM63.0 348.4l3.0 2.2l2.9 -2.5l-5.3 -2.6l-2.1 0.2zM184.0 373.5l-2.3 3.7l-3.8 -0.6l-0.1 -0.4l-1.2 -4.8l3.8 -3.3l2.3 3.3zM97.0 459.7l-2.1 -2.1l-1.6 2.3l4.5 1.6zM216.9 377.7l-0.6 6.9l0.6 0.9l2.3 0.5l2.0 -1.2l-0.4 -4.9z"/>
<path fill="rgb(114,114,114)" d="M121.9 452.1l2.9 0.5l1.0 1.6l-0.1 4.9l-2.7 0.9l-3.1 -4.1l-0.3 -2.5zM146.7 323.5l1.7 -2.6l-0.3 -2.2l3.8 0.9l0.7 2.5l-3.7 1.4zM130.3 431.7l-0.3 -0.7l-1.6 -1.9l-0.1 -3.7l2.3 -2.4l5.2 0.1l-0.2 3.3zM87.8 408.1l-0.1 -1.6l2.7 -2.9l0.6 6.3l-4.0 -0.9zM161.4 447.2l1.3 -4.6l2.4 0.6l-1.6 2.1l-0.9 1.8zM118.9 387.3l-4.7 -2.8l-0.8 2.7l-0.6 2.6l4.4 -0.1zM179.3 331.8l-0.9 -2.0l0.2 -5.1l3.1 -1.0l1.1 3.0l-0.6 4.8zM188.5 313.5l-1.1 2.1l1.0 4.1l1.8 1.4l0.5 -1.9l-0.1 -4.4zM212.9 384.6l-5.7 3.5l0.9 -5.3l0.3 -1.7l1.8 -1.2zM84.6 464.6l4.6 2.3l-2.0 2.6l-4.8 -0.8l-0.7 -0.9zM171.0 416.5l-0.0 -1.8l2.7 -6.6l-2.9 -1.8l-3.6 3.3l-1.3 -0.5zM208.7 329.0l2.4 -1.1l-1.2 -4.6l-2.2 -0.4l-2.1 2.0zM189.1 355.5l2.8 4.2l-1.6 1.5l-3.3 -0.2l1.7 -5.4zM168.1 321.2l-1.6 0.6l-4.9 1.9l-2.3 -0.8l1.3 -7.2l0.2 -0.4l3.2 1.0zM94.9 437.3l-1.9 3.8l1.2 1.0l2.6 0.4l0.9 -1.2l1.4 -5.9l-1.7 -0.6zM121.5 434.2l-0.8 -1.8l2.1 -2.5l4.5 0.1l1.8 1.8l-3.5 1.1zM216.2 480.7l6.7 -7.7l-3.0 -2.6l-4.9 -1.2l-5.1 3.0zM181.8 351.8l0.0 -0.6l-4.5 1.7l-0.2 4.7l4.5 1.8l2.4 -4.7zM213.6 397.6l2.4 -0.8l2.3 4.6l-1.5 0.6l-2.5 -1.7l0.2 -1.5zM119.1 340.6l-0.7 2.0l1.7 0.8l3.8 -4.1l-1.5 -4.9l-2.2 4.0l-1.4 0.7zM97.7 373.4l-1.2 0.7l-8.1 -5.0l-0.1 -1.2l4.9 -0.9l3.3 3.4l1.9 2.0zM143.6 462.5l5.9 1.0l0.1 5.4l-0.3 0.1l-7.1 -3.8zM117.4 330.2l-0.2 2.6l-0.6 1.3l2.3 -1.0l3.3 1.0l-0.0 -0.1l-3.9 -3.9zM157.7 329.4l-1.8 -2.2l-0.7 1.2l-0.4 1.6l1.2 1.6zM73.6 333.5l-3.9 -3.4l-4.1 2.9l1.3 3.4l5.9 -1.3zM77.5 409.3l0.1 1.9l-1.8 0.2l-0.2 3.0l-2.3 -4.1l1.0 -1.2zM80.1 375.8l-1.5 2.6l-5.3 -3.6l-0.6 -3.9l2.6 -1.3l3.5 0.5l1.5 5.1zM210.7 412.9l3.6 -0.3l1.9 4.7l-5.5 2.7l-0.9 -2.1l-1.5 -4.0zM112.9 432.3l-3.0 -0.6l-1.1 -1.0l2.0 0.2l3.1 -2.3zM119.0 316.8l4.4 1.2l2.3 -4.9l-0.3 -1.7l-2.0 -0.6l-2.9 1.0l-2.4 1.1l-0.9 0.8zM122.5 348.7l-0.7 0.7l-3.1 2.0l-2.1 -3.4l1.7 -4.2l1.7 -0.1l2.3 2.0zM207.5 361.5l4.0 -0.3l0.8 -3.2l-3.1 -3.1l-1.8 -0.7l0.3 2.6zM139.8 432.2l-4.3 4.1l1.3 3.7l3.4 1.1l1.2 -4.1l0.7 -1.6l-1.5 -2.1zM214.7 345.5l5.4 -0.8l-2.3 -4.1l-1.3 0.1l-1.3 1.2zM169.8 390.7l-3.3 3.1l-1.8 -1.3l-6.1 -2.1l-1.3 -0.8l3.8 -6.0l6.4 1.9l2.2 2.2zM148.4 401.2l-1.4 -2.1l5.7 -3.7l0.4 0.6l1.4 4.2zM163.0 331.1l1.9 0.6l3.9 -2.7l-1.7 -5.0l-5.1 1.3l0.6 3.8zM103.8 355.1l5.3 -2.0l1.6 1.6l-2.9 3.3l-3.3 -1.2zM203.2 466.1l2.7 5.3l-5.5 6.0l-4.8 -7.1zM117.0 329.4l-1.2 -2.6l-3.2 -2.0l1.0 -1.0l3.5 0.0l2.5 2.3l-1.7 3.1zM112.7 397.5l-2.5 -4.0l2.6 -3.1l4.4 -0.0l1.0 2.0zM189.0 355.2l3.8 -4.5l-0.3 -1.0l-3.9 -0.7l-6.0 2.5l2.7 3.0l3.4 1.0zM198.7 420.3l-1.4 -4.5l5.1 -0.2l-0.4 4.2zM204.1 419.7l4.1 -1.3l-0.6 -4.2l-2.4 -0.5l-2.4 1.9l-0.4 4.2zM193.0 350.6l5.3 3.1l3.7 -7.7l-3.3 -1.6l-4.7 1.3l-1.3 3.8zM92.4 316.5l6.3 0.1l-1.2 -4.6l-3.8 3.7zM106.6 412.7l1.6 1.6l1.9 -1.8l-0.5 -2.8l-0.4 0.3l-3.1 -0.2zM182.4 453.2l-0.4 5.7l2.1 0.6l2.6 0.5l3.1 -3.6l-1.3 -4.6zM182.1 348.8l-0.2 2.3l0.5 -0.3l5.8 -2.3l-2.9 -1.4l0.3 -0.6zM132.8 452.7l0.4 -4.3l-0.0 -4.0l-3.5 -0.0l-3.9 7.5l1.6 1.4l5.0 0.3zM150.8 462.7l-0.9 0.7l0.2 5.5l9.8 -0.5l0.6 -0.2l-0.5 -0.7l-4.7 -6.3l-0.8 1.1zM171.6 453.1l0.1 2.8l2.6 2.0l2.8 -0.2l-0.1 -4.0zM176.8 402.3l-1.5 -2.2l-2.7 1.7l1.1 2.1l-1.5 0.7l1.8 2.9l2.3 -0.1zM149.4 367.5l-2.0 -4.3l7.6 -2.8l4.3 2.5l-2.4 4.4l-5.2 1.7zM148.6 317.4l3.6 0.7l1.7 -2.0l-3.2 -2.6l-2.8 1.3zM208.5 334.5l4.2 -0.2l-3.0 0.5l-1.1 2.4l-3.5 -1.2l-0.2 -2.5zM210.7 399.8l-2.3 0.6l1.3 0.5l1.6 -0.2l1.1 -0.2l-0.8 -1.5zM153.5 352.9l-2.2 -1.6l-1.7 1.9l4.7 3.9l2.7 -4.1zM208.1 436.8l1.8 -4.2l3.3 -0.1l-1.1 3.4l-0.9 -0.3zM130.2 403.8l0.1 0.8l-5.8 0.8l0.6 -1.5zM87.9 420.7l-0.5 -4.1l-1.1 -1.5l-1.6 1.6l-0.1 3.0l1.8 0.8zM201.2 318.2l-0.9 1.4l-3.2 -1.3l-1.8 0.3l0.7 -2.7l-0.1 -0.3zM147.8 438.0l1.8 -0.4l-0.4 3.8l-4.0 1.7l-0.8 0.7l-3.8 -2.4l3.5 -2.9zM139.1 324.1l1.7 -4.3l2.0 0.4l1.4 0.5l1.9 2.9zM97.0 310.5l0.3 1.3l-4.6 2.8l-1.2 -4.0l4.6 -4.5zM197.0 396.9l-0.3 -3.8l0.2 -0.4l-4.5 0.7l1.4 2.1l-0.7 2.7zM183.8 460.7l-3.2 7.2l1.5 1.8l2.9 -2.4l1.1 2.9l1.9 -5.2l-1.4 -4.8zM83.7 342.5l-2.5 -0.2l-0.7 -1.9l-0.2 -2.4l-0.0 -0.5l1.2 -1.2l2.0 1.6zM187.7 428.6l-2.4 -3.6l1.0 -2.8l5.8 2.9zM93.7 366.2l2.4 -4.1l0.7 1.0l2.5 0.3l0.9 1.4l-2.1 3.6zM131.2 460.0l0.9 -5.4l-5.1 0.1l-0.3 4.7l1.4 -0.0zM128.7 387.6l6.1 0.0l-0.7 -5.5l-1.8 1.3l-3.8 3.4zM197.4 449.2l2.1 0.1l-0.6 -1.2l1.6 -1.0l-3.1 -1.8l-1.8 2.3zM124.9 469.6l-2.7 2.2l-1.2 -1.6l-2.7 -5.3l4.6 -4.6l2.8 0.3l0.2 1.7zM122.4 418.5l-5.5 0.5l-0.7 -1.4l0.7 -2.4l2.6 -0.9l3.0 0.8zM191.7 412.0l0.2 1.1l-2.7 0.8l4.0 1.8l2.4 -1.1l-1.2 -1.4l-0.2 -2.0zM144.2 317.7l1.0 -4.2l1.6 1.7l0.3 2.3l-1.1 0.1zM191.2 434.8l-1.7 0.5l0.7 5.2l6.1 1.5l-0.9 -2.4l0.7 -2.6zM139.2 337.9l-1.5 -2.4l-0.4 -4.5l-5.1 7.0l4.5 2.2zM108.5 439.9l-0.3 -1.9l-4.3 -1.3l1.7 3.0zM107.0 382.9l-4.8 -1.4l1.9 -1.4l3.1 -3.1l1.8 1.4zM192.5 398.5l-2.4 -0.3l-1.1 -2.3l-2.7 3.4l3.9 -0.1zM204.9 421.4l3.9 -1.5l1.5 0.8l-0.1 3.5l-0.6 0.6l-4.8 -0.8zM90.5 355.4l5.7 -0.4l-1.2 4.9l0.4 1.0l-2.8 -1.8l-1.5 -2.8zM145.9 404.9l-3.1 -1.7l-1.6 -3.6l2.0 -2.3l3.0 2.1l-0.2 2.3zM114.1 411.9l-0.9 -3.1l-2.5 0.9l0.3 2.9l0.9 0.4l2.6 -0.0zM62.3 350.8l3.8 0.1l-1.5 3.9l1.3 0.8l-5.1 1.5l-3.8 -2.6zM65.6 321.3l-2.3 1.3l-3.8 -3.0l4.5 0.8l1.0 0.1zM73.0 320.1l-0.3 -0.8l-0.9 -1.6l1.9 -3.2l1.0 0.0l2.6 0.6l0.2 1.6l-1.2 1.9zM111.4 339.5l-0.0 -2.2l0.7 -0.7l0.7 2.3l3.1 2.5l-3.8 0.4zM142.0 453.4l-3.1 1.7l1.2 -1.3l0.3 -3.3l1.4 -0.0l1.3 2.1zM89.2 378.0l-7.4 -1.8l0.1 -0.7l5.9 -5.5l1.8 7.8zM99.0 334.4l0.6 -4.3l-1.8 -1.5l-5.2 0.7l0.1 6.5l0.6 0.7l3.0 -1.9zM143.1 423.3l-2.1 -2.2l3.5 -4.3l3.2 0.4l-0.3 3.9l-2.4 1.1zM148.7 421.1l-0.0 -3.8l2.1 -1.7l2.9 4.4l-0.8 3.2l-0.7 0.0l-1.4 -2.2zM89.2 378.1l-4.1 5.3l-4.7 -2.6l-0.9 -1.7l1.9 -1.9zM202.2 365.1l1.5 -1.0l2.5 -0.3l1.0 1.7l-0.2 3.2l-2.6 1.1l-1.8 -2.5zM143.8 337.0l-0.7 2.4l-1.8 -1.9l0.4 -2.5l1.0 -2.7l1.2 0.7zM72.4 405.8l-0.3 2.0l1.0 2.3l-2.5 -0.2l-1.8 -3.2l2.6 -1.0z"/>
<path fill="rgb(120,120,120)" d="M158.9 413.5l-0.2 -2.7l-2.1 -1.9l-3.0 2.7l-2.2 3.3l4.0 3.5l2.2 0.8l2.1 -2.9zM195.0 369.5l0.1 2.1l-3.5 3.0l-2.0 -0.4l0.9 -3.9l3.1 -3.1l0.9 0.6zM78.4 434.7l-0.7 -2.9l2.3 2.0l2.0 2.8l-0.3 3.1l-1.2 0.5l-3.5 -1.6zM204.6 424.3l0.1 0.1l4.8 0.8l-2.2 4.1l-3.3 -1.1zM147.1 367.6l0.1 -4.2l-2.9 -3.0l-3.6 4.9l2.8 1.7l2.5 2.2l0.8 -0.1zM137.2 421.1l-2.7 -6.6l-1.3 -2.2l-2.2 1.4l-0.8 4.7l0.8 2.5l4.8 1.8zM188.2 465.1l4.5 0.7l0.7 3.9l-2.2 2.1l-5.0 -1.6zM196.9 408.4l1.9 -3.2l1.6 4.8l-4.1 1.7l-1.2 -1.4zM122.2 359.3l3.2 0.4l1.9 2.0l-7.9 5.3l-0.8 -1.2l0.9 -4.4zM119.0 352.0l0.3 2.8l1.9 0.3l2.0 -2.2l-1.3 -1.3l-3.0 -0.1zM102.2 440.0l1.6 -3.3l-1.7 -2.1l-2.9 0.8l0.4 6.0l-0.0 1.4l2.5 -0.8zM167.2 458.8l4.1 4.7l2.0 -1.7l0.1 -2.6l-2.3 -2.6zM73.3 322.3l-0.8 3.9l2.7 1.4l2.9 -3.2zM147.4 426.6l0.2 -1.5l0.3 -0.9l-0.0 -2.2l-1.4 2.1zM77.5 407.7l0.0 0.9l-2.9 -1.3l-1.9 -1.5l2.9 -2.0l1.7 1.3zM81.6 411.0l0.2 1.1l-1.9 2.7l-1.0 0.9l0.6 -2.3l-1.1 -1.8zM189.0 413.9l-3.0 0.6l-1.5 -2.7l-2.5 0.9l0.7 2.9l2.8 3.0l1.5 -1.7zM126.1 319.1l0.3 -1.5l-1.9 0.8l1.4 -5.2l4.0 3.9l-1.9 0.5zM144.0 332.8l-0.9 -1.1l1.7 -1.4l2.6 -1.5l0.0 0.7l-2.1 1.4zM182.2 452.1l6.1 -0.7l0.2 -1.8l-2.4 -4.8l-0.3 -0.2l-3.1 1.0l-1.9 1.9l0.4 3.6zM181.8 403.3l0.8 -1.1l1.7 -2.7l-3.3 -2.3l-1.5 -0.3l-4.0 3.1l2.0 1.9zM126.5 372.6l-4.4 -0.6l-2.8 -2.4l0.5 -1.8l8.0 -5.5l2.5 0.7l-1.2 7.5l-3.1 -0.6zM66.1 441.9l1.0 4.3l2.3 -0.1l1.3 -0.5l2.1 0.2l-1.3 -4.4l-4.5 -1.7zM137.7 456.1l1.5 3.0l-3.0 2.4l-3.0 -0.0l0.8 -1.8l-0.9 -5.1l0.8 -0.2l2.5 2.7zM205.5 412.3l0.4 -6.0l1.7 0.8l1.8 -0.3l0.6 5.2l-2.2 1.3l-2.4 -0.6zM105.7 340.3l-2.5 2.0l-0.5 2.4l-1.0 -4.1l1.5 1.3zM72.4 362.5l-2.4 1.4l1.6 -4.8l1.0 3.3zM94.1 435.6l-3.5 -1.3l0.7 -3.5l2.5 -2.4l3.3 6.0zM170.6 418.0l0.4 -0.5l-0.0 1.8l3.1 0.3l1.6 3.1l-3.6 4.5l-3.5 1.2l-3.3 -1.7l-0.1 -2.3l2.6 -4.2zM113.9 380.1l-2.1 -1.3l-2.2 -0.0l-1.1 4.7l0.1 1.3l2.0 -1.7l2.8 0.5zM162.8 331.5l1.9 0.7l-1.3 3.5l-1.8 3.8l-1.5 0.5l-0.9 -1.4l0.7 -4.7zM118.0 338.2l-0.3 -1.9l-1.2 -1.2l-0.0 1.2zM194.9 333.6l8.0 -1.5l-0.9 -3.3l-5.0 -0.6zM105.0 419.6l-0.2 4.2l-2.4 3.1l-4.1 -2.1l5.8 -5.4zM113.0 349.0l-1.4 1.1l-0.1 1.6l-0.7 0.3l0.0 2.3l2.7 -0.1l0.6 -0.3zM72.4 321.3l-0.7 0.1l-3.1 1.4l-0.3 3.2l2.4 -0.6l1.2 0.6l0.7 -3.8zM197.7 389.8l0.0 -0.5l2.4 0.5l-1.8 -5.7l-1.9 -1.8l-4.4 4.4zM110.2 473.9l9.6 -3.4l-1.6 -5.6l-3.9 -2.5l-2.7 0.8l-4.9 1.1zM187.2 367.8l-0.3 -1.8l-2.2 -3.4l-1.6 0.7l-2.2 3.2l-0.4 1.3l3.6 0.0zM119.0 408.6l-2.6 -2.0l-1.4 -2.1l1.5 -1.9l2.3 1.1l1.4 3.6l-1.3 0.6zM142.6 430.2l2.9 0.9l-4.3 1.0l-1.3 -0.1l1.7 -1.8l0.7 -1.1zM122.0 399.4l0.8 1.7l-3.6 1.4l-2.4 -0.7l-1.0 -1.0l4.7 -3.8zM95.3 417.9l-2.8 -3.8l0.8 -2.2l2.4 -0.7l-0.1 2.2l3.6 2.3zM123.3 419.1l-0.1 -0.7l-0.3 -3.4l2.7 0.7l5.0 -2.0l-2.9 4.3zM205.5 374.5l-2.8 1.1l-0.6 -1.4l0.6 -1.4l1.8 -2.4l2.6 0.4l1.2 -0.9l0.7 2.9zM71.4 448.4l2.2 4.8l-4.9 0.5l1.6 -4.3zM119.3 453.5l-0.4 2.7l-4.5 5.4l-2.2 -2.0l-1.7 -2.6l4.8 -4.3zM213.9 406.0l2.6 3.8l4.6 -2.0l0.7 -1.6l-0.6 -3.5l-2.0 0.8l-1.9 -0.7zM181.7 403.7l-2.4 4.5l-2.8 -0.8l0.9 -4.9zM135.5 411.7l3.5 0.4l-0.3 -5.2l-2.0 -0.2l-3.8 2.0l0.5 3.3zM173.3 314.4l2.2 -8.3l-6.0 0.7l-0.8 5.4zM67.5 407.1l0.4 6.8l1.1 -3.6l-0.4 -3.4zM108.1 386.6l-2.4 2.3l1.0 3.1l3.1 1.4l2.1 -3.4l-3.1 -0.9zM206.3 390.2l0.9 -2.1l5.8 -3.3l2.3 0.4l1.1 0.6l-2.4 5.2l-1.8 0.3zM120.5 409.5l-0.2 3.2l2.4 2.1l0.0 -3.9l1.1 -2.5l-0.7 0.5l-1.8 -0.2zM119.7 379.0l2.2 -6.5l4.5 0.8l-0.2 5.7l-1.9 3.8l-2.5 0.6zM121.3 442.0l-2.1 0.7l2.7 8.7l3.1 0.0l4.5 -7.1l-4.8 -0.9zM75.7 390.3l-4.5 -1.2l-0.6 2.1l0.3 1.6l0.5 0.8l1.3 0.2zM205.5 313.2l-6.2 -0.0l-3.2 2.2l5.6 2.4l3.1 -2.3l0.7 -1.2zM203.8 338.7l1.8 0.2l-0.8 -2.5l3.2 1.7l0.7 2.3l-1.6 1.3zM137.6 421.0l-1.3 -7.1l2.8 -1.7l1.3 2.4l3.7 1.8l-3.7 4.3zM91.3 316.4l-0.3 1.1l-4.9 -1.5l-0.4 -2.3l-0.6 -3.8l5.7 1.1l-0.4 4.3zM70.3 317.1l0.7 -3.6l-1.7 -3.2l-0.3 4.4l-2.5 0.9l3.1 1.2zM103.0 415.9l1.4 3.0l0.7 0.5l3.6 -0.1l-0.3 -1.6l-0.2 -3.1l-2.4 0.7zM106.9 385.5l-2.1 2.7l-3.7 -2.2l-1.4 -1.0l0.8 -1.4l1.5 -1.7l4.3 2.3zM161.2 341.7l3.3 1.1l-2.1 5.5l-1.8 0.2l-1.5 -4.3l-1.6 -0.6l2.4 -2.0zM177.4 458.5l-2.2 0.9l-1.1 2.5l2.7 -0.8l1.7 -1.4zM123.7 324.5l3.0 2.3l2.5 -2.4l0.1 -1.3l-3.3 -2.9l-0.4 1.8l-1.6 0.1zM81.7 393.2l4.4 -0.3l2.7 2.0l-2.1 4.9l-4.2 0.0l-1.8 -2.3zM216.2 377.5l-0.6 6.8l-2.4 0.1l-2.6 -4.9l2.7 -2.4l2.5 -0.1zM156.6 323.6l-2.9 -1.8l0.2 -2.7l1.1 -2.3l2.7 -1.6l2.3 0.4l-1.1 7.2zM212.6 439.1l-1.2 6.7l4.9 2.1l1.8 -0.6l-1.4 -8.5l-3.3 -0.7zM76.8 319.0l0.9 -2.2l5.1 2.7l-0.5 2.0l-1.9 1.2zM77.9 447.6l-2.7 6.1l-1.4 -0.6l-0.9 -5.2l0.0 -1.9zM157.4 314.5l-2.3 -4.5l-3.7 0.2l-0.5 3.0l3.6 2.1zM205.1 378.4l-2.4 -2.4l-0.8 4.7l3.5 -0.2l1.6 -0.8zM200.3 453.7l3.4 -0.4l1.9 0.2l1.4 5.4l-3.0 2.3l-4.2 -6.9zM132.2 469.3l3.3 0.5l0.8 1.3l-0.9 4.1l-2.2 -0.5l-0.9 -3.9zM173.6 477.4l0.0 0.5l5.8 -3.6l2.4 -4.3l-2.2 -1.2l-0.8 -0.2l-1.9 0.3zM139.8 390.8l2.5 1.4l0.7 -0.5l7.1 -6.1l-2.4 -3.6l-4.3 -0.9zM74.2 360.8l-2.2 -2.2l0.3 -0.1l2.9 -2.5l1.6 2.2zM77.6 309.1l-0.1 2.5l0.1 3.4l5.0 -2.5l1.2 -2.9l-0.4 -2.4zM217.0 318.7l4.1 -0.1l3.6 -1.8l-2.8 -4.6l-2.5 0.3zM144.2 343.9l-0.5 -1.5l-0.7 -2.3l-2.4 0.6l-3.7 0.1l0.1 3.6l2.2 0.6l0.8 2.4l3.5 -0.8zM102.1 345.0l-0.7 -4.2l-2.1 -0.0l-2.3 2.6l4.0 2.6zM196.9 369.0l5.4 -1.7l-0.3 -2.2l-4.4 -0.1l-1.8 2.1l1.1 1.0zM131.2 353.7l0.7 2.1l4.1 0.2l-4.0 5.9l-1.7 0.8l-2.0 -1.6l-0.9 -2.4l0.4 -3.3zM189.1 375.0l0.2 1.7l1.4 0.1l-4.4 6.0l-4.5 -5.4l5.0 -1.9zM105.6 325.9l-1.7 -0.9l-3.9 -1.4l-1.4 2.2l-0.1 2.3l1.3 1.9l4.5 -0.3l1.2 -1.9zM220.9 328.0l1.8 0.2l4.3 -0.8l-4.8 8.7l-0.6 -0.1l-2.0 -3.7zM206.3 363.4l-2.6 -0.3l-2.0 -6.9l3.2 2.2l2.5 3.2zM108.8 419.7l2.3 2.8l-2.1 2.2l-2.4 -1.3l-1.5 -3.9zM179.0 317.5l-4.0 1.0l-1.1 1.1l2.8 2.7l1.8 1.9l3.2 -0.7l-0.7 -3.6l1.1 -0.7zM75.8 399.9l-0.6 3.4l-2.8 2.1l-1.1 -0.2l-1.5 -4.4l1.0 -1.1l2.6 -0.1z"/>
<path fill="rgb(126,126,126)" d="M152.0 408.7l-5.0 -1.7l0.3 -1.1l1.2 -2.7l6.1 -2.3l1.4 3.5l0.1 3.9zM164.5 368.4l-1.8 1.8l-3.3 -0.5l-1.2 -2.0l1.5 -4.5l0.6 0.1l4.7 2.8zM206.1 390.6l1.0 3.2l2.4 0.4l2.1 2.0l1.3 0.8l-0.8 -5.2l-5.8 -1.4zM221.7 336.5l0.5 -0.1l12.7 6.6l-10.6 3.5l-2.6 -2.0l-0.7 -4.7zM127.3 425.3l-0.1 3.7l-4.5 -1.0l-1.7 -2.0l2.2 -2.6zM185.9 444.3l-1.8 -5.6l0.5 -5.4l1.9 -0.2l2.7 2.4l0.2 5.2l-3.0 3.7zM157.2 435.4l-0.4 3.8l0.8 0.4l-2.5 4.0l-0.6 -2.1l-3.6 -0.2l-1.1 -3.7zM66.2 407.7l1.0 -0.6l0.3 7.0l-1.4 1.1l-2.3 2.0l-2.0 -3.4l1.8 -5.3zM98.3 449.7l1.1 -6.3l-1.1 0.8l-1.4 -0.9l-1.0 4.5l2.2 4.2zM108.6 441.1l-2.8 1.3l-2.0 0.9l0.1 1.8l3.8 -0.9l2.0 -2.3zM204.1 345.0l-0.4 -6.2l2.3 4.9l0.7 1.4l-1.5 -1.1zM89.0 320.7l2.0 -2.8l-5.2 -0.4l-2.1 2.1l-0.1 2.2l3.6 1.0l1.3 -0.5l2.7 -1.1zM108.3 370.3l-0.6 -4.6l1.7 -3.0l8.4 3.7l0.4 1.4l0.9 2.0l-2.9 0.6zM140.4 450.3l-4.3 -3.4l-2.5 -2.6l3.1 -1.4l3.5 -1.2l3.6 2.6l-2.1 5.8zM170.1 416.8l0.6 -0.1l-4.8 -7.5l-6.0 1.3l1.4 2.7zM206.1 436.9l-1.0 -3.7l-3.2 -0.2l1.0 2.3l0.0 1.9l1.5 1.4zM87.4 343.6l-1.0 -0.4l2.6 -6.6l2.9 0.1l0.7 0.5l-0.3 3.7zM97.5 434.3l1.6 0.7l2.9 -0.8l2.0 -3.5l-2.1 -3.1l-3.7 -2.7l-2.4 -0.0l-1.7 3.4zM96.5 404.5l-1.6 -2.7l-0.6 -2.9l4.7 -2.5l3.1 0.7l0.7 4.1l-0.4 2.1zM215.3 463.6l-3.6 -4.7l4.1 -4.4l6.3 6.3zM199.9 338.3l1.5 -1.7l2.9 -0.6l-0.0 -2.5l-1.4 -1.3l-7.9 2.0l-0.3 0.6l1.0 0.5zM130.4 322.5l0.8 0.8l3.4 2.2l-1.3 -9.0l-3.2 0.6l0.6 1.9zM59.0 445.7l4.8 -0.1l2.1 0.7l-1.5 -4.0l-2.2 -0.3zM187.8 312.3l0.4 1.0l-0.9 2.1l-1.6 -0.9l-1.4 -1.3zM70.9 359.1l-2.9 -1.1l0.8 4.2l1.1 1.6l1.2 -4.8zM191.8 386.5l3.1 -5.2l0.0 -2.3l-3.6 -1.8l-4.5 5.9l-0.2 1.5l2.2 0.8zM61.7 363.1l4.2 2.5l0.4 2.7l-1.8 2.2l-2.3 0.0l-1.6 -5.1zM66.5 447.6l1.8 1.5l0.2 4.6l-1.8 1.3l-3.7 -1.8l2.9 -3.3zM101.7 453.4l3.1 -1.1l1.3 0.6l4.1 4.0l-1.6 2.7l-2.1 4.6l-3.2 -0.4zM64.7 428.5l3.7 0.3l0.8 3.7l-2.4 3.1l-2.5 -2.1zM176.0 344.0l-2.4 5.4l-1.2 -1.1l-3.2 -0.4l0.5 -3.9l2.5 -3.0l2.0 -0.5zM134.2 381.5l2.6 -3.2l-0.7 -0.3l-6.6 -2.9l-2.7 -1.9l1.4 5.8l3.2 0.6l0.9 0.7zM201.5 430.0l0.9 1.4l2.8 0.5l2.1 -1.8l-0.2 -0.3l-3.2 -1.3zM80.2 469.7l-3.1 3.3l1.1 0.1l2.3 2.5l0.7 -0.9l0.5 -5.4l-0.9 -0.8zM159.1 377.0l1.9 4.5l3.3 -5.0l-0.1 -2.4l-6.3 2.0zM72.9 397.6l-0.2 -3.6l-1.4 0.1l-2.3 2.9l1.7 1.4zM164.2 351.1l0.2 5.9l-0.6 0.3l-5.1 -4.3l2.0 -4.1l1.8 0.1zM177.0 358.0l-3.8 2.8l7.1 5.4l1.8 -3.9l-0.7 -2.6zM126.5 319.7l2.5 -0.7l0.7 3.4zM67.3 460.8l-1.6 -4.5l-2.8 -2.9l-7.9 -0.0l-4.8 1.3l7.9 6.5l5.0 1.5zM119.0 409.2l-3.1 2.8l-0.4 0.9l1.2 1.3l2.3 -1.4l-0.1 -3.0zM99.4 320.8l-5.1 0.6l-2.2 -0.2l6.4 4.3l1.4 -2.2zM129.0 395.5l2.1 1.6l0.5 0.5l-1.3 2.7l-6.3 1.6l-0.9 -0.9l0.6 -2.1zM143.0 329.5l-4.4 -4.6l-2.3 1.8l1.0 4.0l2.2 -1.2l2.8 2.1zM120.3 394.4l-2.0 -1.8l-5.4 5.1l1.3 0.0l1.7 3.0l4.7 -3.8zM137.0 378.2l2.8 -0.6l0.1 -3.4l-0.9 -3.3l-2.1 -0.3l0.1 6.9zM193.4 316.5l1.8 -0.9l-1.2 2.3l-2.1 1.3l-0.9 -4.5zM116.4 358.4l-0.9 -0.5l-5.8 3.4l-0.2 1.2l8.5 3.2l0.1 -4.6zM100.5 337.9l0.9 2.3l-2.0 -0.8l-1.0 -2.3l0.8 -2.5l3.4 2.0zM117.4 319.0l-4.7 1.4l-0.9 -0.9l4.8 -5.4l2.0 2.9zM128.0 348.2l2.3 1.2l0.4 -3.2l-2.3 -3.1l-0.4 1.6zM68.4 414.4l0.0 1.6l1.6 2.1l5.3 -3.5l-2.3 -4.2l-2.9 2.0zM113.8 322.3l-1.7 -0.9l0.8 -0.2l4.5 -1.2l1.1 0.6l-1.6 2.9zM221.7 369.0l-1.4 -3.6l-2.7 0.2l-1.4 2.2l1.8 3.8zM128.5 342.8l0.8 -1.5l2.3 -3.1l0.5 0.0l4.2 2.5l-0.8 3.4l-3.6 0.9zM198.6 353.8l3.6 -7.7l0.8 1.3l0.9 2.0l3.1 4.3l-3.6 -1.0l-1.8 3.3l-0.2 -2.3zM139.8 370.3l2.3 -0.0l3.6 -0.4l-3.5 0.6zM154.1 330.0l-0.4 0.3l-2.0 -1.5l-1.9 -1.3l4.4 0.6zM156.6 375.0l-1.8 1.1l-3.1 -6.9l5.6 -0.9l1.0 2.5l-0.8 4.9zM213.6 359.3l-1.9 2.2l1.2 1.8l1.0 3.8l0.9 -0.4l2.4 -1.3l-1.7 -6.5zM108.3 336.7l0.3 -0.2l2.6 0.8l-0.5 2.1l-3.2 -0.4l-0.2 -1.6zM135.2 327.0l1.9 3.8l-5.0 7.0l-0.5 -0.0l-1.6 -3.3l5.2 -7.6zM132.5 362.1l4.1 2.9l2.4 -1.8l5.0 -3.2l-1.3 -2.0l-3.7 -1.6l-2.6 -0.3zM204.6 448.8l-1.9 -1.6l3.7 -1.8l2.4 2.0l-2.7 4.4l-1.8 -0.6zM71.2 357.7l-2.9 -0.3l-0.7 -1.3l1.6 -0.1l5.4 -3.1l0.5 2.8zM184.3 390.4l-2.4 3.5l-1.5 -1.0l-2.4 -0.6l3.5 -4.2l4.4 -3.0l0.7 2.4zM180.8 311.9l-1.6 5.4l3.0 1.8l-0.3 -3.5l0.7 -1.6zM181.5 453.2l0.3 5.7l-2.0 -1.5l-1.9 0.2l-0.2 -3.8l0.9 -0.3l1.7 -0.7zM183.2 460.5l-3.3 7.0l-0.9 -0.1l1.0 -4.2l-0.1 -2.4l1.7 -1.6zM89.3 385.9l-4.1 -2.4l4.1 -5.3l0.6 0.1l1.9 0.5l-0.1 3.5zM161.7 455.2l3.4 -3.7l-3.0 -3.2l-0.8 -0.8l-1.7 1.0l-1.2 4.7l1.0 1.4zM200.0 358.5l1.5 -2.3l1.5 7.0l-1.0 1.6l-4.0 -2.2l-0.9 -2.4zM68.8 396.9l-3.3 -2.0l-0.4 -1.1l4.6 -0.4l1.2 0.4zM106.4 328.3l-1.5 1.7l0.9 1.1l1.7 1.7l0.9 -0.0l2.4 -0.6l-0.3 -1.3l-1.2 -2.5zM141.5 426.9l-2.2 0.4l-3.3 -1.0l-0.0 -3.2l1.6 -1.4l2.7 -0.0l2.5 1.9z"/>
<path fill="rgb(132,132,132)" d="M86.3 429.2l-2.0 -3.8l-6.8 -0.3l-0.1 0.2l0.6 5.4l2.7 0.3l4.3 -1.3zM170.0 387.5l-2.3 -2.1l2.2 -6.7l2.3 1.6l0.2 3.6zM116.4 313.7l-0.6 -0.8l-6.7 -5.2l-2.9 6.1l0.3 1.7l1.4 1.6l3.2 1.8zM185.8 333.1l4.0 -1.3l2.9 2.9l-1.1 0.3l-0.8 1.5l-4.4 0.1zM205.5 313.0l-1.8 -2.9l-0.9 -0.7l-5.0 -0.3l1.5 3.4zM144.4 454.6l-2.0 3.9l3.6 -1.2l0.6 -3.1l-0.7 -1.3l-1.3 0.7zM221.7 386.1l-2.5 0.2l0.4 7.0l1.9 0.7l2.4 -3.7l-1.9 -3.8zM211.4 327.9l2.4 -0.9l2.6 -1.4l-1.0 -3.6l-5.0 1.3zM93.9 451.3l4.1 0.8l-2.6 -3.8l-2.8 0.4l-2.2 -0.1l0.7 4.2zM110.5 413.4l-2.2 1.1l1.6 2.3l1.6 -0.3l-0.3 -2.4zM65.4 333.1l-2.3 -1.1l-4.4 2.4l1.6 5.1l2.3 1.6l3.1 -2.4l0.7 -2.2zM114.0 428.4l-3.6 0.1l-1.2 -3.7l2.2 -2.2l3.2 0.9l0.8 1.5l-2.4 1.3zM167.5 358.9l3.6 2.2l-0.7 2.8l-5.4 2.1l-4.4 -3.4l3.3 -5.0l0.6 -0.2zM203.3 463.2l1.0 -1.5l2.8 -2.6l3.5 0.5l4.5 4.2l-2.2 3.3l-3.2 5.0l-2.5 -1.9l-3.3 -4.8zM197.5 325.1l-1.4 0.8l1.2 0.9l4.7 1.8l0.5 -2.9l-2.7 -1.5zM89.4 355.0l-2.6 -3.0l-3.6 -0.4l-1.2 6.7l1.6 0.7l4.7 -3.7zM82.1 409.7l-0.6 0.8l-3.2 0.4l0.0 -1.9l0.7 -0.3l1.8 -0.6zM125.5 333.0l3.3 2.2l2.5 2.7l-3.1 2.6l-4.2 -1.3l-1.4 -4.9l0.1 -0.0zM179.5 345.7l-2.4 -1.2l-1.9 5.7l1.9 2.4l4.5 -1.5l-0.5 -2.3zM161.2 447.1l-2.0 -0.4l-4.0 -2.9l3.9 -3.0l3.4 1.6zM211.0 420.6l5.4 -2.7l1.1 1.1l-1.6 5.4l-2.2 1.2l-2.4 -1.4zM88.8 348.7l0.1 2.1l1.5 3.7l5.5 -1.1l0.5 -1.0l1.3 -0.6l-4.4 -3.8zM178.6 337.1l-3.9 3.1l2.9 2.8l2.3 0.4l1.1 -0.1l2.1 -2.0l-2.6 -0.6zM202.8 463.2l-6.0 -0.6l-2.9 2.7l1.3 3.9l0.4 0.9l7.2 -4.7zM166.9 441.7l-1.8 0.6l-2.4 0.1l-2.3 -2.6l1.1 -0.3l2.8 -1.4zM122.8 460.2l-4.5 4.5l-3.4 -2.9l4.5 -5.3zM194.7 427.9l0.7 -2.5l-2.1 0.5l-1.0 -0.7l-3.9 4.0l-1.8 3.7l2.9 2.2l1.7 -0.4l3.5 -3.5l-0.6 -2.6zM90.9 452.9l-0.8 -4.2l-3.0 -1.0l-4.0 1.8l1.8 5.9l2.1 0.6zM163.2 466.9l3.3 0.7l-0.9 1.7l0.9 6.9l-5.1 -7.7l0.9 -0.0zM115.2 452.4l-4.8 4.4l-3.1 -5.1l2.9 -3.0l3.3 -0.6zM118.8 409.0l-3.6 2.3l-1.8 -2.6l2.0 0.1zM198.6 427.0l5.8 -2.8l-0.8 4.0l-3.2 0.7l-0.8 -1.7zM134.6 314.8l2.0 -1.3l-1.5 -3.8l-1.6 0.6l-4.0 -1.2l-1.2 1.0zM184.8 318.0l2.5 -2.4l1.0 4.2l-4.7 -1.0l-1.2 0.3zM99.4 395.0l-2.3 -4.0l3.0 -2.2l4.6 0.4l0.1 3.5l-2.8 4.2zM92.4 317.0l-0.9 0.7l2.7 1.4l5.2 1.3l1.2 -2.5l-1.9 -1.2zM97.3 459.4l-2.3 -2.0l1.9 -2.9l1.2 -2.1l-0.7 2.1l2.3 -1.6zM165.2 332.0l4.1 -2.2l0.7 1.2l1.9 8.3l-4.9 -5.3zM151.3 454.7l1.5 -4.1l4.9 3.0l0.0 1.9l-2.7 1.7l-0.6 -0.6zM83.3 463.8l-2.4 3.5l-0.3 -1.2l-1.6 -0.3l-1.4 -2.2l5.7 -3.7zM159.8 333.8l-0.8 4.7l-4.4 -3.6l1.6 -2.0zM102.5 463.6l0.8 0.1l-2.3 -10.0l-1.1 -0.7l-2.3 6.7l0.7 1.8l1.2 0.3zM96.3 471.3l-1.3 1.4l4.8 2.9l-1.5 -4.4z"/>
<path fill="rgb(138,138,138)" d="M156.5 343.8l-0.8 1.5l-0.9 3.7l-3.5 1.4l0.6 -4.3l2.9 -1.8zM176.8 353.0l-0.2 4.7l-3.5 3.0l-1.1 -0.2l-2.6 -3.1l3.4 -4.0l1.0 -1.2zM172.3 428.6l-3.6 0.2l0.8 5.0l4.1 1.3l1.3 -0.4l0.7 -0.6zM157.6 353.5l-2.9 3.9l0.4 2.8l4.3 2.4l0.4 -0.5l3.8 -4.7l-5.1 -4.4zM188.4 407.1l-1.8 0.1l-2.1 4.0l3.2 -1.4l1.6 0.5zM89.1 356.7l0.6 4.1l-3.8 3.6l-1.7 -0.7l-0.6 -0.9l0.8 -1.9zM93.8 398.8l-2.7 -2.2l-1.9 -1.7l-2.0 5.0l3.5 2.5l1.0 -1.8zM143.3 393.0l9.0 1.8l-5.9 3.9l-2.7 -2.7l-1.3 -3.1zM142.9 459.9l0.8 2.0l5.8 1.3l0.1 -1.0l-3.6 -4.6l-3.5 1.6zM145.0 336.6l-1.0 -3.6l1.5 1.6l1.5 0.5zM174.4 467.9l-2.7 -3.4l-0.1 -0.5l2.1 -1.5l1.1 3.0l3.5 2.1l-1.7 1.0zM179.3 425.9l0.2 4.9l-3.4 3.0l-3.1 -5.9l3.3 -4.7zM156.0 332.7l-1.6 2.0l-1.9 -0.2l-0.3 -1.9l1.6 -2.1l0.6 0.2l1.4 1.4zM119.7 403.3l3.3 -2.0l1.0 0.7l-0.2 2.0l0.5 1.4l-0.9 1.4l-2.0 0.2zM108.8 358.5l0.7 2.5l5.9 -3.2l-1.8 -2.7l-2.7 -0.3zM116.6 341.1l-1.2 -2.6l0.3 -1.1l1.9 1.6l-1.0 1.0zM213.2 340.6l1.0 -1.6l-1.8 -0.8l-3.1 -0.2l1.8 2.1zM160.9 328.7l-0.2 -3.6l-1.6 -1.5l-2.2 0.4l-0.6 3.0l2.0 2.2zM120.1 386.2l1.5 -2.7l-2.0 -4.3l-5.5 0.9l0.6 3.7l4.2 3.4zM162.7 331.3l-2.8 2.3l-3.6 -0.9l0.2 -0.8l1.9 -2.2l2.5 0.4z"/>
<path fill="rgb(144,144,144)" d="M174.8 442.9l2.4 -2.6l-0.9 -0.7l-1.1 -3.8l-1.3 0.2l-1.2 3.8l-2.7 1.9l2.6 -0.8zM77.4 404.8l-1.7 -1.4l1.3 -3.4l3.1 -1.7l2.3 1.8l-0.4 3.7l-0.1 0.7zM92.5 329.1l5.0 -1.2l0.8 -2.2l-6.6 -4.1l0.3 4.0l-0.5 2.6zM190.1 370.3l-2.8 -2.3l-1.2 2.7l0.9 1.1l2.1 2.3zM70.6 347.5l1.5 -1.1l1.9 -3.6l-0.4 -2.1l-3.8 1.0zM88.6 436.4l-1.8 2.8l0.7 2.1l-5.6 -1.5l0.7 -2.9l3.1 -1.6zM80.8 440.8l1.0 -0.9l5.6 1.7l-1.4 4.2l-3.8 2.1l-2.0 -1.6zM218.7 373.3l0.9 -0.2l2.8 -3.4l2.5 0.5l3.0 3.4l-0.5 1.5zM97.9 373.7l-1.2 0.7l-1.0 2.2l4.2 6.0l1.8 -1.3l-1.0 -2.1zM131.0 407.6l1.6 1.2l0.5 3.3l-2.3 1.2l-2.5 -2.2l-4.2 -2.9zM126.2 392.4l-2.0 -1.7l-3.9 -3.9l-1.3 0.6l-0.7 2.8l-0.0 2.2l2.0 1.8zM214.4 391.2l2.4 -5.2l2.4 0.3l0.5 7.0l-1.8 -0.1zM100.0 452.5l0.2 -2.2l-0.6 -6.8l2.6 1.4l1.5 0.4l0.1 5.6l-2.7 1.4zM81.3 360.9l2.2 1.9l-7.7 1.2l0.7 -1.1l-0.5 -0.7l2.2 -2.9l2.7 0.2zM78.3 389.4l1.4 -5.5l0.1 -0.8l5.2 0.5l2.6 3.7l0.1 0.7l-2.0 1.7l-4.3 1.8zM114.1 379.9l-1.7 -1.8l4.3 -6.5l2.4 -1.8l2.5 2.6l-2.1 6.6z"/>
<path fill="rgb(150,150,150)" d="M192.3 393.1l-3.5 -0.9l1.9 -2.0l-1.7 -2.5l2.9 -0.9l4.6 4.3zM216.2 396.6l3.3 4.1l1.7 1.8l2.3 -3.7l-2.0 -4.4l-1.9 -0.8l-1.6 0.7zM104.3 357.0l-3.9 5.9l0.9 1.6l5.7 0.5l2.3 -2.5l-0.4 -1.2l-1.6 -1.8z"/>
<path fill="rgb(156,156,156)" d="M175.9 324.3l-1.2 3.6l2.0 1.4l1.7 -4.6zM87.3 405.7l2.9 -2.5l-0.3 -0.1l-3.1 -2.7l-4.2 -0.3l0.2 3.8z"/>
<path fill="rgb(210,210,210)" d="M217.1 438.7l5.9 -3.6l1.5 7.6l-4.3 2.5l-1.9 2.0zM167.0 376.6l-0.9 2.0l-4.9 3.0l0.1 1.8l6.4 1.9l2.2 -6.8z"/>
<path fill="rgb(216,216,216)" d="M102.5 346.2l-0.3 2.4l1.5 -1.8l1.2 2.8l-2.0 4.3l-3.7 -2.1l-1.2 -0.0l3.1 -5.4z"/>
<path fill="rgb(222,222,222)" d="M209.1 329.6l2.2 -1.4l1.4 1.4l1.2 1.8l-1.1 2.7l-1.9 -3.4zM86.4 335.2l-1.0 -3.1l-1.6 -0.6l-2.2 4.4l2.9 -0.2zM85.2 462.5l4.1 4.2l1.6 -1.0l-0.3 -5.3l-3.7 -3.7l-2.0 1.1l-0.8 -0.7l-0.7 2.8zM206.5 363.5l1.0 1.7l3.1 -1.9l0.8 -1.8l-3.9 0.3zM145.9 444.4l2.2 4.4l3.7 -0.5l-0.4 -3.4l-1.5 -2.3zM205.8 390.6l-5.2 0.1l-0.9 2.3l-1.6 4.0l2.7 2.9l1.5 0.2l3.7 -6.2z"/>
</g></g>
<rect x="66.50" y="317.05" width="150.30" height="150.30" fill="none" stroke="#000" stroke-width="1.09"/>
<g stroke="#000" stroke-width="1.09">
<line x1="66.50" y1="467.35" x2="66.50" y2="472.12"/>
<line x1="61.73" y1="467.35" x2="66.50" y2="467.35"/>
<line x1="141.65" y1="467.35" x2="141.65" y2="472.12"/>
<line x1="61.73" y1="392.20" x2="66.50" y2="392.20"/>
<line x1="216.80" y1="467.35" x2="216.80" y2="472.12"/>
<line x1="61.73" y1="317.05" x2="66.50" y2="317.05"/>
</g>
<text x="51.31" y="491.35" font-size="20.0" textLength="30.38" lengthAdjust="spacingAndGlyphs">0.0</text>
<text x="26.52" y="474.65" font-size="20.0" textLength="30.38" lengthAdjust="spacingAndGlyphs">0.0</text>
<text x="126.46" y="491.35" font-size="20.0" textLength="30.38" lengthAdjust="spacingAndGlyphs">0.5</text>
<text x="26.52" y="399.50" font-size="20.0" textLength="30.38" lengthAdjust="spacingAndGlyphs">0.5</text>
<text x="201.61" y="491.35" font-size="20.0" textLength="30.38" lengthAdjust="spacingAndGlyphs">1.0</text>
<text x="26.52" y="324.35" font-size="20.0" textLength="30.38" lengthAdjust="spacingAndGlyphs">1.0</text>
<text x="110.96" y="514.75" font-size="20.0" textLength="61.39" lengthAdjust="spacingAndGlyphs">x (cm)</text>
<text transform="translate(18.10,392.20) rotate(-90)" x="-30.05" y="0" font-size="20.0" textLength="60.11" lengthAdjust="spacingAndGlyphs">z (cm)</text>
<g fill="#1f77b4" fill-opacity="0.70">
<path d="M320.67 470.80h1.07v-1.36h-1.07z"/>
<path d="M322.81 470.80h1.07v-1.99h-1.07z"/>
<path d="M324.95 470.80h1.07v-2.86h-1.07z"/>
<path d="M326.02 470.80h1.07v-4.23h-1.07z"/>
<path d="M328.16 470.80h1.07v-6.12h-1.07z"/>
<path d="M330.29 470.80h1.07v-8.57h-1.07z"/>
<path d="M332.43 470.80h1.07v-10.82h-1.07z"/>
<path d="M334.57 470.80h1.07v-14.76h-1.07z"/>
<path d="M335.64 470.80h1.07v-18.29h-1.07z"/>
<path d="M337.78 470.80h1.07v-23.58h-1.07z"/>
<path d="M339.92 470.80h1.07v-30.33h-1.07z"/>
<path d="M342.06 470.80h1.07v-37.16h-1.07z"/>
<path d="M343.13 470.80h1.07v-49.28h-1.07z"/>
<path d="M345.27 470.80h1.07v-59.79h-1.07z"/>
<path d="M347.41 470.80h1.07v-69.95h-1.07z"/>
<path d="M349.55 470.80h1.07v-82.54h-1.07z"/>
<path d="M351.69 470.80h1.07v-94.34h-1.07z"/>
<path d="M352.76 470.80h1.07v-104.52h-1.07z"/>
<path d="M354.90 470.80h1.07v-118.08h-1.07z"/>
<path d="M357.03 470.80h1.07v-126.34h-1.07z"/>
<path d="M359.17 470.80h1.07v-133.32h-1.07z"/>
<path d="M360.24 470.80h1.07v-144.03h-1.07z"/>
<path d="M362.38 470.80h1.07v-147.25h-1.07z"/>
<path d="M364.52 470.80h1.07v-149.40h-1.07z"/>
<path d="M366.66 470.80h1.07v-148.84h-1.07z"/>
<path d="M368.80 470.80h1.07v-146.46h-1.07z"/>
<path d="M369.87 470.80h1.07v-141.38h-1.07z"/>
<path d="M372.01 470.80h1.07v-134.92h-1.07z"/>
<path d="M374.15 470.80h1.07v-128.36h-1.07z"/>
<path d="M376.29 470.80h1.07v-123.65h-1.07z"/>
<path d="M377.36 470.80h1.07v-112.43h-1.07z"/>
<path d="M379.50 470.80h1.07v-105.54h-1.07z"/>
<path d="M381.64 470.80h1.07v-97.04h-1.07z"/>
<path d="M383.77 470.80h1.07v-90.53h-1.07z"/>
<path d="M385.91 470.80h1.07v-85.85h-1.07z"/>
<path d="M386.98 470.80h1.07v-80.31h-1.07z"/>
<path d="M389.12 470.80h1.07v-74.72h-1.07z"/>
<path d="M391.26 470.80h1.07v-67.80h-1.07z"/>
<path d="M393.40 470.80h1.07v-63.27h-1.07z"/>
<path d="M394.47 470.80h1.07v-61.42h-1.07z"/>
<path d="M396.61 470.80h1.07v-57.22h-1.07z"/>
<path d="M398.75 470.80h1.07v-52.92h-1.07z"/>
<path d="M400.89 470.80h1.07v-51.02h-1.07z"/>
<path d="M403.03 470.80h1.07v-46.02h-1.07z"/>
<path d="M404.10 470.80h1.07v-40.95h-1.07z"/>
<path d="M406.24 470.80h1.07v-35.50h-1.07z"/>
<path d="M408.38 470.80h1.07v-27.92h-1.07z"/>
<path d="M410.51 470.80h1.07v-22.51h-1.07z"/>
<path d="M411.58 470.80h1.07v-17.04h-1.07z"/>
<path d="M413.72 470.80h1.07v-12.65h-1.07z"/>
<path d="M415.86 470.80h1.07v-8.37h-1.07z"/>
<path d="M418.00 470.80h1.07v-5.48h-1.07z"/>
<path d="M420.14 470.80h1.07v-3.05h-1.07z"/>
<path d="M421.21 470.80h1.07v-1.57h-1.07z"/>
<path d="M423.35 470.80h1.07v-0.94h-1.07z"/>
</g>
<line x1="387.90" y1="313.60" x2="387.90" y2="470.80" stroke="#ff0000" stroke-width="2.2"/>
<rect x="293.50" y="313.60" width="150.60" height="157.20" fill="none" stroke="#000" stroke-width="1.09"/>
<g stroke="#000" stroke-width="1.09">
<line x1="315.56" y1="470.80" x2="315.56" y2="475.57"/>
<line x1="363.10" y1="470.80" x2="363.10" y2="475.57"/>
<line x1="410.63" y1="470.80" x2="410.63" y2="475.57"/>
<line x1="288.73" y1="470.80" x2="293.50" y2="470.80"/>
<line x1="288.73" y1="422.20" x2="293.50" y2="422.20"/>
<line x1="288.73" y1="373.60" x2="293.50" y2="373.60"/>
<line x1="288.73" y1="325.00" x2="293.50" y2="325.00"/>
</g>
<text x="297.33" y="494.80" font-size="20.0" textLength="36.46" lengthAdjust="spacingAndGlyphs">125</text>
<text x="344.87" y="494.80" font-size="20.0" textLength="36.46" lengthAdjust="spacingAndGlyphs">150</text>
<text x="392.41" y="494.80" font-size="20.0" textLength="36.46" lengthAdjust="spacingAndGlyphs">175</text>
<text x="271.75" y="478.10" font-size="20.0" textLength="12.15" lengthAdjust="spacingAndGlyphs">0</text>
<text x="235.29" y="429.50" font-size="20.0" textLength="48.61" lengthAdjust="spacingAndGlyphs">5000</text>
<text x="223.14" y="380.90" font-size="20.0" textLength="60.76" lengthAdjust="spacingAndGlyphs">10000</text>
<text x="223.14" y="332.30" font-size="20.0" textLength="60.76" lengthAdjust="spacingAndGlyphs">15000</text>
<text x="322.70" y="518.20" font-size="20.0" textLength="92.20" lengthAdjust="spacingAndGlyphs">grayscale</text>
<use href="#og2" x="453.70" y="0.00" filter="url(#th2)"/>
<rect x="520.20" y="317.05" width="150.30" height="150.30" fill="none" stroke="#000" stroke-width="1.09"/>
<g stroke="#000" stroke-width="1.09">
<line x1="520.20" y1="467.35" x2="520.20" y2="472.12"/>
<line x1="515.43" y1="467.35" x2="520.20" y2="467.35"/>
<line x1="595.35" y1="467.35" x2="595.35" y2="472.12"/>
<line x1="515.43" y1="392.20" x2="520.20" y2="392.20"/>
<line x1="670.50" y1="467.35" x2="670.50" y2="472.12"/>
<line x1="515.43" y1="317.05" x2="520.20" y2="317.05"/>
</g>
<text x="505.01" y="491.35" font-size="20.0" textLength="30.38" lengthAdjust="spacingAndGlyphs">0.0</text>
<text x="480.22" y="474.65" font-size="20.0" textLength="30.38" lengthAdjust="spacingAndGlyphs">0.0</text>
<text x="580.16" y="491.35" font-size="20.0" textLength="30.38" lengthAdjust="spacingAndGlyphs">0.5</text>
<text x="480.22" y="399.50" font-size="20.0" textLength="30.38" lengthAdjust="spacingAndGlyphs">0.5</text>
<text x="655.31" y="491.35" font-size="20.0" textLength="30.38" lengthAdjust="spacingAndGlyphs">1.0</text>
<text x="480.22" y="324.35" font-size="20.0" textLength="30.38" lengthAdjust="spacingAndGlyphs">1.0</text>
<text x="564.66" y="514.75" font-size="20.0" textLength="61.39" lengthAdjust="spacingAndGlyphs">x (cm)</text>
<text transform="translate(471.80,392.20) rotate(-90)" x="-30.05" y="0" font-size="20.0" textLength="60.11" lengthAdjust="spacingAndGlyphs">z (cm)</text>
<text x="97.43" y="308.75" font-size="23.5" textLength="88.44" lengthAdjust="spacingAndGlyphs">Original</text>
<text x="310.18" y="305.30" font-size="23.5" textLength="117.24" lengthAdjust="spacingAndGlyphs">Histogram</text>
<text x="525.54" y="308.75" font-size="23.5" textLength="139.63" lengthAdjust="spacingAndGlyphs">Thresholded</text>
<text class="pl" y="290.50"><tspan x="6.17" font-size="28.0">(</tspan><tspan x="15.31" font-size="25.0">d</tspan><tspan x="28.24" font-size="28.0">)</tspan></text>
<text class="pl" y="290.50"><tspan x="264.37" font-size="28.0">(</tspan><tspan x="273.21" font-size="25.0">e</tspan><tspan x="283.94" font-size="28.0">)</tspan></text>
<text class="pl" y="290.50"><tspan x="484.57" font-size="28.0">(</tspan><tspan x="492.86" font-size="25.0">f</tspan><tspan x="500.94" font-size="28.0">)</tspan></text>
<clipPath id="cp3"><rect x="66.50" y="585.20" width="150.30" height="150.30"/></clipPath>
<g id="og3" clip-path="url(#cp3)"><g filter="url(#nz3)">
<rect x="64.50" y="583.20" width="154.30" height="154.30" fill="rgb(180,180,180)"/>
<path fill="rgb(42,42,42)" d="M115.1 735.4l2.7 1.1l0.5 -0.4l0.4 4.0l-2.2 0.8l-3.4 -1.4z"/>
<path fill="rgb(54,54,54)" d="M116.8 644.0l3.1 -5.7l-1.5 -2.3l-5.5 1.7l-5.4 7.8l3.5 0.8zM70.0 739.3l1.7 -3.1l-2.2 -1.6l-3.6 2.5l0.8 1.3l2.1 0.3z"/>
<path fill="rgb(60,60,60)" d="M209.8 736.1l4.2 -5.8l3.8 2.4l-1.1 4.1l-5.4 2.1zM216.5 647.7l-2.5 -7.1l1.6 -0.5l3.3 6.6zM173.1 722.7l1.9 -3.2l3.2 2.2l-3.5 3.0zM91.2 621.8l1.3 -3.4l5.8 1.0l0.0 1.8l-3.2 3.0z"/>
<path fill="rgb(66,66,66)" d="M207.8 720.6l0.9 -4.2l1.8 -1.8l-0.4 -1.0l-8.3 -0.5l-0.2 -0.1l-2.7 8.0l1.7 1.9zM131.7 621.8l-1.5 1.0l2.0 4.0l4.9 1.0l0.2 -6.4zM130.3 585.1l3.7 2.1l-2.5 1.4l-3.6 -1.1l-1.7 -1.9l1.6 0.4z"/>
<path fill="rgb(72,72,72)" d="M186.3 710.6l2.2 -0.1l-0.3 5.7l-2.9 0.0l-3.2 -2.5l0.3 -0.6zM94.7 729.7l1.0 -3.3l-4.5 2.8l-0.1 3.1l4.1 2.5l0.3 -0.6zM96.2 712.4l1.0 -3.1l2.9 -0.7l1.0 6.3l-3.5 -1.0zM70.1 589.6l-2.2 -3.9l-5.1 -0.9l-2.7 1.4l5.5 7.4l3.1 -2.1zM166.0 590.8l-1.8 -6.1l-4.5 0.9l-2.8 2.0l0.9 6.7l4.4 1.2zM91.0 720.8l-3.6 2.4l2.5 1.4l0.4 2.4l4.9 -1.7l-1.5 -2.4l-0.7 -0.6zM176.9 580.7l-0.2 4.3l2.9 0.2l3.2 -3.4l-4.6 -1.9zM172.0 620.0l3.3 -4.9l-4.7 -1.2l-1.7 -1.5l-0.6 4.4zM176.6 632.3l-3.6 3.2l-2.3 -4.0l-0.5 -2.5l2.4 -1.6l4.1 0.4zM193.6 594.4l-0.8 3.6l3.5 1.6l3.0 -0.6l-2.9 -4.3z"/>
<path fill="rgb(78,78,78)" d="M82.5 712.3l1.7 -3.9l-3.2 -4.8l-7.4 -0.7l-1.3 2.9l-0.4 3.5l5.7 7.6l1.1 -0.2zM102.5 727.5l2.6 -3.4l2.7 1.3l1.4 -0.1l0.8 2.1l-4.5 3.8l-0.0 -0.9l-1.8 -1.0zM130.5 578.1l3.3 -0.1l4.4 2.0l-2.2 2.8l1.0 3.4l-2.3 0.4l-1.8 -3.6zM75.6 586.6l-1.4 -3.4l-2.5 -0.6l-2.9 2.8l1.9 4.1l4.4 -0.6zM212.7 665.8l2.3 -3.9l8.4 0.7l2.8 8.4l-1.6 1.9l-3.6 4.0l-2.8 -0.1zM149.1 640.5l-0.2 -0.1l-0.7 -2.3l1.5 2.3zM183.6 692.1l1.1 -6.6l8.5 0.1l-1.2 3.3l0.4 2.7l-3.7 -0.4zM223.5 709.0l-1.4 -7.7l-4.7 1.3l1.3 3.6zM92.9 599.1l2.9 4.5l-0.5 3.0l-5.0 -1.0l1.6 -6.4zM177.5 596.1l4.4 -1.5l2.4 -2.6l0.6 4.3l-1.6 3.2l-4.0 -2.6zM211.4 680.3l0.4 3.2l-3.3 4.3l-2.6 -0.3l-0.4 -2.4l3.6 -4.2zM191.1 593.5l-0.7 -2.9l-2.6 0.4l-2.6 0.9l2.4 3.7l3.0 3.0l0.0 -1.4zM211.2 678.2l1.7 -0.6l-5.4 -7.7l-0.1 2.5l-0.7 2.9z"/>
<path fill="rgb(84,84,84)" d="M110.4 731.1l1.3 -2.6l-0.9 -0.1l-4.9 3.2l3.5 0.9zM98.0 585.1l-3.6 4.5l1.2 -0.1l4.9 -1.8l1.3 -2.2l-1.9 -0.7zM166.4 712.3l3.8 -1.0l2.6 3.8l0.2 0.8l-9.1 3.2l0.1 -2.0zM94.3 705.3l1.0 -3.7l-2.1 -0.9l-2.7 -0.7l0.5 6.1zM179.5 665.3l1.6 0.1l4.0 -1.3l2.3 2.1l-1.7 4.3l-3.3 3.8l-2.7 -4.6zM188.8 601.6l1.7 -2.9l-4.0 -0.5l-2.6 1.7l1.8 0.2zM150.2 613.2l0.3 1.4l-4.9 1.7l-4.5 1.3l0.5 -3.1l4.4 -1.6zM98.9 615.8l-0.5 3.2l-5.8 -0.8l0.8 -2.7l3.2 -2.7zM213.5 677.2l2.8 -0.0l1.9 -0.3l-6.1 -10.5l-4.0 1.6l-0.3 1.7zM186.6 608.7l0.5 5.5l-5.6 1.5l-0.2 -0.3l1.8 -7.9zM139.5 597.6l1.1 -2.5l-3.6 -8.5l-2.1 1.4l-1.2 2.4l-0.4 5.4zM176.7 704.4l-2.7 1.8l0.0 0.7l2.5 1.0l2.4 -0.8l1.3 0.1zM143.9 575.4l4.8 4.5l-2.9 5.7l-4.2 -3.2l-2.9 -2.4z"/>
<path fill="rgb(90,90,90)" d="M56.4 706.4l3.4 0.9l3.4 -2.6l-4.7 -4.7l-2.4 4.5zM165.3 686.8l-7.3 -2.4l4.8 -6.4l0.8 0.8l1.5 3.5zM132.1 647.1l-7.3 2.6l0.1 1.6l1.9 1.8l7.5 -0.7l3.0 0.0l-2.2 -1.2l1.5 -2.6zM86.7 692.3l-4.6 -3.7l-2.0 3.1l3.0 0.9l3.9 0.4zM150.0 653.6l-3.3 1.7l-1.9 2.6l-5.6 -4.9l2.4 0.2l4.6 -1.9zM186.3 657.0l1.5 -3.3l2.0 1.2l2.7 -0.4l0.5 3.2l-3.6 6.6l-1.3 0.9l-2.1 -2.6zM112.3 727.0l-0.3 -2.0l3.1 -3.5l3.8 6.2l-0.3 0.4l-6.1 -0.4zM190.6 615.5l2.4 4.1l-0.7 5.3l-0.7 0.6l-1.7 0.5l-7.5 -2.4l-0.8 -7.1l6.0 -1.6zM188.4 604.4l-3.3 -1.1l0.7 -0.9l3.0 -0.6zM178.1 694.7l1.9 4.7l3.4 -0.4l-0.3 -6.6l-3.3 1.7zM173.3 695.4l4.6 -0.9l0.4 -1.6l-3.6 -3.6l-0.9 -2.3l-5.4 2.8l0.2 1.1l4.4 1.2zM189.7 695.0l3.0 -2.9l1.5 5.3l-1.3 2.8l-3.8 -1.6zM203.4 733.3l-6.0 0.1l-1.2 -2.1l5.4 -3.3l2.0 2.5zM196.2 690.5l7.0 -0.4l0.3 5.0l-2.5 2.3l-5.5 -0.6l-2.6 -5.0zM132.0 614.2l4.9 -2.3l-0.3 -0.9l-1.4 -3.8l-3.0 0.7l-4.1 4.3zM182.3 603.3l-1.2 1.0l-3.3 0.9l-0.2 -2.2l-1.8 -1.0l2.7 -1.6l4.6 -0.1l-1.3 1.6zM191.0 678.7l-9.2 -0.9l1.2 -2.7l3.6 -2.6l5.5 2.8zM157.4 683.9l5.4 -6.0l-2.1 -6.8l-2.0 -0.4l-0.6 0.7l-2.9 8.5l1.1 4.0zM160.9 617.1l-1.6 0.1l-1.4 -0.6l1.0 -3.7l2.7 0.5zM106.2 671.1l1.9 2.7l6.7 -6.8l-1.9 -0.4l-4.4 -5.3l-1.2 -0.3l-3.8 2.8zM196.6 651.8l0.7 -5.3l-3.7 0.0l-1.9 5.5l1.0 2.1zM135.5 636.5l2.8 -3.7l0.2 -2.2l-1.4 -1.4l-5.0 -0.7l-2.8 2.0l-1.9 2.9l0.4 2.6l3.8 2.5zM193.6 591.7l-2.7 -1.5l3.7 -0.1l2.6 -1.0l-1.2 2.9zM134.2 660.1l-0.3 -4.4l-7.1 -2.5l2.7 3.7l1.0 2.7zM145.9 605.5l-2.0 -0.5l-4.6 5.8l0.1 0.9l1.2 1.0l3.9 -2.1zM91.0 743.9l7.3 17.6l5.2 -16.5l-3.5 -6.1l-3.5 0.8zM81.8 614.8l2.4 1.1l0.1 2.4l-3.2 3.2l-2.3 -5.6zM154.9 704.3l-3.1 5.7l-3.9 -1.4l-1.6 -2.6l5.2 -4.5zM123.4 658.6l-1.2 0.1l-1.4 -2.3l4.0 -4.9l1.9 1.8l-0.6 3.4zM86.5 631.8l-6.3 5.2l-3.7 0.7l3.1 -10.1l5.5 2.6zM84.6 735.9l5.1 -1.7l5.1 1.3l-2.9 1.2l-1.9 6.2l-4.5 -3.2l-0.2 -3.2zM213.7 607.2l-0.7 -2.4l1.3 -3.2l4.6 1.2l0.7 -0.0l-2.4 2.0zM223.3 709.7l-6.0 -0.7l-5.2 1.4l-1.2 2.7l0.6 1.0l11.1 0.6l-0.8 -4.2zM153.6 689.0l-0.8 -1.3l-7.0 -2.3l-1.7 3.3l3.5 4.1l-0.2 2.2zM101.6 706.1l-1.5 1.9l-2.4 -1.1l-1.7 -0.8l0.2 -4.2l5.7 0.9zM178.8 641.9l3.2 0.8l1.7 1.3l0.0 3.1l-3.8 -2.9zM63.2 738.9l1.1 -1.7l-5.5 -6.7l-0.7 1.1l-4.9 19.2l8.2 -7.9zM101.0 692.3l3.3 0.7l6.8 -8.9l-1.8 -0.9l-11.2 -3.7l-0.9 1.2l-0.6 1.0l1.2 6.4zM211.3 739.1l-0.6 2.4l0.9 1.2l7.0 2.5l-0.1 -0.8l2.4 -1.1l-3.9 -5.4zM174.3 655.4l-4.5 2.8l0.5 -1.2l-1.4 -10.1l0.6 -1.6l4.9 2.4l1.2 4.4l-0.3 2.4z"/>
<path fill="rgb(96,96,96)" d="M69.6 620.5l2.0 -1.4l-1.5 -1.6l-4.9 -1.9l1.4 3.5zM162.9 698.3l2.3 -2.9l1.9 -3.6l-0.1 4.2l0.6 4.4l-4.4 -1.9zM213.6 689.9l2.6 -3.7l-0.4 -1.7l-3.2 -0.6l-3.8 4.1zM151.4 613.1l0.0 1.3l2.4 2.4l1.2 -1.4l3.4 -2.9l-2.6 -0.3l-3.8 0.6zM177.9 641.8l-5.3 -3.6l-3.4 4.4l0.3 2.5l4.9 2.3l2.2 -3.2zM206.0 600.8l4.7 -3.2l3.1 3.8l-2.7 2.7l-5.1 0.6zM86.4 587.7l-1.4 2.6l-2.4 -4.4l-0.8 -5.1l4.4 0.6zM98.8 670.7l-4.1 -2.0l1.3 -3.3l3.2 -1.6l3.4 0.2zM144.9 642.8l-1.0 -1.3l2.1 1.5l0.2 0.1l2.9 2.3l-2.1 -0.1l-4.0 -2.0zM89.8 691.3l3.9 6.3l7.2 -5.2l-4.4 -2.9l-6.2 1.0zM68.3 724.8l0.5 -3.1l-3.6 -6.3l-1.7 -0.4l0.0 0.3l-2.5 7.4l1.7 2.3l4.0 -0.3zM102.8 730.2l1.1 2.1l-3.8 6.1l-1.0 -3.9l-3.1 0.8l0.3 -0.5zM199.9 616.4l3.7 2.4l2.9 -3.6l-7.1 -2.1zM70.5 625.8l0.9 3.1l5.3 -2.6l-4.6 -5.7l-2.5 0.6l-2.8 6.3zM158.5 717.2l-4.9 -2.8l-0.1 0.2l2.1 12.5l5.8 -1.0l2.7 -3.3l-0.4 -3.8l-1.4 -1.2zM78.4 727.1l-2.2 -0.1l-7.6 -2.1l2.1 -2.9l6.8 -4.6l0.9 0.8l1.2 2.5zM63.0 709.6l-1.5 2.4l2.1 2.1l1.7 -0.6l5.7 -4.2l-0.1 -3.5l-7.1 -0.7zM66.7 627.3l2.7 -6.4l-3.9 -0.3l-4.1 3.8l1.4 1.2zM161.5 612.8l-2.6 -0.7l0.3 -2.1l-2.0 -5.3l8.0 0.9l0.4 4.4zM119.8 736.0l-0.9 4.2l3.0 0.5l4.9 -1.5l-3.6 -2.5zM174.0 686.4l2.8 -1.8l4.8 -1.9l-1.6 -2.8l-6.0 -1.2zM108.4 586.3l0.2 -1.5l-6.0 0.8l1.6 2.3l0.3 0.4l0.7 1.6zM85.0 602.3l0.6 1.6l1.6 -0.5l1.7 2.1l1.7 -6.5l-2.5 -1.9zM205.9 605.2l5.2 0.8l1.4 1.9l-3.2 2.3l-0.5 0.5l-0.7 -2.0zM124.6 586.0l-4.8 -2.8l-2.1 4.5l3.0 5.6l2.2 0.7l2.3 -5.5zM90.8 706.2l-1.9 1.0l-4.2 0.8l-3.3 -4.7l3.6 -0.7l2.8 -3.0l2.4 0.4zM217.1 621.5l2.2 3.8l5.0 -0.3l1.5 -4.8l-7.5 -1.9zM186.4 633.1l2.3 -4.9l-6.4 -4.4l-3.4 3.6l2.6 4.4l2.2 1.9zM146.5 666.4l9.6 -0.8l-1.5 -3.5l-4.9 -1.2l-3.6 -0.7l0.1 1.3zM84.0 607.8l0.9 2.0l0.5 1.6l-0.3 1.4l-3.1 0.9l-1.5 -5.6zM160.5 704.1l1.0 1.5l2.3 0.2l0.8 -2.5l1.8 -1.0l0.6 -0.3l-4.0 -2.8zM75.5 680.6l-4.0 4.7l-11.2 -0.0l0.1 -0.4l6.6 -8.1l5.9 -2.6l1.4 0.7zM215.5 648.2l-3.7 3.7l-2.7 -9.1l1.0 -1.8l3.8 -0.3zM105.4 629.9l-3.3 -2.8l-5.9 2.8l-1.4 4.5l5.0 2.4l6.5 -6.3zM151.5 611.7l4.5 -2.8l1.0 -4.3l-3.4 -3.2l-1.8 1.2zM109.5 587.2l-3.7 3.2l1.2 1.6l4.1 0.7l1.6 -3.9zM166.1 686.8l-0.6 -4.4l5.1 -2.4l-3.2 7.9zM125.4 731.2l2.0 -3.0l2.0 -2.4l-5.5 0.4l-3.4 1.6zM132.1 614.8l5.5 -1.0l0.9 1.4l1.8 2.5l-2.7 2.3l-5.7 0.2l-0.5 -0.4zM158.0 692.8l-3.3 -3.9l0.8 -1.5l1.3 -1.7l1.1 -0.3l7.1 2.4l1.1 1.4l0.6 0.2l-0.3 1.0l-4.2 0.5zM132.4 602.7l-4.0 -2.1l-0.3 -0.3l4.7 -2.6l6.7 0.1l-0.7 2.3l-3.5 6.9zM140.4 675.2l1.1 3.4l-6.2 1.8l0.1 -1.9l-1.2 -4.1l5.6 -0.2zM182.0 636.4l-2.4 1.6l-1.2 3.2l-5.5 -3.3l1.4 -0.6l4.2 -0.5zM66.0 660.1l0.3 -0.9l-7.0 -5.7l-0.9 2.6l3.1 2.6zM165.1 640.0l1.5 -0.1l1.6 1.4l3.9 -3.6l-0.9 -0.5l-1.1 -5.3l-4.3 3.6zM210.5 679.0l-4.0 -2.8l-1.3 1.0l3.9 3.4l1.9 -1.3zM177.0 704.0l3.4 3.0l1.5 -1.8l-2.6 -3.2l-1.1 0.7z"/>
<path fill="rgb(102,102,102)" d="M69.1 632.1l2.3 -3.0l1.6 9.9l-1.4 0.1l-3.3 -0.0l-1.8 -4.9zM157.0 703.4l-1.6 -0.0l-3.7 -2.1l-0.9 -2.2l5.6 -2.7l-0.7 3.4zM171.1 592.5l-3.9 8.3l-4.4 -4.9l3.8 -4.3zM127.6 599.5l-4.0 -5.1l3.6 -4.7l4.5 0.8l0.1 5.4zM77.1 653.9l-0.3 -2.6l-3.7 2.8l0.9 2.1zM163.9 678.4l-0.9 -0.6l-1.9 -6.9l6.5 0.8l1.2 0.6l3.5 5.5l-0.9 0.4zM64.8 629.9l1.5 4.2l-3.1 -3.2l-2.7 0.5l2.1 -4.2l4.1 0.4zM64.4 598.1l-0.3 -0.6l-2.0 2.3l-1.2 2.5l3.7 1.8zM168.0 688.1l-0.1 0.7l5.7 -2.3l0.1 -7.8l-1.3 -0.7l-0.8 0.7l-0.8 1.5zM79.5 661.0l1.9 2.4l4.7 -2.6l-1.4 -1.7l-3.2 1.4zM128.0 577.5l1.6 0.5l-5.2 4.6l0.5 1.6l-5.1 -1.3l-0.5 -1.7l2.3 -0.7zM87.7 661.6l0.6 7.7l2.7 1.3l1.3 -2.3l2.1 -3.1l-3.9 -4.2zM183.3 692.4l0.2 -0.1l3.0 2.7l0.4 3.3l-1.3 1.6l-1.7 -1.0zM201.1 701.8l-0.2 -3.6l-5.4 0.1l-0.9 3.0l-0.2 1.7l4.8 0.7zM145.9 706.0l-4.5 -2.1l-3.2 4.5l3.5 4.2l4.6 -3.8zM113.1 700.9l2.1 0.2l5.9 2.3l3.4 3.9l-7.1 1.3l-0.7 -3.3zM95.8 590.7l5.1 -0.6l0.5 0.6l-2.3 2.1l-1.6 0.6zM83.0 736.8l-0.0 3.2l-4.1 4.4l-2.6 -1.8l0.6 -5.6l0.1 -3.3zM155.5 644.6l-2.7 1.2l-3.5 -0.4l3.0 -1.9l0.1 -0.7l1.5 -1.8zM66.7 726.7l-3.8 1.2l-3.5 2.0l5.7 6.2l4.3 -2.0zM122.4 628.2l4.8 5.1l0.9 -3.3l-3.9 -5.3zM147.3 709.9l-4.8 3.7l1.1 1.3l1.2 4.4l8.3 -4.9l0.2 -0.2l-2.6 -1.6zM113.0 588.9l4.4 -1.1l2.6 5.9l-6.3 3.7l-2.0 -4.5zM73.1 599.4l0.7 -2.4l-4.3 -3.7l-3.5 1.0l0.2 2.1l0.5 0.6l6.7 3.4zM113.7 603.8l1.5 -0.7l7.7 0.6l-1.5 4.2l-4.5 3.5l-0.8 -1.5zM140.8 618.1l-1.8 3.5l-0.6 6.3l1.0 1.7l4.9 -0.9l1.6 -5.9l-3.0 0.1zM89.5 691.2l-2.2 0.4l-4.4 -3.9l-1.1 -1.1l6.3 -0.1l1.8 3.9zM113.5 603.8l-3.4 3.5l-1.0 3.2l5.9 -0.2zM204.9 675.7l0.3 -3.2l-3.9 2.4l-1.6 4.4l3.0 -1.1l2.1 -1.1zM64.7 664.4l-0.3 2.5l7.1 2.2l1.1 -6.4l-4.7 -2.2l-0.0 1.1l-0.9 -0.2zM188.6 633.9l3.6 5.5l5.5 -3.6l1.5 -1.2l-6.6 -6.5l-1.6 0.9zM194.6 658.5l-4.0 6.5l4.5 0.8l3.8 -3.3l0.2 -1.0l-1.0 -1.6zM102.1 727.7l-2.7 1.8l-3.4 4.8l6.6 -4.7zM106.0 628.2l-3.8 -1.3l-0.5 -4.5l3.9 -1.1zM156.7 587.6l-9.1 0.7l-0.9 5.3l6.2 2.3l2.2 -1.2zM135.5 607.1l4.5 -5.9l3.3 3.1l-4.9 5.6zM145.7 681.1l4.8 -1.9l3.3 1.6l1.0 3.7l-1.6 1.3l-7.2 -0.9zM193.1 740.5l-1.2 -3.4l-3.8 4.3l-1.1 2.1l3.0 2.3l3.9 -2.6l3.2 -2.9zM79.2 654.5l5.6 -1.7l-0.0 5.3l-3.1 -1.8zM110.9 585.4l-1.0 -1.1l0.3 -0.5l2.8 -1.6l6.0 -1.0l0.5 1.7l-2.2 4.4l-4.4 1.0zM215.9 622.1l-3.2 -0.3l-1.0 1.7l5.1 3.4l1.3 -1.2zM161.5 627.8l0.1 2.6l1.3 -1.6l1.0 -0.2l-0.4 -2.9zM151.7 623.4l-4.1 0.0l-2.4 5.5l4.2 1.0l2.9 0.8l0.0 -6.8zM96.8 719.6l0.2 1.1l6.2 0.3l-0.5 -4.5l-1.6 -1.5l-2.0 3.4zM146.4 672.2l0.9 1.4l-2.7 6.2l-2.6 -1.4l-0.3 -3.4zM170.9 624.9l-0.1 1.0l-0.8 2.8l-2.9 -2.1l-3.3 -0.9l1.6 -0.8l-0.2 -2.4zM172.5 620.4l3.7 -4.4l1.3 -0.3l2.7 0.9l0.4 0.1l1.5 7.0l-4.6 1.7l-4.4 -0.5l-0.6 -0.7zM224.4 625.4l3.7 7.3l-5.9 2.0l-2.2 0.8l-3.9 -4.7l1.9 -2.5l1.3 -1.2zM178.8 646.4l-4.3 1.1l2.5 3.6l6.7 -3.2l-0.1 -0.8zM163.4 631.9l2.5 -0.8l0.2 -0.4l3.8 -1.8l-0.1 2.6l-4.6 1.6zM156.1 730.7l-3.8 -0.2l1.2 9.3l10.8 3.7l0.7 -4.7l-1.8 -8.4l-1.9 -0.6zM174.0 604.4l0.6 -2.0l-7.0 -0.4l-2.2 3.7l1.7 3.9l1.5 0.3l1.4 -0.9z"/>
<path fill="rgb(108,108,108)" d="M117.4 716.7l4.1 2.0l8.0 -1.8l-0.0 -7.3l-0.7 -0.6l-3.7 -0.5l-5.7 3.2l-2.1 2.8zM106.3 612.1l2.5 -1.6l-0.8 -3.1l-2.1 0.2l-1.6 0.9zM80.6 602.1l-6.1 -1.3l-0.9 -0.1l-1.1 5.8l0.7 1.8l6.4 -1.0l1.7 -2.4l-0.7 -2.0zM216.5 614.4l1.9 3.7l7.5 1.9l4.2 -5.1l-9.2 -4.7zM190.0 666.8l-1.6 -0.5l-0.7 4.5l4.7 4.2l3.7 -3.3l-1.8 -4.5zM134.7 741.5l2.9 -6.6l2.9 -1.4l6.9 12.2l-0.5 0.4l-5.7 1.5l-2.3 -0.2l-2.3 -2.3zM149.2 645.7l-1.4 1.2l-1.2 3.9l3.5 2.7l-0.1 -3.7l1.7 -1.8zM118.4 731.0l0.4 -2.7l0.6 -0.1l0.5 0.3l4.2 3.7l-2.4 -0.3l-2.4 2.4l0.1 -0.6zM124.3 723.1l5.5 1.5l1.7 -2.3l-1.6 -3.8l-0.1 -0.4l-8.0 1.0zM196.7 733.6l-1.5 -1.7l-1.2 -0.5l-2.5 0.8l0.8 4.1l2.5 -1.5zM210.0 696.5l-5.9 -1.3l-0.7 -5.0l2.5 -2.0l2.6 0.1l4.4 2.8l1.5 3.0l-1.8 4.4zM181.4 607.3l-3.6 -1.9l0.2 9.0l2.8 0.9l2.2 -7.7zM171.2 592.6l1.0 3.4l4.1 0.4l-2.0 1.5l0.4 3.4l-7.0 0.0l-0.1 -0.4zM80.9 683.9l4.4 -0.1l2.7 -0.3l0.1 2.7l-6.2 0.3zM84.3 591.1l0.4 -0.7l-4.5 -1.8l-3.1 -1.2l-1.5 1.8l1.9 4.4l3.5 -0.1zM145.9 587.9l0.3 5.5l-4.6 1.2l-4.5 -8.2l3.8 0.3l4.6 0.1zM206.3 704.1l-4.9 2.8l-0.1 -2.3l0.2 -2.6l7.2 1.2zM80.5 684.1l-4.8 -3.3l-3.5 5.1l2.5 6.7l4.0 -1.9l1.3 -3.4l1.5 -0.6zM142.8 643.5l3.7 3.0l-0.4 4.3l-5.2 -1.1l-2.5 -1.4zM191.2 732.2l-3.5 -0.5l-2.0 2.3l-1.1 5.3l2.1 0.1l4.9 -2.8zM156.5 646.2l-2.3 1.6l-0.0 2.4l6.0 2.7l-2.1 -6.3zM80.8 600.2l-6.2 -0.7l0.2 -2.4l2.7 -3.2l3.5 -0.2zM157.9 623.4l-4.9 0.7l0.7 6.7l0.5 1.2l1.7 -2.9l1.8 -2.5zM140.6 713.6l-3.5 -4.3l-7.3 0.4l1.1 7.2l0.3 0.3l8.2 -2.2zM68.2 640.5l3.3 0.2l0.5 7.4l-3.5 1.7l-4.3 -0.0l4.0 -9.3zM113.4 603.6l-1.4 -1.7l0.6 -2.1l-6.9 0.9l2.5 2.3l1.0 2.6zM90.0 681.9l5.3 -0.9l0.4 -1.1l-4.3 -4.8l-5.1 3.6l3.5 0.9zM214.0 640.4l-3.8 0.3l-1.0 -7.4l3.2 0.3l3.3 -2.5l2.5 5.7l-2.7 3.0zM209.2 736.4l-3.5 0.5l-3.6 2.8l3.4 2.4l4.8 -0.8l0.7 -2.3zM102.1 727.3l1.6 -3.9l-0.5 -1.7l-5.9 1.4l-0.6 2.3l2.9 -0.9zM66.1 676.2l-6.4 -4.5l-0.5 -1.2l-4.0 3.6l4.8 10.5zM135.9 687.2l-6.6 2.7l-0.3 -1.6l-4.4 -5.3l3.5 -2.5l4.1 1.3l2.0 -0.2zM213.3 680.2l0.4 -1.1l2.5 -0.9l-0.5 6.0l-3.1 -1.4l0.2 -2.9zM196.8 686.9l6.4 3.0l2.2 -2.3l-0.2 -2.4l-3.6 -3.5l-2.2 -1.8l-4.1 3.2l-1.4 2.0zM111.5 683.9l-0.5 -1.7l-2.6 -8.0l6.7 -6.9l3.9 5.0l-1.0 8.9l-3.6 1.7zM117.0 717.0l-2.2 3.8l-3.5 2.1l-0.6 -1.0l-1.0 -5.9l6.2 -0.6zM132.4 677.8l-4.3 2.5l-1.1 -10.4l4.5 1.6l2.1 2.8zM93.4 710.5l2.2 -2.2l-1.4 -0.9l-3.1 -1.0l-1.5 1.3l3.0 3.4zM76.5 664.3l4.2 0.3l-1.5 4.9l-0.2 2.7l-4.0 1.4l-1.2 -0.9l-1.7 -3.4l1.0 -6.4l1.5 0.6zM89.6 691.4l-1.5 1.8l-0.8 -0.1l0.8 5.7l2.2 0.7l1.2 -2.5l2.1 0.7zM200.1 634.9l4.3 -2.8l4.6 1.2l1.0 7.4l-1.9 0.9l-4.8 0.6l-1.7 -5.1zM105.7 615.6l1.3 2.9l-1.9 1.3l-3.4 2.3l-2.1 -1.3l-0.8 -1.6l0.4 -3.3zM198.5 609.9l0.9 2.8l7.1 2.4l-0.9 -2.4l-1.9 -1.6zM154.1 653.8l6.0 -0.5l0.7 0.5l-2.7 1.9l-1.9 4.8l-2.5 -4.4l-3.4 -2.4zM135.9 687.4l-6.2 3.3l0.6 2.8l6.6 1.9l1.0 -6.2zM170.1 664.6l-0.2 -6.2l5.0 -0.9l3.8 5.9l0.1 1.3zM145.8 638.3l-2.0 2.7l-0.8 -4.2l4.4 -1.0l0.5 2.2zM151.2 701.2l-5.2 4.6l-4.1 -3.0l-1.1 -2.4l5.6 -1.4l0.6 -2.2l3.5 2.2zM78.5 627.1l-1.5 -0.6l-5.3 2.6l1.8 9.9l0.2 0.1l2.7 -1.3l3.1 -10.1zM73.8 639.4l6.1 7.0l4.2 -0.9l-0.9 -2.7l-3.3 -3.5l-3.4 -1.3zM187.9 589.4l0.1 -7.9l3.3 -1.0l-0.9 5.2l0.2 4.2zM215.3 589.6l-1.8 -1.0l-4.2 -1.2l0.6 -4.8l2.3 -1.0l3.3 -3.1l4.2 4.9l-2.6 5.5zM124.7 651.3l-4.2 4.9l-6.4 -3.5l-2.3 -4.0l6.3 -1.8l6.5 2.9zM184.6 683.9l-2.0 -1.3l0.7 -3.2l-1.5 -1.4l8.9 2.4l2.0 2.2l0.5 2.5zM175.1 702.7l1.4 -0.2l-0.1 1.4l-2.4 2.1l-1.1 -2.4z"/>
<path fill="rgb(114,114,114)" d="M180.0 708.8l1.8 4.2l0.1 0.7l-4.6 -0.6l-0.6 -4.2zM107.4 628.3l-0.6 -7.1l1.3 -1.9l5.9 1.0l0.1 2.1l-3.4 5.6l-1.8 2.1l-0.9 -0.9zM129.8 620.3l-0.1 0.5l0.2 2.0l-5.6 1.1l-2.4 -5.4l2.2 -1.2zM222.7 715.1l0.5 1.5l-3.0 4.6l-3.3 0.7l-3.4 -5.2l-1.9 -2.1zM176.5 586.1l-1.2 1.1l-0.2 3.4l1.8 5.0l1.9 -5.6l0.5 -2.9zM65.0 593.9l-1.3 1.5l-4.1 -1.2l-6.2 -1.3l5.5 -6.3l1.0 -0.3zM161.4 705.8l-1.4 7.4l3.0 3.2l3.1 -4.2l-2.4 -5.8zM124.3 624.6l4.3 5.0l2.4 -2.3l-0.9 -4.4l-5.6 1.1zM180.6 707.3l1.2 0.2l0.4 5.4l3.1 -4.5l-0.2 -1.8l-0.5 -0.8l-2.5 -0.1zM92.8 580.7l1.2 2.3l1.7 1.0l-1.4 5.6l-3.3 -1.3zM203.6 621.2l1.9 3.2l-1.5 3.2l-5.3 -2.9zM206.4 650.6l-2.5 1.4l-2.2 -7.1l1.5 -2.0l5.1 0.2l3.0 9.1l-0.8 2.0zM189.7 606.8l5.1 1.0l-0.4 1.1l-3.7 5.8l-2.9 -0.7l-0.8 -5.4zM209.5 582.1l-7.2 -4.2l3.2 -1.5l4.8 1.9l-1.2 0.8zM145.1 668.4l-4.5 0.5l-0.1 4.6l0.9 0.8l5.0 -2.2zM62.7 665.3l0.8 1.9l-3.5 1.9l-0.9 1.2l-0.4 -4.0l1.7 -2.8l0.7 0.1zM158.8 635.2l-2.1 -0.0l-2.3 -2.8l3.5 -0.5l3.4 -1.1l-2.1 1.9l2.9 -0.4zM193.4 730.4l0.3 -5.8l-6.7 0.6l1.3 5.1l3.0 1.6zM93.3 715.0l0.9 1.5l-0.5 1.9l-2.4 0.8l-1.1 -3.2l2.4 -1.6zM115.5 684.5l3.1 -2.3l4.7 1.2l3.3 5.8l-7.4 1.6zM166.2 666.8l-5.2 3.5l-1.9 -0.8l-2.7 -3.9l1.5 -3.1l4.5 -3.0l6.3 -0.2l1.0 -0.8l-0.1 6.3zM179.8 692.2l-1.3 -4.4l3.5 -4.6l1.1 2.5l0.2 6.3l-0.2 0.1zM208.7 617.5l-0.4 -0.8l-1.6 -1.4l-2.8 3.6l0.5 1.3l3.3 2.2l1.2 0.7l1.3 -0.7l0.9 -1.8l-0.8 -5.7zM169.8 720.6l-5.5 2.4l-0.3 -3.8l9.3 -2.2l1.1 2.0zM87.2 729.0l-2.9 -0.1l0.3 6.8l4.6 -3.5l-0.6 -2.7zM171.1 592.3l-1.1 -3.1l3.3 -2.6l-5.3 -3.0l-3.6 1.0l2.7 5.8zM204.2 729.7l-2.0 -2.5l-1.5 -4.1l7.1 -1.3l3.0 5.6zM101.8 606.7l-0.7 -2.6l2.2 -2.8l0.2 -1.3l-1.5 1.1l-3.9 3.0l-1.4 3.0l1.1 1.0zM73.3 600.6l-7.4 -2.2l0.4 6.3l0.8 1.8l3.8 -0.4zM164.1 706.2l3.2 -0.1l3.4 2.5l-0.5 2.5l-3.8 0.9zM210.9 727.3l-2.1 -5.8l2.6 -2.9l5.0 3.7l-3.4 5.0zM173.6 696.0l4.4 -1.2l1.6 4.9l-0.7 1.2l-1.5 -0.0l-0.9 -1.1zM174.5 580.7l-4.4 -1.9l-1.1 3.6l5.0 2.6l2.0 0.1zM114.3 732.8l2.8 -2.0l1.4 -2.5l-6.1 0.1l2.4 2.3zM80.7 699.8l0.2 -4.4l-2.1 -2.6l-3.9 0.9l-1.6 3.7l0.4 5.1l7.3 0.7zM218.0 737.2l3.3 5.9l3.9 -0.3l2.1 -3.8l-4.6 -5.8l-1.0 -0.7l-2.6 0.6zM193.7 724.1l-6.8 -0.8l-2.1 -0.4l0.1 -1.2l2.0 -2.3l1.7 -2.6l1.8 0.5l3.8 3.7zM58.6 699.9l0.0 -7.5l12.4 5.4l2.1 4.7l-2.2 2.2l-7.1 -0.4zM88.2 716.4l-4.2 -2.0l-4.4 3.3l1.3 2.4l5.9 2.6l3.3 -2.9zM135.7 636.9l5.4 5.3l1.6 1.1l-5.3 4.0l-2.5 -4.2l-2.7 -3.2zM188.3 605.0l0.1 0.9l-1.8 2.3l-3.5 -0.9l0.6 -1.5l0.8 -1.0zM146.7 603.0l-1.9 -0.1l-3.4 -3.1l-1.7 -2.1l2.5 -1.6l4.3 -2.2l4.4 5.1l2.1 1.7l-1.5 1.6zM76.8 658.6l0.1 -0.9l2.1 -3.2l-1.2 0.4l-3.8 1.5l0.8 4.1zM87.2 618.6l2.3 3.5l1.4 -0.4l1.4 -3.4l-0.8 -2.4l-3.3 -0.3l-1.1 0.4zM158.4 623.4l2.6 1.3l2.4 0.9l-2.6 1.3l-1.7 -1.1l-1.1 -2.4zM108.2 649.4l-1.4 -3.1l-5.2 -1.9l-0.5 1.1l-0.9 9.7l7.0 5.5l1.0 -1.1l-1.0 -7.2zM73.1 660.4l-0.2 2.0l-4.3 -2.9l1.0 -6.0l2.7 1.4l1.5 1.6zM216.4 627.7l-0.7 2.9l-3.4 -1.8l-2.3 -3.6l1.1 -0.9zM201.2 727.2l-5.5 3.3l-1.5 -0.3l0.0 -5.8l3.2 0.7l0.9 -3.3l2.1 1.3zM169.6 725.3l-5.3 -2.2l-0.4 4.5l0.3 1.9l7.2 -1.3l-0.5 -1.6l2.1 -0.3zM105.0 590.9l-1.7 0.8l-0.6 3.3l0.3 2.6l0.7 1.7l2.4 -6.7zM198.7 638.7l4.0 3.8l-1.3 2.1l-3.9 1.1l-3.4 -0.5l-0.6 -2.2l-0.8 -2.8zM90.8 635.0l-5.3 6.2l-4.6 -3.3l5.8 -5.8zM119.2 696.1l4.6 1.8l-1.9 3.0l-6.1 -1.1zM55.6 718.0l5.2 4.4l2.1 -7.4zM136.5 663.3l-2.1 -3.1l3.7 -3.2l0.2 -3.3l4.9 5.5l-0.7 1.1zM150.7 678.6l0.2 -4.2l6.6 -3.2l-3.3 8.4zM80.6 683.7l-4.8 -3.1l-0.3 -5.7l4.1 -1.1l6.3 5.0l-3.5 0.3zM82.5 599.8l-1.3 -6.1l3.5 -2.1l3.4 5.3l-4.9 2.7zM157.8 622.9l-1.4 -2.2l-0.6 -1.8l-1.9 -1.4l-1.5 5.2l0.7 0.5l4.8 -0.1z"/>
<path fill="rgb(120,120,120)" d="M215.9 706.2l1.1 -3.7l-4.4 -3.8l-0.6 3.5l-2.0 0.9l2.2 0.5l-0.7 6.1zM126.4 600.2l-3.5 3.3l-7.0 -2.9l-2.2 -1.3l0.4 -1.1l6.2 -3.8l2.2 0.6l4.1 5.1zM130.2 578.2l0.0 4.2l-3.0 0.8l2.6 -5.0zM106.9 612.9l2.1 -2.1l6.0 0.6l1.5 0.5l-0.2 4.9l-2.4 3.2l-5.5 -2.2l-1.7 -2.8zM183.8 739.3l-8.5 -0.1l2.3 -4.0l2.4 -3.8l4.3 2.4zM212.8 698.6l3.2 -3.8l5.6 -0.4l2.6 2.3l-1.4 0.7l-0.8 3.1l-4.7 1.8zM81.1 621.9l-1.9 4.5l0.5 1.0l5.6 2.1l4.0 -7.0l-4.3 -1.5zM73.2 608.5l0.5 6.2l4.8 1.0l2.5 -1.8l-1.5 -5.6zM208.0 667.7l-7.4 -5.1l-0.4 -1.0l6.7 -3.4l3.8 -2.7l4.1 6.2l-3.4 3.2zM163.3 620.1l-1.3 -0.6l-0.8 1.2l-2.8 2.3l3.8 -1.2l1.9 -0.1zM197.8 602.0l-2.7 5.7l0.9 0.3l2.1 1.1l4.1 -3.2l3.0 -1.1l-2.1 -3.4l-0.7 -2.2l-2.6 0.3zM144.5 681.3l0.7 3.7l-3.0 1.9l-3.2 1.1l-2.9 -0.8l-0.6 -5.8l6.2 -2.4l2.6 1.6zM120.4 656.5l-0.4 3.2l-5.0 4.9l-5.7 -4.3l3.8 -3.3zM186.9 730.4l-1.4 -5.0l-0.9 -2.3l-4.0 5.5l-0.4 2.2l4.6 1.8zM218.1 589.2l2.8 -5.6l2.9 -1.8l1.7 1.4l4.0 5.0l-1.0 2.4l-2.5 0.8zM144.9 667.6l1.2 -1.1l-2.8 -3.8l-6.5 1.4l-0.1 1.8l3.7 2.6zM91.4 635.3l-3.7 8.0l-1.4 2.5l0.9 2.7l4.9 0.9l7.8 -4.8l1.2 -0.6l-3.8 -3.7l-3.5 -4.6zM104.7 577.8l3.7 5.6l0.2 0.6l-6.0 1.1l0.1 -2.2l0.9 -4.4zM199.1 679.3l-4.7 2.0l-0.8 -2.7l-1.0 -3.3l4.1 -2.3l-0.5 2.9zM78.6 616.0l2.2 5.7l-2.2 4.4l-1.6 0.1l-3.4 -6.5l1.8 -1.1l-1.7 -3.6zM119.7 727.1l0.1 -3.9l1.5 -3.8l-3.9 -2.2l-1.7 4.1l3.7 6.2zM124.7 668.3l-4.5 1.5l-4.8 -2.9l1.5 -0.7l4.4 -5.1l0.9 1.2l1.3 2.2zM90.7 660.6l2.9 -4.3l2.6 1.4l2.9 5.6l-3.9 0.6zM169.2 702.9l-0.3 1.6l2.3 3.5l2.5 -1.3l0.0 -0.7l-1.2 -2.4zM187.3 635.3l4.3 4.5l-1.3 2.1l-4.6 0.8l0.9 -3.5l-1.5 -2.1zM100.5 674.3l-2.4 5.0l-1.6 -0.2l-4.1 -4.8l-0.6 -2.3l2.2 -1.0l4.3 1.0zM214.2 601.0l5.0 -0.1l-3.7 -9.9l-1.7 1.2l-2.9 5.2zM168.7 646.9l-0.0 10.4l-4.2 -3.0l-3.4 -0.5zM209.0 680.8l-3.6 4.3l-0.9 -4.5l0.6 -3.2zM73.4 639.7l-0.9 1.0l-0.3 7.4l4.3 0.7l3.2 -2.2l-6.1 -6.9zM91.3 634.2l-4.1 -2.7l-1.1 -1.7l3.5 -7.3l1.5 -0.3l4.0 2.3l0.6 5.3l-2.0 4.2zM198.3 651.6l-0.5 -5.0l3.7 -1.7l1.5 7.2l-3.2 -0.5zM106.7 592.8l-2.7 6.7l1.5 -0.2l6.9 -0.3l0.3 -1.1l-1.6 -4.6zM166.3 616.5l0.8 -4.2l-0.9 -1.3l-4.4 2.1l1.4 3.7l1.5 1.0zM68.1 584.6l3.4 -2.3l-2.3 -6.3l-4.6 0.3l-1.8 7.7zM195.1 656.5l-2.4 -2.1l4.5 -0.9l1.3 0.5l-0.3 5.7zM146.0 668.1l0.6 -1.4l9.6 -1.0l1.9 4.3l-0.7 0.7l-7.0 2.2l-2.4 0.2l-1.4 -1.0zM177.6 605.4l-0.2 8.9l-1.4 -0.0l-3.2 -3.6l2.8 -5.3zM153.2 714.7l-0.3 13.1l-0.9 2.5l-6.8 -2.0l-1.4 -3.2l1.1 -4.5zM71.1 739.8l3.0 -2.1l0.1 0.4l1.6 4.5l-0.1 -0.2zM223.7 599.0l-2.9 2.1l-0.3 -0.6l-4.4 -9.7l1.7 -0.8l6.9 4.2l0.4 0.3zM78.5 727.3l0.1 3.2l-1.3 2.2l6.0 2.5l1.0 0.4l-0.9 -6.7zM109.0 630.4l4.0 3.4l5.4 2.0l-1.3 -4.1l-5.8 -2.5zM120.9 693.3l6.2 -1.9l1.4 -0.3l-0.6 2.9l-0.8 0.9l-2.4 2.1l-4.3 -2.7zM155.4 694.6l0.9 -0.8l-2.2 -4.4l-6.0 6.3l2.6 3.1zM176.2 725.8l2.0 -0.5l1.7 2.8l4.6 -5.0l-0.9 -0.8l-5.0 -0.5zM105.7 612.7l-3.9 -2.3l-3.6 -0.2l-1.6 2.5l2.5 3.0l6.5 -0.8zM47.1 614.5l11.9 -8.3l5.1 -0.1l2.5 0.9l-7.0 4.3l-9.9 4.1zM59.9 585.8l-1.0 -0.1l-3.7 -5.8l5.8 -2.7l3.1 -0.9l-1.9 7.6zM74.3 730.3l-5.8 -5.2l-0.5 1.4l1.8 7.6l3.3 -1.4l-0.0 -0.4l3.0 0.4zM172.6 731.7l-8.5 -1.5l5.1 8.1l4.2 1.9l1.6 -1.0l-0.8 -4.0zM74.2 596.5l-3.6 -4.3l0.1 -2.3l4.3 -0.4l2.3 4.2zM94.1 598.0l3.0 4.8l3.9 -3.7l-3.3 -0.7l-0.7 -1.0zM70.7 740.5l4.7 2.2l-4.5 0.1l-0.6 -1.5zM112.9 700.9l-7.0 -3.2l-0.9 4.7l-1.8 3.5l4.1 2.9l3.6 -3.5zM87.1 693.2l-3.4 2.4l0.2 3.5l3.6 -0.1zM79.2 654.3l5.6 -1.9l1.7 -3.3l-2.4 -1.7l-4.2 -0.6l-2.5 2.7l-0.4 1.6l2.0 1.8zM121.1 629.3l6.0 4.1l-0.6 2.6l-5.7 1.2l-2.2 -1.4l0.5 -3.9l0.9 -3.7zM200.8 707.2l-0.1 4.7l0.1 0.2l-4.3 -2.8l-1.8 -0.4l-1.5 -4.1l1.1 -0.5l5.0 1.5zM213.5 612.2l0.1 -3.8l3.4 1.4l3.7 0.4l-4.5 4.0l-5.1 -0.3zM107.2 631.4l-5.6 7.2l0.0 5.2l5.2 1.4l3.1 -8.9l-1.3 -5.8zM132.0 722.7l11.4 2.5l1.6 3.2l-4.6 4.9l-2.9 1.4l-5.1 -6.0l-1.4 -2.8zM90.0 671.8l0.5 2.3l-4.5 4.5l-5.8 -5.6l4.1 -0.8l2.8 -1.2zM97.9 579.0l5.2 -0.7l-3.4 3.6l-1.8 -0.2l-0.9 -1.6zM158.8 637.7l-2.3 -0.9l-1.3 3.6l2.0 3.6l1.7 0.6l4.2 -3.2l0.7 -0.8zM173.8 707.0l-2.1 2.0l-1.4 2.1l3.9 2.1l0.9 -0.5l0.7 -4.0z"/>
<path fill="rgb(126,126,126)" d="M105.1 722.2l2.8 -0.5l1.2 -5.7l-2.2 0.2l-2.9 0.6l0.2 4.2zM171.5 669.3l5.1 0.4l2.1 -4.5l-8.7 -0.2l0.9 3.3zM128.2 697.6l-3.3 0.8l0.6 4.1l0.0 4.5l3.4 1.4l2.0 -6.7zM59.4 653.3l7.9 4.9l0.4 1.0l0.1 -6.3l-0.5 -0.7l-3.2 -2.1l-2.0 1.4zM195.4 609.6l2.2 0.7l1.0 2.7l-0.5 3.0l-5.0 3.5l-2.1 -4.4zM126.9 669.9l1.1 10.4l-4.0 1.8l-5.1 -1.0l2.0 -8.8l4.7 -1.2zM100.3 645.6l-7.8 4.6l1.5 4.8l2.6 1.0l3.1 -0.8zM76.7 651.2l-0.7 -1.5l-3.9 -1.4l-2.3 2.8l0.4 0.8l2.3 1.5zM104.8 577.6l4.2 5.1l2.4 -2.3l-2.5 -2.7l-2.4 -0.1zM49.9 616.3l11.2 0.6l3.9 -1.3l-0.3 3.6l-3.5 5.0zM129.9 660.3l-2.5 -1.6l-2.5 1.8l1.9 0.2zM155.7 579.1l-6.0 1.1l-2.7 5.8l0.8 1.0l9.0 0.4l0.5 -3.6zM131.4 614.7l-3.7 -1.6l-0.4 0.1l-3.1 3.7l6.0 2.5zM211.8 654.7l0.5 -2.2l4.8 -2.2l2.7 -0.6l0.8 0.1l8.5 5.8l-5.7 5.6l-8.3 0.4zM113.0 700.7l1.0 -2.0l2.8 -4.6l-0.7 -0.9l-2.0 -8.0l-2.8 -0.9l-6.7 9.0l1.3 4.0zM88.1 589.6l-2.9 0.9l-0.0 0.8l3.2 5.4l3.0 0.3l0.9 -0.6l1.2 -2.4l0.4 -3.2l0.4 -1.1l-3.4 -1.1zM179.4 729.0l-2.7 1.0l-1.2 -0.1l0.7 3.3l3.4 -2.2zM63.4 663.6l-1.5 -1.1l-0.2 -1.6l4.2 -0.1zM138.8 632.8l1.0 -2.1l4.7 -0.9l2.2 2.7l0.4 1.8l-4.2 2.1zM215.8 693.5l-1.5 -3.0l3.0 -3.8l5.4 -1.2l-0.1 1.3l-0.9 7.1zM204.5 631.8l4.5 1.3l0.1 -3.2l-0.5 -4.2l-1.2 0.5l-2.6 2.3zM149.1 619.5l-1.4 2.1l3.9 0.9l1.7 -5.2l-2.5 -2.4zM160.0 636.3l2.7 -3.4l0.7 2.6l0.9 4.4zM130.3 695.0l6.4 1.4l0.6 2.4l-5.4 2.0l-1.7 -4.4zM142.3 689.7l1.4 5.5l-3.0 4.9l-1.1 -2.4l-1.2 -2.0l0.5 -6.3zM114.2 622.5l5.4 5.5l-2.1 2.7l-6.0 -2.1zM158.7 627.0l-0.8 2.7l3.3 0.7l-0.7 -2.6zM107.2 709.2l-0.9 4.8l-2.8 1.4l-2.2 -0.6l-0.8 -6.3l2.2 -1.4zM84.5 725.3l-0.8 2.7l-5.1 -0.9l2.0 -6.2l5.8 2.5zM171.7 671.8l0.9 6.0l1.4 0.6l5.6 -1.3l2.0 0.7l0.1 -2.7l-3.8 -2.9zM152.4 739.8l-0.3 -9.2l-6.8 -2.0l-4.5 4.9l7.3 12.0zM210.8 710.2l-2.8 -3.5l-6.6 0.6l0.5 4.8l8.3 0.9zM128.6 735.2l-1.6 3.9l1.5 0.6l5.4 1.2l3.7 -6.1l-7.6 -3.5l-3.4 2.0zM100.7 674.4l-2.5 5.0l11.5 2.9l-1.8 -8.1l-3.0 0.1zM150.6 612.3l-3.0 -2.2l0.1 -4.4l4.0 -2.9l-0.7 9.0zM214.7 728.9l-0.5 -0.9l2.6 -5.4l3.4 -0.1l1.6 1.7l-1.0 6.1l-2.5 0.9zM189.4 604.4l0.6 0.6l5.0 2.6l0.4 -6.3l-3.9 -1.3l-0.7 -1.3l-1.3 3.1zM195.3 575.5l2.0 4.8l4.1 6.6l-3.0 -1.3l-3.2 -1.9l-3.2 -3.7l3.0 -4.5zM192.5 710.4l-0.1 1.8l-1.5 3.0l-2.1 0.9l-0.0 -5.7zM176.0 656.9l4.2 5.6l4.6 0.3l-0.3 -5.9l-7.5 -1.0z"/>
<path fill="rgb(132,132,132)" d="M113.9 733.7l0.6 1.5l-2.0 4.1l-2.9 0.8l1.7 -4.3l1.0 -1.0zM220.3 646.2l0.8 -0.0l-0.1 -4.6l0.7 -1.8l-1.8 -1.4l-4.2 1.6zM130.5 639.8l-3.5 -2.7l-5.7 1.3l-1.6 6.1l5.2 5.0l4.2 -6.4zM145.5 680.4l4.6 -1.7l-0.5 -4.1l-1.9 -0.7l-2.8 6.2zM123.8 616.8l-2.3 0.9l-3.4 -0.9l-1.0 -4.8l4.6 -3.4l4.8 4.3zM87.1 661.6l-0.6 -0.3l-4.5 3.1l1.2 3.9l3.9 0.9zM139.6 673.4l-5.6 0.5l-1.0 -3.7l3.0 -3.6l4.2 2.1zM157.1 703.8l-1.4 0.8l-1.7 6.0l-0.4 3.4l4.0 -1.9l3.7 -6.5l-2.1 -0.7zM109.3 740.2l-2.7 1.1l-2.7 3.3l-3.6 -6.0l4.9 -5.5l0.2 -0.9l1.1 4.8zM135.5 664.2l-1.2 -3.8l-3.7 0.5l-1.4 3.9l-1.7 3.5l-0.5 1.4l4.6 -0.7l3.8 -3.0zM86.0 658.1l0.8 2.2l0.7 0.2l2.9 -0.2l2.3 -4.8l-0.7 -5.3l-4.8 -0.9l-1.8 3.3zM118.5 576.7l-4.7 -4.2l-1.3 3.9l0.9 3.7l5.5 1.0l-1.5 -2.4zM102.7 663.7l-3.2 -0.5l-2.1 -5.8l2.7 -1.8l7.1 5.2l-3.8 2.8zM66.3 634.3l1.2 5.0l0.0 0.0l-6.4 0.1l2.0 -3.8zM188.4 700.8l3.6 1.1l0.8 1.5l0.1 1.2l-5.6 0.2l-1.2 -0.4l0.6 -3.1zM177.3 654.7l0.1 -2.6l6.4 -4.0l3.7 5.4l-2.8 2.2zM165.4 682.2l-1.4 -3.6l7.4 -0.2l-1.1 1.2zM180.0 701.5l0.2 -1.5l3.3 -0.1l1.4 1.2l-0.5 2.9l-2.5 1.2zM194.1 626.3l-0.3 0.9l5.8 7.1l4.6 -2.5l-0.7 -3.5l-5.3 -3.0zM135.8 636.7l2.8 -3.7l4.0 3.8l0.8 4.2l-1.4 -0.6zM208.8 587.3l-4.3 -1.5l-2.9 1.1l-0.4 -6.7l0.7 -1.7l7.5 3.9zM127.5 612.0l0.5 -5.5l-0.8 -5.0l-4.1 2.4l-1.0 4.2l4.8 4.1zM72.5 673.2l-1.1 -3.6l-7.0 -1.8l-3.5 2.8l5.7 5.2zM102.1 700.2l-5.9 0.9l-0.5 -3.0l-1.9 -0.2l7.1 -5.2l3.2 1.0l1.5 3.9zM71.3 696.4l-12.5 -4.6l1.0 -1.3l0.4 -4.9l11.1 0.3l2.4 6.9z"/>
<path fill="rgb(138,138,138)" d="M198.6 592.9l1.7 -2.5l1.2 -3.3l1.6 2.9l-0.6 9.0l-2.6 -0.3zM187.4 706.5l5.5 -1.8l-1.0 3.9l-3.1 1.6l-0.3 -2.0zM114.2 620.3l3.5 -2.0l3.6 0.5l2.9 5.2l-0.2 0.6l-3.6 1.7l-0.5 1.4l-5.6 -5.3zM198.3 720.8l2.4 -7.9l-5.1 0.7l-3.7 2.8l5.0 1.3zM186.2 645.6l4.5 -1.2l1.9 1.6l-3.0 5.4l-1.7 1.9l-3.7 -5.4l-0.0 -0.8zM153.9 632.6l-1.2 0.5l-2.0 1.2l-1.3 0.8l-1.1 2.8l3.7 0.1l1.9 1.5l0.9 -3.6zM209.4 735.8l-2.5 -3.5l-2.3 1.0l0.1 -2.9l6.2 -2.8l1.6 1.3l0.6 0.8zM79.0 579.5l-4.2 3.3l2.1 3.1l2.5 -1.4l1.9 -3.9zM162.7 698.3l-1.5 -3.5l-3.0 -0.4l0.4 0.9l1.0 0.8zM157.3 703.4l2.5 -3.1l2.9 -1.8l-0.0 0.5l-2.9 4.4zM183.0 582.0l1.9 -0.6l2.5 0.0l-0.5 8.0l-2.3 1.4l-0.8 -3.4l-2.7 -1.2zM140.4 703.4l-3.3 4.5l-7.3 1.4l-0.5 -0.7l2.8 -6.6l5.7 -1.2l2.5 -0.3zM171.7 620.5l-4.1 -1.3l-1.8 0.7l-0.5 1.9l5.8 2.4zM164.8 569.4l-7.6 7.3l0.1 1.6l3.1 3.9l4.0 2.2l2.5 -3.0l1.6 -3.5l0.0 -4.2zM217.1 678.4l-1.2 5.9l1.2 1.1l5.5 -0.2l-1.6 -7.8l-2.7 -0.3zM173.1 696.1l0.1 4.3l-0.6 3.1l-3.0 -2.8l-0.6 0.3l2.1 -2.0zM69.9 721.0l-3.7 -6.4l5.2 -4.9l5.9 7.4zM96.4 612.6l-4.1 1.6l-2.8 -2.3l1.2 -2.7l-0.6 -2.1l4.7 1.3l0.7 1.1zM166.8 601.2l0.2 0.3l-1.9 3.9l-8.0 -1.0l-3.1 -3.6l2.4 -1.4l1.4 -2.1l4.3 -0.9zM90.2 690.3l-1.7 -4.0l2.0 -2.0l5.1 -2.4l0.7 6.4zM114.7 733.4l2.8 -1.9l0.0 2.9l-2.3 0.4z"/>
<path fill="rgb(144,144,144)" d="M198.4 659.7l1.4 1.3l2.9 -5.3l0.5 -2.8l-2.7 1.5zM72.9 608.5l0.6 6.2l-3.0 -2.0l-5.3 2.8l1.2 -3.0l0.9 -5.2l4.0 0.4zM208.9 702.6l-7.3 -0.9l0.3 -3.6l2.1 -2.6l3.7 3.9zM159.9 645.9l0.8 6.8l0.3 0.8l7.7 -6.8l0.6 -1.6l-1.7 -2.0l-2.6 0.6zM205.1 598.7l5.5 -1.4l1.1 -6.0l-2.7 -3.5l-3.1 2.6l-3.2 8.6z"/>
<path fill="rgb(150,150,150)" d="M198.8 617.7l4.8 1.3l-0.6 1.5l-4.8 3.6l-4.3 0.8l-0.6 -5.4zM201.3 735.8l-0.1 3.4l-3.5 0.8l1.7 -3.1l-2.1 -3.1l6.1 0.3zM206.9 669.3l1.0 -1.5l-7.9 -4.3l-4.3 3.4l2.0 4.6l3.0 -1.7l3.7 0.1zM175.7 718.6l-0.0 -2.1l0.5 -0.5l0.9 -0.6l4.8 -1.5l1.2 4.2l0.6 3.5l-5.2 -0.1zM112.7 709.8l2.2 1.6l0.7 2.8l-6.0 1.1l-1.4 -1.1l-0.6 -5.0zM67.6 640.2l-3.5 9.5l-2.8 -0.7l0.3 -4.5l-1.5 -3.8l1.0 -1.1z"/>
<path fill="rgb(156,156,156)" d="M88.8 580.5l-2.1 0.6l1.0 6.2l3.1 0.8l1.6 -7.6zM77.8 576.5l-4.0 -4.9l-3.4 4.0l1.4 6.6l2.7 0.1l3.6 -4.2z"/>
<path fill="rgb(210,210,210)" d="M100.7 674.2l3.4 -2.9l-0.8 -7.4l-0.6 0.1l-3.1 7.0z"/>
<path fill="rgb(216,216,216)" d="M90.7 712.3l-1.7 -4.3l-4.2 0.6l0.1 3.9l3.9 2.2zM143.7 720.0l-0.2 4.9l-11.4 -2.6l-0.6 -4.3l8.9 -0.9z"/>
<path fill="rgb(222,222,222)" d="M211.1 614.8l1.5 5.5l3.3 0.3l2.1 -2.4l-1.8 -3.7zM96.1 629.5l5.9 -2.6l-0.5 -4.6l-2.6 -0.5l-3.7 2.4z"/>
<path fill="rgb(30,30,30)" d="M184.6 632.5 L186.0 633.0 L179.4 661.0 L178.2 660.2 Z"/>
<ellipse cx="138" cy="619" rx="3.2" ry="2" fill="rgb(40,40,40)" transform="rotate(35 138 619)"/>
<ellipse cx="73.5" cy="624" rx="1.5" ry="3.5" fill="rgb(40,40,40)"/>
<ellipse cx="68.5" cy="700" rx="2" ry="1.5" fill="rgb(35,35,35)"/>
</g></g>
<rect x="66.50" y="585.20" width="150.30" height="150.30" fill="none" stroke="#000" stroke-width="1.09"/>
<g stroke="#000" stroke-width="1.09">
<line x1="66.50" y1="735.50" x2="66.50" y2="740.27"/>
<line x1="61.73" y1="735.50" x2="66.50" y2="735.50"/>
<line x1="141.65" y1="735.50" x2="141.65" y2="740.27"/>
<line x1="61.73" y1="660.35" x2="66.50" y2="660.35"/>
<line x1="216.80" y1="735.50" x2="216.80" y2="740.27"/>
<line x1="61.73" y1="585.20" x2="66.50" y2="585.20"/>
</g>
<text x="51.31" y="759.50" font-size="20.0" textLength="30.38" lengthAdjust="spacingAndGlyphs">0.0</text>
<text x="26.52" y="742.80" font-size="20.0" textLength="30.38" lengthAdjust="spacingAndGlyphs">0.0</text>
<text x="126.46" y="759.50" font-size="20.0" textLength="30.38" lengthAdjust="spacingAndGlyphs">0.5</text>
<text x="26.52" y="667.65" font-size="20.0" textLength="30.38" lengthAdjust="spacingAndGlyphs">0.5</text>
<text x="201.61" y="759.50" font-size="20.0" textLength="30.38" lengthAdjust="spacingAndGlyphs">1.0</text>
<text x="26.52" y="592.50" font-size="20.0" textLength="30.38" lengthAdjust="spacingAndGlyphs">1.0</text>
<text x="110.96" y="782.90" font-size="20.0" textLength="61.39" lengthAdjust="spacingAndGlyphs">x (cm)</text>
<text transform="translate(18.10,660.35) rotate(-90)" x="-30.05" y="0" font-size="20.0" textLength="60.11" lengthAdjust="spacingAndGlyphs">z (cm)</text>
<g fill="#1f77b4" fill-opacity="0.70">
<path d="M318.75 740.30h1.07v-1.47h-1.07z"/>
<path d="M320.88 740.30h1.07v-2.04h-1.07z"/>
<path d="M323.01 740.30h1.07v-2.62h-1.07z"/>
<path d="M324.08 740.30h1.07v-3.65h-1.07z"/>
<path d="M326.21 740.30h1.07v-5.19h-1.07z"/>
<path d="M327.27 740.30h1.07v-6.50h-1.07z"/>
<path d="M329.41 740.30h1.07v-7.42h-1.07z"/>
<path d="M331.54 740.30h1.07v-10.44h-1.07z"/>
<path d="M332.60 740.30h1.07v-14.15h-1.07z"/>
<path d="M334.74 740.30h1.07v-17.53h-1.07z"/>
<path d="M336.87 740.30h1.07v-22.28h-1.07z"/>
<path d="M337.93 740.30h1.07v-28.23h-1.07z"/>
<path d="M340.07 740.30h1.07v-34.94h-1.07z"/>
<path d="M341.13 740.30h1.07v-43.35h-1.07z"/>
<path d="M343.26 740.30h1.07v-52.97h-1.07z"/>
<path d="M345.40 740.30h1.07v-61.17h-1.07z"/>
<path d="M346.46 740.30h1.07v-71.44h-1.07z"/>
<path d="M348.60 740.30h1.07v-83.73h-1.07z"/>
<path d="M349.66 740.30h1.07v-94.75h-1.07z"/>
<path d="M351.79 740.30h1.07v-102.12h-1.07z"/>
<path d="M353.93 740.30h1.07v-116.94h-1.07z"/>
<path d="M354.99 740.30h1.07v-128.09h-1.07z"/>
<path d="M357.12 740.30h1.07v-136.19h-1.07z"/>
<path d="M359.26 740.30h1.07v-141.43h-1.07z"/>
<path d="M360.32 740.30h1.07v-143.30h-1.07z"/>
<path d="M362.45 740.30h1.07v-149.91h-1.07z"/>
<path d="M363.52 740.30h1.07v-151.85h-1.07z"/>
<path d="M365.65 740.30h1.07v-148.80h-1.07z"/>
<path d="M367.78 740.30h1.07v-147.33h-1.07z"/>
<path d="M368.85 740.30h1.07v-142.18h-1.07z"/>
<path d="M370.98 740.30h1.07v-136.22h-1.07z"/>
<path d="M373.11 740.30h1.07v-133.56h-1.07z"/>
<path d="M374.18 740.30h1.07v-119.90h-1.07z"/>
<path d="M376.31 740.30h1.07v-113.98h-1.07z"/>
<path d="M377.38 740.30h1.07v-108.63h-1.07z"/>
<path d="M379.51 740.30h1.07v-102.46h-1.07z"/>
<path d="M381.64 740.30h1.07v-94.29h-1.07z"/>
<path d="M382.71 740.30h1.07v-90.06h-1.07z"/>
<path d="M384.84 740.30h1.07v-83.07h-1.07z"/>
<path d="M386.97 740.30h1.07v-79.16h-1.07z"/>
<path d="M388.04 740.30h1.07v-74.88h-1.07z"/>
<path d="M390.17 740.30h1.07v-70.70h-1.07z"/>
<path d="M391.24 740.30h1.07v-69.84h-1.07z"/>
<path d="M393.37 740.30h1.07v-67.26h-1.07z"/>
<path d="M395.50 740.30h1.07v-63.05h-1.07z"/>
<path d="M396.57 740.30h1.07v-60.92h-1.07z"/>
<path d="M398.70 740.30h1.07v-57.60h-1.07z"/>
<path d="M399.77 740.30h1.07v-54.71h-1.07z"/>
<path d="M401.90 740.30h1.07v-52.04h-1.07z"/>
<path d="M404.03 740.30h1.07v-48.73h-1.07z"/>
<path d="M405.10 740.30h1.07v-42.62h-1.07z"/>
<path d="M407.23 740.30h1.07v-38.15h-1.07z"/>
<path d="M409.36 740.30h1.07v-30.55h-1.07z"/>
<path d="M410.43 740.30h1.07v-25.74h-1.07z"/>
<path d="M412.56 740.30h1.07v-18.97h-1.07z"/>
<path d="M413.62 740.30h1.07v-14.22h-1.07z"/>
<path d="M415.76 740.30h1.07v-9.90h-1.07z"/>
<path d="M417.89 740.30h1.07v-6.28h-1.07z"/>
<path d="M418.95 740.30h1.07v-3.81h-1.07z"/>
<path d="M421.09 740.30h1.07v-1.92h-1.07z"/>
<path d="M423.22 740.30h1.07v-1.25h-1.07z"/>
</g>
<line x1="388.70" y1="580.60" x2="388.70" y2="740.30" stroke="#ff0000" stroke-width="2.2"/>
<rect x="293.80" y="580.60" width="150.10" height="159.70" fill="none" stroke="#000" stroke-width="1.09"/>
<g stroke="#000" stroke-width="1.09">
<line x1="355.90" y1="740.30" x2="355.90" y2="745.07"/>
<line x1="442.26" y1="740.30" x2="442.26" y2="745.07"/>
<line x1="289.03" y1="740.30" x2="293.80" y2="740.30"/>
<line x1="289.03" y1="685.20" x2="293.80" y2="685.20"/>
<line x1="289.03" y1="630.10" x2="293.80" y2="630.10"/>
</g>
<text x="337.67" y="764.30" font-size="20.0" textLength="36.46" lengthAdjust="spacingAndGlyphs">150</text>
<text x="424.03" y="764.30" font-size="20.0" textLength="36.46" lengthAdjust="spacingAndGlyphs">200</text>
<text x="272.05" y="747.60" font-size="20.0" textLength="12.15" lengthAdjust="spacingAndGlyphs">0</text>
<text x="235.59" y="692.50" font-size="20.0" textLength="48.61" lengthAdjust="spacingAndGlyphs">5000</text>
<text x="223.44" y="637.40" font-size="20.0" textLength="60.76" lengthAdjust="spacingAndGlyphs">10000</text>
<text x="322.75" y="787.70" font-size="20.0" textLength="92.20" lengthAdjust="spacingAndGlyphs">grayscale</text>
<use href="#og3" x="454.00" y="0.00" filter="url(#th3)"/>
<rect x="520.50" y="585.20" width="150.30" height="150.30" fill="none" stroke="#000" stroke-width="1.09"/>
<g stroke="#000" stroke-width="1.09">
<line x1="520.50" y1="735.50" x2="520.50" y2="740.27"/>
<line x1="515.73" y1="735.50" x2="520.50" y2="735.50"/>
<line x1="595.65" y1="735.50" x2="595.65" y2="740.27"/>
<line x1="515.73" y1="660.35" x2="520.50" y2="660.35"/>
<line x1="670.80" y1="735.50" x2="670.80" y2="740.27"/>
<line x1="515.73" y1="585.20" x2="520.50" y2="585.20"/>
</g>
<text x="505.31" y="759.50" font-size="20.0" textLength="30.38" lengthAdjust="spacingAndGlyphs">0.0</text>
<text x="480.52" y="742.80" font-size="20.0" textLength="30.38" lengthAdjust="spacingAndGlyphs">0.0</text>
<text x="580.46" y="759.50" font-size="20.0" textLength="30.38" lengthAdjust="spacingAndGlyphs">0.5</text>
<text x="480.52" y="667.65" font-size="20.0" textLength="30.38" lengthAdjust="spacingAndGlyphs">0.5</text>
<text x="655.61" y="759.50" font-size="20.0" textLength="30.38" lengthAdjust="spacingAndGlyphs">1.0</text>
<text x="480.52" y="592.50" font-size="20.0" textLength="30.38" lengthAdjust="spacingAndGlyphs">1.0</text>
<text x="564.96" y="782.90" font-size="20.0" textLength="61.39" lengthAdjust="spacingAndGlyphs">x (cm)</text>
<text transform="translate(472.10,660.35) rotate(-90)" x="-30.05" y="0" font-size="20.0" textLength="60.11" lengthAdjust="spacingAndGlyphs">z (cm)</text>
<text x="97.43" y="576.90" font-size="23.5" textLength="88.44" lengthAdjust="spacingAndGlyphs">Original</text>
<text x="310.23" y="572.30" font-size="23.5" textLength="117.24" lengthAdjust="spacingAndGlyphs">Histogram</text>
<text x="525.84" y="576.90" font-size="23.5" textLength="139.63" lengthAdjust="spacingAndGlyphs">Thresholded</text>
<text class="pl" y="557.80"><tspan x="5.97" font-size="28.0">(</tspan><tspan x="14.91" font-size="25.0">g</tspan><tspan x="27.64" font-size="28.0">)</tspan></text>
<text class="pl" y="557.80"><tspan x="264.57" font-size="28.0">(</tspan><tspan x="274.40" font-size="25.0">h</tspan><tspan x="287.34" font-size="28.0">)</tspan></text>
<text class="pl" y="557.80"><tspan x="484.57" font-size="28.0">(</tspan><tspan x="493.61" font-size="25.0">i</tspan><tspan x="500.34" font-size="28.0">)</tspan></text>
<clipPath id="cp4"><rect x="66.50" y="856.05" width="150.30" height="150.30"/></clipPath>
<g id="og4" clip-path="url(#cp4)"><g filter="url(#nz4)">
<rect x="64.50" y="854.05" width="154.30" height="154.30" fill="rgb(182,182,182)"/>
<path fill="rgb(42,42,42)" d="M112.3 897.6l-9.4 -0.2l-2.7 2.7l-1.6 2.5l5.8 7.7l2.0 -4.5l5.9 -8.0z"/>
<path fill="rgb(54,54,54)" d="M186.2 1008.4l-12.1 3.2l-0.3 6.3l10.8 1.2l3.5 -7.4z"/>
<path fill="rgb(60,60,60)" d="M136.9 948.5l-2.6 5.0l-4.4 -0.3l-5.9 -4.1l1.3 -2.8l3.1 0.4l2.0 -2.0l6.4 1.2z"/>
<path fill="rgb(66,66,66)" d="M227.0 916.3l-6.6 -4.0l-0.6 -2.5l5.4 -5.1l4.2 -0.4l3.1 3.2l-3.9 7.8z"/>
<path fill="rgb(72,72,72)" d="M115.0 918.4l-6.0 3.8l0.2 -2.4l-3.9 -5.1l-0.6 -3.9l4.3 2.9l5.8 -2.3zM124.0 872.9l7.6 -0.7l2.6 -7.0l-1.3 0.6l-8.1 0.8zM112.0 976.2l7.6 -0.8l0.9 3.6l-3.2 4.4l-6.1 0.1zM223.3 958.2l0.9 -1.8l-0.8 -6.7l-9.4 -5.2l-5.3 4.0l2.7 6.8zM145.5 864.6l4.8 -2.4l3.2 1.3l7.1 -4.0l-2.6 -9.2l-3.2 -2.5l-3.8 0.3l-5.5 14.6zM217.8 857.8l-4.1 9.0l-5.1 0.1l-3.2 -6.6l-0.6 -3.8l5.0 -1.5z"/>
<path fill="rgb(78,78,78)" d="M182.0 916.2l-4.0 6.5l0.7 5.5l-2.4 -1.9l-9.0 -7.1l3.5 -8.3zM157.4 875.6l-1.0 -6.2l-2.7 -2.1l-1.2 1.4l-1.2 0.3zM66.2 1006.5l-2.7 2.0l-1.2 0.4l1.2 -10.4l3.3 0.3l0.7 1.6zM147.1 887.6l8.4 1.1l2.8 -1.0l-1.9 -6.2l-6.0 -0.8l-2.8 2.0zM167.5 1012.9l-2.9 -7.5l6.9 0.1l2.2 6.1l-2.3 5.4l-0.2 1.2l-1.9 -0.2zM157.1 876.2l-6.7 -5.6l0.4 8.4l5.6 2.3l1.5 -3.5zM189.1 1006.7l1.6 -2.3l3.3 -7.2l5.0 -1.5l1.5 8.9l-2.2 2.5l0.4 4.4l-4.2 -0.4l-5.3 -0.1z"/>
<path fill="rgb(84,84,84)" d="M64.8 910.9l-4.7 -7.5l7.2 -1.7l12.9 5.3l4.2 3.2l-1.1 3.9l-3.7 0.0l-1.6 1.2l-5.8 -0.8zM204.8 963.4l-0.2 1.0l-8.7 -3.8l7.3 -8.6l5.2 -3.5l-0.0 7.7zM120.3 892.5l-4.8 0.2l-2.8 4.7l0.2 0.2l6.0 6.0l6.5 -0.4l-1.9 -3.4l-0.1 -5.0zM145.1 865.6l1.6 5.2l1.5 -0.3l0.9 8.2l-4.1 -0.5l-3.6 -0.0l-0.2 0.1zM143.3 891.3l-0.8 1.9l-0.1 1.8l-4.7 0.3l-2.1 -4.9l1.4 -1.0zM94.3 1001.8l-0.9 2.6l-1.5 0.6l0.5 3.2l8.8 0.1l2.6 -5.7l-0.9 -1.5zM135.1 865.2l5.4 -0.6l2.5 0.5l1.7 0.2l-5.1 12.3l-2.2 -4.3l-2.9 -0.6zM209.9 846.2l-3.0 -0.9l-4.1 3.5l0.1 4.6l1.8 2.8l4.5 -2.5zM138.5 998.7l5.5 -3.1l1.0 2.4l4.0 6.8l-6.6 0.8l-3.2 -0.6zM70.5 863.7l0.6 -1.6l-3.5 -8.9l-3.7 -0.1l-9.6 9.6l-0.0 5.8l3.5 -1.4l0.3 2.1zM134.8 864.1l4.9 -1.8l-3.5 -9.2l-0.2 -0.0l-4.1 5.0l2.8 4.8zM226.0 853.6l-7.6 3.2l-7.8 -2.9l-0.2 -7.8l3.1 0.7l10.4 1.5zM220.3 899.8l4.8 3.7l3.8 -1.7l1.4 -6.5l-4.8 1.9zM155.7 1012.5l-1.4 -6.2l2.4 -1.7l6.5 -0.5l-1.1 1.0l0.8 6.2zM75.5 992.8l-3.9 -4.5l5.4 -2.9l5.2 9.4l-1.0 1.5l-0.2 2.4l-3.6 -0.3zM134.2 960.6l0.0 -5.2l-4.4 0.6l-1.4 4.4l-0.8 4.6l0.8 -0.2z"/>
<path fill="rgb(90,90,90)" d="M81.5 943.6l-2.9 -5.9l2.0 0.7l2.4 -4.3l2.5 6.1l-0.2 1.5l-1.8 4.0zM112.1 1005.7l-3.9 6.6l-4.6 -1.2l-1.5 -2.7l2.5 -5.5zM144.1 973.9l7.4 8.1l-1.1 7.9l-0.6 0.3l-7.2 -6.4l-0.3 -7.7zM143.9 973.6l1.7 -5.2l-2.9 -4.5l-5.7 -0.6l-8.1 2.6l-0.5 1.9l6.8 6.8l6.1 -0.1zM127.2 966.0l0.1 -0.8l-10.9 0.0l3.8 8.9l7.8 -6.3zM214.1 925.1l1.7 -3.3l8.5 0.6l0.3 3.6l-0.0 2.4l-2.1 1.3l-8.8 -1.9zM125.0 958.3l-4.1 -3.6l-0.9 -2.3l3.3 -2.6l4.9 4.8zM193.9 854.4l0.4 -5.8l1.3 1.6l0.9 2.7zM205.2 973.8l-0.8 -9.1l-9.3 -2.9l-4.1 0.5l-7.0 4.6l0.3 3.7l2.5 2.8l6.2 4.1l9.2 -1.4zM141.9 909.6l-10.2 -0.1l-4.5 -5.1l3.8 0.1l4.1 -3.0l6.3 5.3zM193.7 907.1l3.3 4.7l6.2 -11.4l-8.5 -4.3l-3.0 8.6zM191.5 851.6l1.9 2.8l0.5 -6.0l-2.0 -1.7l-4.3 0.4l-0.1 0.0zM158.9 907.5l9.9 -0.4l-2.9 2.7l-0.1 8.5l-6.7 5.2l-8.8 -11.3zM113.1 877.8l7.5 7.3l-1.4 3.9l-4.1 2.9l-7.3 -12.5l2.2 -1.9zM142.4 984.5l-4.0 4.9l5.8 4.5l0.6 -2.2l4.7 -0.8z"/>
<path fill="rgb(96,96,96)" d="M96.4 992.8l-0.5 1.9l-4.0 -5.6l1.0 -2.1l2.2 2.3l3.9 0.7zM153.0 940.3l7.1 8.1l4.0 -0.4l0.9 -3.0l-9.3 -6.4zM149.5 1017.5l-7.8 -4.0l3.2 -3.5l4.6 -4.4l3.2 1.4l1.7 6.0l-0.3 3.5zM110.7 947.8l-4.8 0.1l-3.4 3.2l6.6 7.8l-0.1 4.4l3.2 -1.5l4.8 -6.7l1.5 -2.8zM130.4 851.4l5.3 1.5l-5.6 2.5l-2.1 0.9l2.0 -3.2zM198.9 884.4l9.1 4.7l3.5 -7.5l-7.2 -7.0l-0.9 -0.1l-5.9 7.6zM126.1 942.0l3.0 0.2l0.4 -5.3l-2.2 -1.7l-1.3 4.0l-3.5 0.0zM140.7 934.7l5.3 -3.4l2.1 -3.9l-5.8 -0.4l-4.2 -0.4l1.4 3.5zM112.8 940.5l-2.2 5.0l-4.8 1.2l-2.2 -9.2l5.6 -5.0l4.4 2.3l1.4 4.2zM155.6 899.0l3.0 4.5l10.2 3.3l3.4 -6.2l-5.3 -8.9l-8.3 -3.6l-1.3 3.0l-1.6 5.0zM197.1 921.6l2.7 9.8l-2.9 5.3l-9.8 -10.6zM67.3 1008.7l-3.1 1.3l2.0 4.9l1.1 1.9l5.5 -5.5l1.7 -1.5l-4.6 1.4zM158.9 878.2l5.2 -2.1l8.3 7.6l-5.2 4.6l-8.5 -0.6l-2.0 -6.2zM103.1 974.9l-5.9 -0.5l1.4 8.1l3.6 -1.4zM86.8 870.2l0.1 0.4l7.2 -5.4l-2.8 -7.5l-8.3 -1.9l-0.5 7.3zM226.0 939.0l-3.2 -1.5l-8.7 3.7l0.6 2.1l8.8 6.1l3.1 -4.7zM107.6 971.9l1.0 -8.0l-3.9 1.8l-9.4 1.4l-1.9 4.2l3.9 1.8l5.9 1.4z"/>
<path fill="rgb(102,102,102)" d="M194.8 993.7l-1.5 -0.3l0.0 -15.6l9.6 0.3l0.8 11.3l-4.6 6.0zM153.0 899.0l-7.9 1.6l-0.5 -4.2l2.2 -0.5l5.4 0.4zM177.8 988.7l-2.8 -4.1l9.2 -13.8l1.6 3.6l-3.2 12.8zM97.8 921.5l-2.8 -2.4l8.0 -3.5l3.4 5.9zM154.0 982.7l10.5 -3.4l1.3 5.6l-0.8 1.5l-5.1 3.9l-2.5 0.7l-6.1 -0.6zM67.4 930.9l-3.2 -6.7l-4.2 1.1l-1.4 -1.5l1.1 4.7l1.5 7.2zM107.6 876.1l-0.3 3.0l-3.8 1.9l-8.3 0.9l-7.4 -10.2l8.3 -5.2l9.5 1.4zM79.2 844.5l-4.1 5.1l7.6 5.5l3.1 -12.5zM166.7 868.9l-1.9 -0.1l-6.3 -0.1l-2.4 -3.2l5.5 -4.9l0.5 0.3zM68.7 985.6l-3.3 -8.3l3.4 -3.6l11.1 2.7l-3.9 7.3l-4.9 3.4zM145.9 843.3l4.2 4.5l-6.0 14.2l-2.7 -0.2l-5.0 -8.8zM226.3 917.2l-6.0 -4.7l-4.0 4.6l-0.4 4.3l8.5 -0.0zM62.3 1010.4l-0.1 4.7l-1.9 3.0l-7.3 -2.2l3.6 -8.4l5.5 1.8zM198.5 886.1l9.1 4.4l2.0 3.8l0.0 3.3l-5.4 0.7l-8.7 -3.1l-0.8 -3.4zM221.4 979.7l-10.1 10.0l7.1 5.7l4.2 -2.6l3.9 -8.8l-0.3 -1.3l-4.4 -6.0zM124.1 874.6l-0.2 -0.1l2.0 6.6l2.3 1.2l2.6 -4.8l0.3 -2.2zM169.4 944.0l9.5 -1.4l-3.6 13.7l-10.8 -8.0l1.0 -3.0zM71.7 861.8l-3.3 -8.9l6.1 -1.9l8.1 4.3l0.1 0.2l-2.9 5.7zM147.9 932.1l5.1 4.7l-0.2 3.2l2.7 -1.7l3.0 -6.9l-1.2 -3.9l-7.7 0.5zM122.3 874.9l-8.3 2.1l6.9 7.9l4.5 -3.7zM98.0 923.0l8.4 0.4l2.2 -0.9l-2.6 3.1l-8.7 3.0zM72.2 875.4l2.9 1.8l-4.4 4.6l-5.3 -0.3l-6.8 -9.4l-0.3 -1.9zM85.7 919.1l-0.6 -3.4l8.3 4.2l0.9 3.0l2.3 5.8l-1.8 3.7l-6.7 -5.2zM157.8 955.9l4.4 -2.1l2.1 -5.5l10.7 8.5l-0.2 6.6l-9.1 4.5l-5.6 -4.4zM119.1 920.4l-0.7 9.3l0.4 0.5l-4.6 3.3l-4.7 -1.3l0.6 -5.5l-0.7 -4.1l7.4 -0.1zM96.9 933.3l6.4 4.0l5.7 -5.0l-2.6 -4.5l-8.9 1.5l-1.1 3.8zM191.4 913.3l5.4 -0.7l0.7 3.1l-0.8 5.1l-9.7 5.1l-1.0 -3.4l-3.4 -6.4zM94.7 996.4l-3.1 -7.2l-3.9 7.4l0.9 1.4l1.2 2.5l3.5 0.4zM210.3 991.1l-3.6 0.3l-7.4 4.1l7.0 5.8l9.0 3.9l2.5 -3.9l0.1 -5.8zM209.3 889.5l1.4 4.2l10.1 -4.4l1.1 -7.2l-8.1 0.7l-1.7 -0.9zM201.6 853.1l-0.7 -4.1l-1.6 -2.4l-2.1 1.8l3.0 4.3z"/>
<path fill="rgb(108,108,108)" d="M186.8 926.3l-2.2 4.1l-5.1 -1.1l2.8 10.3l6.7 3.3l4.9 -2.8l2.7 -3.3zM197.5 852.5l1.9 0.5l-2.6 -4.3l0.2 1.2zM108.6 1013.5l-0.4 -0.8l-4.6 -1.2l-4.1 9.1l8.2 -2.3zM110.0 976.3l0.4 7.1l-2.2 0.9l-3.8 -2.9l-1.0 -6.5l4.5 -2.7zM56.5 984.8l5.0 -6.1l1.2 -0.4l3.8 7.9l-8.4 2.7zM219.0 974.7l-13.3 -0.9l-0.9 -9.1l0.9 0.2l15.7 2.6l0.2 8.9zM129.2 980.5l0.6 -0.9l3.2 -3.4l-4.9 -8.1l-7.8 6.4l-0.2 0.9l2.0 3.3zM114.2 850.0l-4.4 -3.7l-1.1 -7.9l-7.3 3.1l0.7 3.4l7.7 13.4l1.4 -2.2zM80.1 947.1l-8.0 3.4l-1.3 5.1l8.9 3.2l2.4 -1.3l1.1 -10.8zM132.4 994.1l4.3 -3.1l1.2 -1.3l5.4 4.8l-5.0 3.9zM191.4 876.0l1.5 -7.9l10.1 6.0l-5.7 7.8zM92.7 1021.7l-9.3 4.9l-0.3 -2.6l-3.1 -9.2l9.3 -7.4l2.8 1.3zM217.2 871.4l-2.2 9.0l7.1 1.4l-0.2 -3.0l3.0 -4.5zM128.3 882.5l2.9 6.4l3.4 -0.0l1.1 -1.6l2.3 -6.0l0.2 -0.3l-3.2 1.6zM116.3 941.3l8.4 4.6l-1.3 -2.4l-2.0 -3.6l-6.1 -0.8zM94.8 965.9l8.9 -5.2l-1.7 -9.6l-4.5 1.0l-4.7 6.8zM130.8 891.1l-0.9 3.1l-0.3 4.5l5.2 0.4l2.0 -3.4l-2.7 -4.8zM170.0 940.9l9.2 0.4l0.0 -1.5l-0.6 -10.2l-2.5 0.6l-10.4 3.5zM185.7 1006.6l-11.7 4.7l0.2 -7.7l1.6 -1.5l0.3 -1.8l7.6 3.4zM160.0 930.5l5.2 2.7l9.4 -5.1l-8.5 -8.1l-6.5 4.5l-0.6 2.1zM48.4 980.2l4.4 -7.3l0.9 -0.5l5.8 4.3l-4.0 7.5zM191.8 864.6l-10.3 -2.5l0.3 -7.9l8.8 3.7l0.8 6.3zM134.2 931.1l-4.2 5.0l-1.9 -2.3l0.7 -0.6l3.5 -6.9l2.2 1.0zM191.8 864.9l-1.4 2.1l-5.5 6.4l-4.1 5.0l-0.5 0.1l-4.2 -9.5l2.7 -5.6l1.5 1.8zM167.7 998.2l4.3 2.7l-2.0 1.4l-5.1 0.6l-1.2 0.9l-0.0 -4.3zM83.9 946.7l5.3 2.9l7.0 1.4l-5.5 6.5l-6.7 -0.1zM131.1 994.3l-5.6 -3.4l-4.8 -0.5l-2.4 6.8l3.4 0.4l6.1 0.6zM165.9 968.5l10.0 -2.2l5.7 1.0l2.4 3.3l-11.2 12.6l-5.3 0.2l-2.8 -4.5zM57.2 900.8l2.2 1.1l0.5 1.0l7.1 -1.5l7.7 -11.1l-3.8 -4.8l-6.4 2.4l-5.7 6.7zM74.6 873.8l1.0 3.1l5.4 -2.7l4.4 -2.9l-5.4 -7.0l-8.3 -1.8l-0.9 1.5z"/>
<path fill="rgb(114,114,114)" d="M164.6 992.9l-1.0 6.3l-2.4 -7.3l4.6 -4.6zM81.6 976.4l-0.2 0.5l-3.6 7.3l7.0 8.4l6.6 -3.7l1.0 -2.2l-8.2 -10.1zM190.7 855.9l-1.9 -2.2l-1.4 -6.4l-4.7 3.4l-0.6 3.1zM153.4 900.5l2.1 5.4l-5.7 6.0l-3.7 0.0l-3.4 -2.3l-0.2 -2.7l2.5 -5.3zM222.6 993.1l6.2 5.1l-2.5 1.8l-2.1 1.1l-5.9 0.3l0.2 -5.7zM181.5 879.8l4.3 10.6l7.2 0.1l3.7 -5.6l0.5 -2.8l-8.2 -0.8zM146.9 888.5l8.1 1.7l-2.3 4.5l-5.4 -1.9l-1.0 -1.7zM180.2 880.3l-0.4 -0.3l-7.1 3.8l-1.8 6.0l1.5 10.7l6.6 -1.2l6.2 -8.7zM128.0 882.6l1.4 6.6l-3.6 -0.3l-3.6 0.4l-0.8 -4.0l4.4 -3.8zM205.2 873.8l4.1 -3.3l4.5 -1.7l1.1 2.1l-1.9 8.7l-1.1 1.7zM38.2 876.9l15.1 -6.2l1.1 3.3l7.4 9.2l-5.8 8.7zM144.2 973.7l3.1 -5.0l11.1 -3.0l6.9 2.6l-0.9 10.6l-11.2 1.6zM83.1 1003.4l-1.4 -2.1l-6.2 8.0l2.2 0.1l2.0 4.9l7.9 -8.8l-1.8 -0.2zM181.2 853.9l-1.5 -2.6l-3.9 -2.9l-3.0 0.2l-1.2 9.0l7.1 5.1l-0.2 -2.5zM55.8 995.4l7.4 2.9l-1.2 10.5l-5.5 -1.7l-4.2 -7.2l1.0 -1.4zM197.5 949.3l-2.4 -6.8l-5.6 1.3l1.6 16.1l4.2 0.4zM124.2 865.0l-2.7 -4.2l2.3 -1.3l4.0 -2.8l0.6 2.0l4.2 5.0zM145.9 887.6l-2.8 -3.5l-2.5 -2.4l-3.4 6.1l6.8 1.4zM130.9 923.2l-5.7 7.5l2.7 1.8l3.1 -6.9zM64.5 923.4l3.7 -6.1l-4.1 -5.7l-2.9 9.2zM127.3 965.1l-11.0 -0.4l-2.6 -1.8l5.6 -5.8l4.1 4.1zM88.0 930.2l6.2 3.2l-0.4 0.4l-3.5 1.2l-7.2 -1.1zM170.6 857.6l1.5 -9.0l-13.8 1.7l3.9 8.6l0.5 0.3zM121.9 850.0l-1.0 -0.8l-4.3 0.5l0.8 -3.7l5.2 -1.0zM196.3 842.1l1.0 -0.9l1.2 4.6l-2.2 1.4l-0.3 -1.1l-1.7 2.0l-2.2 -1.5zM178.2 863.0l-7.2 -4.8l-8.0 2.0l3.9 8.6l8.8 -0.0zM54.0 971.8l5.7 -14.2l4.0 1.2l2.5 12.0l-3.3 3.2l-1.3 0.2zM223.6 1005.5l2.9 3.7l-2.7 4.7l-0.4 2.3l-5.6 -3.8l-2.2 -7.0l2.5 -3.9zM217.9 868.5l-2.6 -1.2l3.6 -9.2l7.5 -3.6l12.9 8.9l-14.2 10.0zM104.2 910.6l-1.9 3.3l-8.2 4.1l-8.6 -3.7l0.1 -4.0l11.6 -6.6zM207.1 1009.8l2.9 2.1l2.1 3.7l3.9 -2.8l-0.5 -7.2l-9.1 0.9zM83.7 960.0l6.8 0.6l3.0 6.2l-1.2 4.3l-7.7 4.3l-2.8 -0.4l-0.1 -12.9z"/>
<path fill="rgb(120,120,120)" d="M68.3 1018.1l6.7 -4.5l4.4 1.1l1.5 9.5l-12.8 -5.4zM141.3 976.2l-6.1 1.4l-3.2 3.3l4.3 7.0l1.6 0.9l4.0 -4.8zM163.4 999.3l-0.0 4.4l-6.7 0.3l0.8 -10.2l2.5 -1.0zM78.9 944.8l-3.1 -6.0l-5.1 4.2l1.0 6.7zM127.8 998.7l-5.6 3.7l-3.4 1.2l4.7 10.1l7.2 -8.4zM197.8 921.3l2.2 -4.7l3.8 2.1l6.9 6.0l0.1 2.8l-2.0 3.4l-6.5 -0.2zM94.0 983.9l-1.2 2.7l-7.8 -10.4l7.9 -4.2l3.4 2.4l1.1 8.4zM216.0 916.8l4.0 -4.6l-0.6 -2.5l-4.0 1.6l-4.8 0.9zM72.6 874.1l-14.1 -4.3l12.1 -5.8zM204.8 901.2l-7.2 10.8l2.6 1.8l3.9 -1.4l4.0 -1.5l-0.2 -3.9l2.4 -7.5l-0.6 -1.7zM112.6 898.0l-1.5 9.3l3.6 3.7l3.7 -6.9zM108.9 1013.5l14.2 3.1l0.6 1.1l-11.6 3.8l-3.0 -2.7zM97.1 899.3l-7.0 -7.1l-2.6 0.9l-3.9 1.0l0.2 9.9l1.5 5.6l11.3 -7.4zM202.3 934.1l6.5 -0.7l5.0 7.7l-1.1 1.9l-4.2 5.1l-4.2 -5.9l-7.8 -1.3l0.6 -3.9zM212.1 923.1l3.3 -1.7l0.4 -4.3l-6.2 -3.1l-3.5 2.5zM150.6 952.6l6.8 3.4l0.3 7.8l-10.9 3.7l-3.7 -4.0l3.7 -8.3zM124.0 1017.6l0.5 0.5l11.3 2.1l4.9 -6.6l-1.7 -3.4l-1.5 -3.2l-4.4 1.6l-9.3 5.2l0.3 2.5zM86.6 842.6l10.3 -2.3l-0.5 1.3l-0.9 3.3l-3.1 7.3l-9.3 3.0l-0.1 -0.1z"/>
<path fill="rgb(126,126,126)" d="M149.8 951.1l-1.8 -7.2l-6.6 -1.6l-3.7 3.5l0.6 2.7l6.7 3.1zM149.3 926.3l7.7 -0.4l1.2 -2.0l-8.2 -11.4l-3.7 0.7l1.6 8.2zM151.3 950.8l-0.7 -6.8l2.7 -0.3l-0.4 -3.2l5.0 9.3l-0.4 6.0zM214.0 940.9l-3.3 -8.5l2.3 -2.9l9.1 1.2l0.2 5.8zM126.0 852.7l-3.2 -1.7l0.7 1.1l-0.5 4.9l4.8 -0.6zM136.1 922.9l-2.0 -1.4l-2.3 0.5l-3.6 -3.8l4.5 -2.9l9.5 -5.2l3.2 2.8l-6.4 7.0zM105.2 997.4l-0.5 3.2l0.3 1.6l7.5 2.8l5.9 -1.5l-2.5 -3.4l1.9 -2.7l-10.5 -4.6zM127.4 917.9l-8.1 2.1l0.1 -2.9l-4.3 -5.8l3.9 -7.0l6.7 0.9l0.2 7.7zM68.3 999.6l-1.3 -1.1l4.0 -2.8l6.0 2.9l-5.2 2.1zM150.2 991.3l-0.1 5.3l-0.5 8.0l3.5 0.4l3.1 -1.0l-0.7 -10.4l-4.8 -2.5zM75.0 1004.8l0.0 4.2l5.4 -8.3l-3.2 -1.8l-5.1 2.2zM230.8 934.6l2.2 -0.1l-8.1 -5.8l-1.4 2.1l0.2 5.5l2.9 1.8zM118.8 984.5l2.8 -4.8l7.4 1.5l-4.5 4.8l-4.0 3.2zM192.5 993.2l0.6 -15.5l-6.6 -3.2l-3.1 13.0zM192.5 864.0l9.8 -4.7l2.2 -2.9l-3.3 -1.7l-1.7 0.2l-1.9 0.8l-3.3 -0.6l2.5 1.5l-3.2 0.3zM108.9 1013.3l-0.4 -0.8l4.4 -6.5l5.6 -2.2l4.8 10.0l-0.2 2.4zM100.7 994.4l3.5 1.9l2.9 -3.7l-0.3 -0.3l-7.4 -2.3zM221.7 965.5l-15.8 -1.2l5.4 -7.2l12.0 1.4l-0.9 6.4l-0.3 0.7zM180.0 943.0l1.1 0.4l7.9 0.3l0.7 16.4l-6.9 4.8l-5.2 -2.4l-1.3 -6.1zM199.9 1012.2l3.1 6.4l2.9 -4.1l-2.4 -1.2zM127.5 918.6l-8.2 1.7l1.2 9.1l3.7 0.9l6.2 -7.6zM142.6 897.2l-4.9 -1.0l-0.8 4.0l5.0 6.2l2.3 -5.4zM211.1 894.6l9.9 -4.2l-1.1 3.7l-1.1 5.1l-7.4 -0.8l-1.5 -0.8zM95.8 935.3l7.5 2.4l1.6 9.4l-2.8 3.7l-4.6 -0.9l-2.6 -5.9l0.5 -1.5zM140.3 935.4l0.5 6.3l-3.8 3.4l-5.7 -2.8l-1.1 -5.6l6.4 -2.7zM125.7 933.8l1.0 0.3l-3.4 -0.6l-3.0 -2.3l0.6 0.2l2.9 1.1zM143.5 954.4l-5.8 -5.2l-1.6 5.7l1.9 3.8l4.8 4.8zM103.3 1011.4l-1.9 -2.5l-8.9 -0.3l1.2 12.8l3.5 0.2l0.3 -2.0z"/>
<path fill="rgb(132,132,132)" d="M186.4 1000.1l-10.0 -0.4l1.5 -10.6l5.1 -0.4l9.0 5.3l-0.1 1.3zM185.7 890.9l-6.4 8.5l9.9 3.2l4.8 -7.1l-1.4 -3.1zM158.1 875.8l0.3 -5.2l6.2 0.5l-1.3 3.8l-4.6 2.6zM132.3 847.4l-1.1 -5.4l5.9 -12.9l8.6 14.0l-9.6 9.7l-0.2 -0.0zM80.5 894.1l0.2 9.6l-13.4 -2.2l8.7 -10.4zM171.3 991.8l2.4 6.9l2.1 0.8l1.7 -10.5l-5.2 -0.7l-4.6 -2.9l-0.8 1.5zM132.2 993.9l2.2 -5.0l-3.5 -7.2l-1.2 -0.3l-0.2 6.5l2.2 5.6zM219.0 900.8l5.5 3.3l-5.0 5.5l-2.2 -5.5l-5.9 -4.6zM105.6 866.3l-9.4 -1.9l-0.7 -8.1l3.7 -9.3l8.4 13.3zM128.0 847.9l1.1 -5.3l-5.6 2.4l-0.7 5.1l4.5 -1.0zM154.9 1017.0l0.9 -3.1l7.0 1.2l5.9 3.5l-10.5 3.2l-0.6 -0.6z"/>
<path fill="rgb(138,138,138)" d="M115.5 942.5l-3.8 4.1l7.4 4.4l3.6 -2.2l1.8 -2.7zM99.1 998.0l-1.8 -1.1l-2.9 4.1l8.5 -0.7l0.7 -3.0zM155.8 938.5l9.3 6.4l1.9 -3.8l-2.0 -7.1l-5.4 -2.2zM112.4 897.3l-9.4 -0.6l1.3 -14.2l3.3 -2.9l7.2 12.6zM141.0 935.3l0.6 6.4l6.8 -0.2l1.0 -2.1l-2.6 -6.4zM111.6 974.1l8.1 1.0l0.3 -0.9l-4.5 -8.5l-2.8 -1.5l-3.6 -0.4l-0.9 8.0zM107.5 992.1l1.9 -5.5l1.6 -2.1l5.9 0.7l2.6 4.5l-1.6 7.3l-10.5 -4.5zM188.4 909.0l-6.3 6.6l-9.2 -8.6l-3.9 -0.1l3.4 -6.1l6.6 -1.2l8.0 5.6zM80.0 921.2l-5.0 9.4l3.9 -0.0l4.1 3.2l2.3 -5.5l-3.3 -7.8zM56.2 994.9l7.3 3.1l3.3 0.4l-0.2 -6.2l3.8 -3.9l-3.3 0.1l-8.3 2.2zM121.6 872.9l0.2 0.2l-8.6 2.3l-3.2 -0.1l-2.9 -8.0l4.7 -4.2l2.3 0.8l5.1 -1.6l3.5 4.1zM67.7 930.9l5.9 -0.8l3.6 -10.2l-6.3 -0.8l-5.8 4.8zM98.6 897.7l-5.8 -7.8l2.3 -7.0l8.3 -0.5l-0.8 14.2zM67.5 1006.8l0.6 -6.3l3.7 0.7l-1.3 3.9z"/>
<path fill="rgb(144,144,144)" d="M175.8 869.1l3.5 9.7l-6.8 4.7l-7.4 -8.5l2.3 -3.9l-0.5 -2.0zM78.6 962.1l2.2 13.0l-0.6 -0.1l-10.6 -4.6l-5.4 -11.7l5.3 0.1zM115.3 938.9l-0.6 -4.4l4.6 -2.9l-0.6 4.6l2.5 2.5zM192.2 864.8l2.1 1.7l8.9 7.2l0.7 -0.6l2.4 -4.6l-3.4 -6.9l-10.2 3.3zM67.7 931.2l5.5 0.7l-1.8 3.7l2.8 0.6l-5.3 4.1l-8.3 -1.8l1.0 -2.7zM81.4 876.1l3.1 12.7l-3.2 2.2l-4.7 -2.5l-2.3 -4.5l1.3 -6.4z"/>
<path fill="rgb(150,150,150)" d="M70.9 950.2l-3.6 -6.1l-6.9 -5.3l-5.9 5.0l-3.2 7.1l8.4 6.3l4.0 0.6l2.8 -3.3zM86.8 872.8l0.1 -0.3l7.4 9.7l-4.4 5.4l-2.8 -0.0l-4.5 -11.9z"/>
<path fill="rgb(156,156,156)" d="M99.3 989.8l-2.1 -3.2l1.7 -2.4l3.7 -0.4l4.3 2.1l-0.1 6.1z"/>
<path fill="rgb(162,162,162)" d="M121.3 852.1l-0.8 5.5l-1.0 1.8l-3.3 -1.7l-0.0 -5.9zM58.6 919.4l4.9 -8.2l-3.8 -7.6l-0.9 0.3l-5.6 14.4l4.9 3.1z"/>
<path fill="rgb(168,168,168)" d="M132.2 994.3l5.9 4.3l-0.6 6.3l-3.8 -2.1l-5.3 -4.3l3.4 -3.6z"/>
<path fill="rgb(216,216,216)" d="M218.5 977.8l-13.0 -3.6l-1.0 3.4l2.0 10.2l3.7 1.2z"/>
</g></g>
<rect x="66.50" y="856.05" width="150.30" height="150.30" fill="none" stroke="#000" stroke-width="1.09"/>
<g stroke="#000" stroke-width="1.09">
<line x1="66.50" y1="1006.35" x2="66.50" y2="1011.12"/>
<line x1="61.73" y1="1006.35" x2="66.50" y2="1006.35"/>
<line x1="141.65" y1="1006.35" x2="141.65" y2="1011.12"/>
<line x1="61.73" y1="931.20" x2="66.50" y2="931.20"/>
<line x1="216.80" y1="1006.35" x2="216.80" y2="1011.12"/>
<line x1="61.73" y1="856.05" x2="66.50" y2="856.05"/>
</g>
<text x="51.31" y="1030.35" font-size="20.0" textLength="30.38" lengthAdjust="spacingAndGlyphs">0.0</text>
<text x="26.52" y="1013.65" font-size="20.0" textLength="30.38" lengthAdjust="spacingAndGlyphs">0.0</text>
<text x="126.46" y="1030.35" font-size="20.0" textLength="30.38" lengthAdjust="spacingAndGlyphs">0.5</text>
<text x="26.52" y="938.50" font-size="20.0" textLength="30.38" lengthAdjust="spacingAndGlyphs">0.5</text>
<text x="201.61" y="1030.35" font-size="20.0" textLength="30.38" lengthAdjust="spacingAndGlyphs">1.0</text>
<text x="26.52" y="863.35" font-size="20.0" textLength="30.38" lengthAdjust="spacingAndGlyphs">1.0</text>
<text x="110.96" y="1053.75" font-size="20.0" textLength="61.39" lengthAdjust="spacingAndGlyphs">x (cm)</text>
<text transform="translate(18.10,931.20) rotate(-90)" x="-30.05" y="0" font-size="20.0" textLength="60.11" lengthAdjust="spacingAndGlyphs">z (cm)</text>
<g fill="#1f77b4" fill-opacity="0.70">
<path d="M321.38 1012.20h1.07v-1.16h-1.07z"/>
<path d="M324.58 1012.20h1.07v-1.76h-1.07z"/>
<path d="M326.72 1012.20h1.07v-3.17h-1.07z"/>
<path d="M329.92 1012.20h1.07v-5.48h-1.07z"/>
<path d="M332.06 1012.20h1.07v-8.22h-1.07z"/>
<path d="M335.26 1012.20h1.07v-12.34h-1.07z"/>
<path d="M337.39 1012.20h1.07v-18.90h-1.07z"/>
<path d="M340.60 1012.20h1.07v-26.95h-1.07z"/>
<path d="M342.73 1012.20h1.07v-37.22h-1.07z"/>
<path d="M345.93 1012.20h1.07v-50.81h-1.07z"/>
<path d="M349.14 1012.20h1.07v-63.32h-1.07z"/>
<path d="M351.27 1012.20h1.07v-81.50h-1.07z"/>
<path d="M354.47 1012.20h1.07v-98.68h-1.07z"/>
<path d="M356.61 1012.20h1.07v-114.83h-1.07z"/>
<path d="M359.81 1012.20h1.07v-133.14h-1.07z"/>
<path d="M361.95 1012.20h1.07v-144.47h-1.07z"/>
<path d="M365.15 1012.20h1.07v-150.16h-1.07z"/>
<path d="M368.35 1012.20h1.07v-154.48h-1.07z"/>
<path d="M370.48 1012.20h1.07v-148.05h-1.07z"/>
<path d="M373.69 1012.20h1.07v-138.94h-1.07z"/>
<path d="M375.82 1012.20h1.07v-126.29h-1.07z"/>
<path d="M379.02 1012.20h1.07v-111.24h-1.07z"/>
<path d="M381.16 1012.20h1.07v-98.34h-1.07z"/>
<path d="M384.36 1012.20h1.07v-85.45h-1.07z"/>
<path d="M386.50 1012.20h1.07v-73.33h-1.07z"/>
<path d="M389.70 1012.20h1.07v-66.71h-1.07z"/>
<path d="M392.90 1012.20h1.07v-60.08h-1.07z"/>
<path d="M395.04 1012.20h1.07v-53.63h-1.07z"/>
<path d="M398.24 1012.20h1.07v-48.82h-1.07z"/>
<path d="M400.37 1012.20h1.07v-47.71h-1.07z"/>
<path d="M403.58 1012.20h1.07v-42.78h-1.07z"/>
<path d="M405.71 1012.20h1.07v-38.68h-1.07z"/>
<path d="M408.91 1012.20h1.07v-32.52h-1.07z"/>
<path d="M411.05 1012.20h1.07v-25.61h-1.07z"/>
<path d="M414.25 1012.20h1.07v-18.30h-1.07z"/>
<path d="M417.45 1012.20h1.07v-10.48h-1.07z"/>
<path d="M419.59 1012.20h1.07v-5.42h-1.07z"/>
<path d="M422.79 1012.20h1.07v-2.03h-1.07z"/>
</g>
<line x1="390.10" y1="850.10" x2="390.10" y2="1012.20" stroke="#ff0000" stroke-width="2.2"/>
<rect x="293.20" y="850.10" width="150.30" height="162.10" fill="none" stroke="#000" stroke-width="1.09"/>
<g stroke="#000" stroke-width="1.09">
<line x1="332.82" y1="1012.20" x2="332.82" y2="1016.97"/>
<line x1="401.14" y1="1012.20" x2="401.14" y2="1016.97"/>
<line x1="288.43" y1="1012.20" x2="293.20" y2="1012.20"/>
<line x1="288.43" y1="946.50" x2="293.20" y2="946.50"/>
<line x1="288.43" y1="880.80" x2="293.20" y2="880.80"/>
</g>
<text x="314.60" y="1036.20" font-size="20.0" textLength="36.46" lengthAdjust="spacingAndGlyphs">175</text>
<text x="382.91" y="1036.20" font-size="20.0" textLength="36.46" lengthAdjust="spacingAndGlyphs">200</text>
<text x="271.45" y="1019.50" font-size="20.0" textLength="12.15" lengthAdjust="spacingAndGlyphs">0</text>
<text x="222.84" y="953.80" font-size="20.0" textLength="60.76" lengthAdjust="spacingAndGlyphs">10000</text>
<text x="222.84" y="888.10" font-size="20.0" textLength="60.76" lengthAdjust="spacingAndGlyphs">20000</text>
<text x="322.25" y="1059.60" font-size="20.0" textLength="92.20" lengthAdjust="spacingAndGlyphs">grayscale</text>
<use href="#og4" x="453.10" y="0.00" filter="url(#th4)"/>
<rect x="519.60" y="856.05" width="150.30" height="150.30" fill="none" stroke="#000" stroke-width="1.09"/>
<g stroke="#000" stroke-width="1.09">
<line x1="519.60" y1="1006.35" x2="519.60" y2="1011.12"/>
<line x1="514.83" y1="1006.35" x2="519.60" y2="1006.35"/>
<line x1="594.75" y1="1006.35" x2="594.75" y2="1011.12"/>
<line x1="514.83" y1="931.20" x2="519.60" y2="931.20"/>
<line x1="669.90" y1="1006.35" x2="669.90" y2="1011.12"/>
<line x1="514.83" y1="856.05" x2="519.60" y2="856.05"/>
</g>
<text x="504.41" y="1030.35" font-size="20.0" textLength="30.38" lengthAdjust="spacingAndGlyphs">0.0</text>
<text x="479.62" y="1013.65" font-size="20.0" textLength="30.38" lengthAdjust="spacingAndGlyphs">0.0</text>
<text x="579.56" y="1030.35" font-size="20.0" textLength="30.38" lengthAdjust="spacingAndGlyphs">0.5</text>
<text x="479.62" y="938.50" font-size="20.0" textLength="30.38" lengthAdjust="spacingAndGlyphs">0.5</text>
<text x="654.71" y="1030.35" font-size="20.0" textLength="30.38" lengthAdjust="spacingAndGlyphs">1.0</text>
<text x="479.62" y="863.35" font-size="20.0" textLength="30.38" lengthAdjust="spacingAndGlyphs">1.0</text>
<text x="564.06" y="1053.75" font-size="20.0" textLength="61.39" lengthAdjust="spacingAndGlyphs">x (cm)</text>
<text transform="translate(471.20,931.20) rotate(-90)" x="-30.05" y="0" font-size="20.0" textLength="60.11" lengthAdjust="spacingAndGlyphs">z (cm)</text>
<text x="97.43" y="847.75" font-size="23.5" textLength="88.44" lengthAdjust="spacingAndGlyphs">Original</text>
<text x="309.73" y="841.80" font-size="23.5" textLength="117.24" lengthAdjust="spacingAndGlyphs">Histogram</text>
<text x="524.94" y="847.75" font-size="23.5" textLength="139.63" lengthAdjust="spacingAndGlyphs">Thresholded</text>
<text class="pl" y="833.30"><tspan x="5.97" font-size="28.0">(</tspan><tspan x="16.68" font-size="25.0">j</tspan><tspan x="22.14" font-size="28.0">)</tspan></text>
<text class="pl" y="833.30"><tspan x="264.57" font-size="28.0">(</tspan><tspan x="273.52" font-size="25.0">k</tspan><tspan x="286.14" font-size="28.0">)</tspan></text>
<text class="pl" y="833.30"><tspan x="484.57" font-size="28.0">(</tspan><tspan x="493.59" font-size="25.0">l</tspan><tspan x="500.24" font-size="28.0">)</tspan></text>
</svg>
</body></html>
